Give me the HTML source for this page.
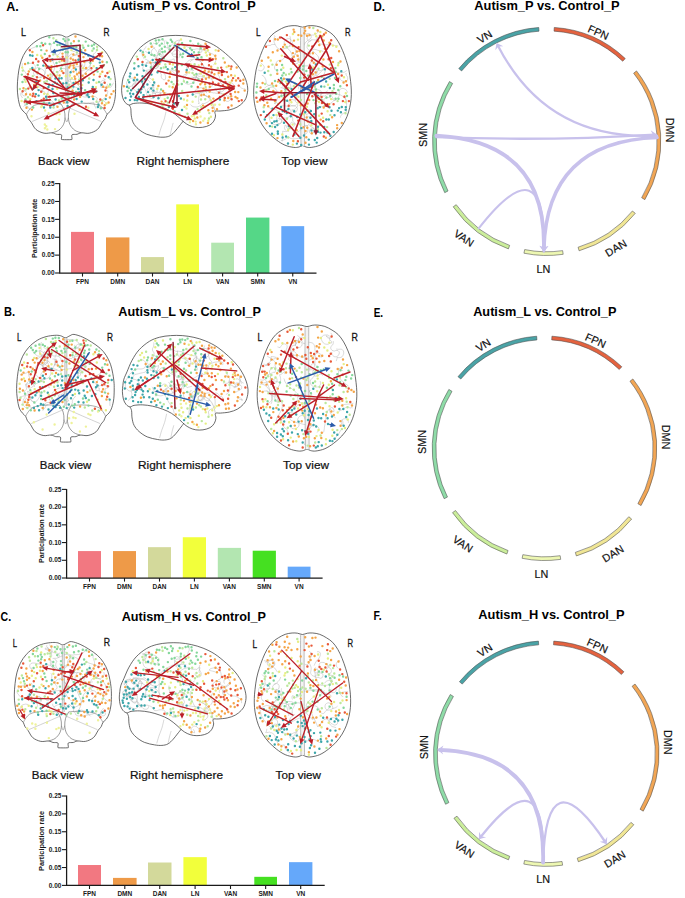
<!DOCTYPE html>
<html><head><meta charset="utf-8"><style>
html,body{margin:0;padding:0;background:#fff;}
svg{display:block;font-family:"Liberation Sans", sans-serif;}
</style></head><body>
<svg width="685" height="898" viewBox="0 0 685 898">
<rect width="685" height="898" fill="#fff"/>
<text x="6.30" y="10.80" font-size="13.5" font-weight="bold" text-anchor="start" textLength="12.50" lengthAdjust="spacingAndGlyphs" fill="#000" >A.</text>
<text x="4.10" y="316.40" font-size="13.5" font-weight="bold" text-anchor="start" textLength="11.10" lengthAdjust="spacingAndGlyphs" fill="#000" >B.</text>
<text x="0.60" y="621.30" font-size="13.5" font-weight="bold" text-anchor="start" textLength="10.50" lengthAdjust="spacingAndGlyphs" fill="#000" >C.</text>
<text x="373.50" y="10.70" font-size="13.5" font-weight="bold" text-anchor="start" textLength="11.50" lengthAdjust="spacingAndGlyphs" fill="#000" >D.</text>
<text x="373.70" y="316.60" font-size="13.5" font-weight="bold" text-anchor="start" textLength="9.40" lengthAdjust="spacingAndGlyphs" fill="#000" >E.</text>
<text x="373.50" y="619.60" font-size="13.5" font-weight="bold" text-anchor="start" textLength="8.10" lengthAdjust="spacingAndGlyphs" fill="#000" >F.</text>
<text x="111.50" y="9.90" font-size="12.7" font-weight="bold" text-anchor="start" textLength="144.20" lengthAdjust="spacingAndGlyphs" fill="#000" >Autism_P vs. Control_P</text>
<text x="118.30" y="315.80" font-size="12.7" font-weight="bold" text-anchor="start" textLength="142.70" lengthAdjust="spacingAndGlyphs" fill="#000" >Autism_L vs. Control_P</text>
<text x="121.70" y="621.10" font-size="12.7" font-weight="bold" text-anchor="start" textLength="144.30" lengthAdjust="spacingAndGlyphs" fill="#000" >Autism_H vs. Control_P</text>
<text x="474.30" y="9.90" font-size="12.7" font-weight="bold" text-anchor="start" textLength="145.40" lengthAdjust="spacingAndGlyphs" fill="#000" >Autism_P vs. Control_P</text>
<text x="473.20" y="316.20" font-size="12.7" font-weight="bold" text-anchor="start" textLength="143.20" lengthAdjust="spacingAndGlyphs" fill="#000" >Autism_L vs. Control_P</text>
<text x="478.30" y="619.30" font-size="12.7" font-weight="bold" text-anchor="start" textLength="146.20" lengthAdjust="spacingAndGlyphs" fill="#000" >Autism_H vs. Control_P</text>
<rect x="71.00" y="231.88" width="23.00" height="41.12" fill="#F27881"/>
<rect x="106.00" y="237.42" width="23.40" height="35.58" fill="#EE9A48"/>
<rect x="141.00" y="257.09" width="23.00" height="15.91" fill="#D3D99B"/>
<rect x="176.20" y="204.34" width="22.80" height="68.66" fill="#F2FF3B"/>
<rect x="211.20" y="242.68" width="22.80" height="30.32" fill="#B3E6B1"/>
<rect x="246.00" y="217.57" width="23.40" height="55.43" fill="#55D787"/>
<rect x="281.30" y="226.15" width="22.90" height="46.85" fill="#65A8FA"/>
<path d="M59.70 183.10 V273.60 M59.10 273.00 H316.50" stroke="#1a1a1a" stroke-width="1.25" fill="none"/>
<path d="M55.10 273.00 H59.7" stroke="#1a1a1a" stroke-width="1.1"/>
<text x="54.50" y="275.20" font-size="6.5" font-weight="bold" text-anchor="end" fill="#1a1a1a" >0.00</text>
<path d="M55.10 255.12 H59.7" stroke="#1a1a1a" stroke-width="1.1"/>
<text x="54.50" y="257.32" font-size="6.5" font-weight="bold" text-anchor="end" fill="#1a1a1a" >0.05</text>
<path d="M55.10 237.24 H59.7" stroke="#1a1a1a" stroke-width="1.1"/>
<text x="54.50" y="239.44" font-size="6.5" font-weight="bold" text-anchor="end" fill="#1a1a1a" >0.10</text>
<path d="M55.10 219.36 H59.7" stroke="#1a1a1a" stroke-width="1.1"/>
<text x="54.50" y="221.56" font-size="6.5" font-weight="bold" text-anchor="end" fill="#1a1a1a" >0.15</text>
<path d="M55.10 201.48 H59.7" stroke="#1a1a1a" stroke-width="1.1"/>
<text x="54.50" y="203.68" font-size="6.5" font-weight="bold" text-anchor="end" fill="#1a1a1a" >0.20</text>
<path d="M55.10 183.60 H59.7" stroke="#1a1a1a" stroke-width="1.1"/>
<text x="54.50" y="185.80" font-size="6.5" font-weight="bold" text-anchor="end" fill="#1a1a1a" >0.25</text>
<path d="M82.50 273.0 V276.60" stroke="#1a1a1a" stroke-width="1.1"/>
<text x="82.50" y="283.70" font-size="6.5" font-weight="bold" text-anchor="middle" fill="#1a1a1a" >FPN</text>
<path d="M117.70 273.0 V276.60" stroke="#1a1a1a" stroke-width="1.1"/>
<text x="117.70" y="283.70" font-size="6.5" font-weight="bold" text-anchor="middle" fill="#1a1a1a" >DMN</text>
<path d="M152.50 273.0 V276.60" stroke="#1a1a1a" stroke-width="1.1"/>
<text x="152.50" y="283.70" font-size="6.5" font-weight="bold" text-anchor="middle" fill="#1a1a1a" >DAN</text>
<path d="M187.60 273.0 V276.60" stroke="#1a1a1a" stroke-width="1.1"/>
<text x="187.60" y="283.70" font-size="6.5" font-weight="bold" text-anchor="middle" fill="#1a1a1a" >LN</text>
<path d="M222.60 273.0 V276.60" stroke="#1a1a1a" stroke-width="1.1"/>
<text x="222.60" y="283.70" font-size="6.5" font-weight="bold" text-anchor="middle" fill="#1a1a1a" >VAN</text>
<path d="M257.70 273.0 V276.60" stroke="#1a1a1a" stroke-width="1.1"/>
<text x="257.70" y="283.70" font-size="6.5" font-weight="bold" text-anchor="middle" fill="#1a1a1a" >SMN</text>
<path d="M292.75 273.0 V276.60" stroke="#1a1a1a" stroke-width="1.1"/>
<text x="292.75" y="283.70" font-size="6.5" font-weight="bold" text-anchor="middle" fill="#1a1a1a" >VN</text>
<text x="36.80" y="228.30" font-size="7.2" font-weight="bold" text-anchor="middle" textLength="59.40" lengthAdjust="spacingAndGlyphs" transform="rotate(-90.00 36.80 228.30)" fill="#1a1a1a" >Participation rate</text>
<rect x="78.00" y="551.07" width="23.00" height="26.93" fill="#F27881"/>
<rect x="113.00" y="551.07" width="23.00" height="26.93" fill="#EE9A48"/>
<rect x="148.00" y="547.17" width="23.00" height="30.83" fill="#D3D99B"/>
<rect x="182.80" y="537.24" width="23.20" height="40.76" fill="#F2FF3B"/>
<rect x="217.80" y="547.88" width="23.20" height="30.12" fill="#B3E6B1"/>
<rect x="252.70" y="550.71" width="23.20" height="27.29" fill="#45E021"/>
<rect x="287.70" y="566.66" width="22.80" height="11.34" fill="#65A8FA"/>
<path d="M66.60 488.90 V578.60 M66.00 578.00 H322.60" stroke="#1a1a1a" stroke-width="1.25" fill="none"/>
<path d="M62.00 578.00 H66.6" stroke="#1a1a1a" stroke-width="1.1"/>
<text x="61.40" y="580.20" font-size="6.5" font-weight="bold" text-anchor="end" fill="#1a1a1a" >0.00</text>
<path d="M62.00 560.28 H66.6" stroke="#1a1a1a" stroke-width="1.1"/>
<text x="61.40" y="562.48" font-size="6.5" font-weight="bold" text-anchor="end" fill="#1a1a1a" >0.05</text>
<path d="M62.00 542.56 H66.6" stroke="#1a1a1a" stroke-width="1.1"/>
<text x="61.40" y="544.76" font-size="6.5" font-weight="bold" text-anchor="end" fill="#1a1a1a" >0.10</text>
<path d="M62.00 524.84 H66.6" stroke="#1a1a1a" stroke-width="1.1"/>
<text x="61.40" y="527.04" font-size="6.5" font-weight="bold" text-anchor="end" fill="#1a1a1a" >0.15</text>
<path d="M62.00 507.12 H66.6" stroke="#1a1a1a" stroke-width="1.1"/>
<text x="61.40" y="509.32" font-size="6.5" font-weight="bold" text-anchor="end" fill="#1a1a1a" >0.20</text>
<path d="M62.00 489.40 H66.6" stroke="#1a1a1a" stroke-width="1.1"/>
<text x="61.40" y="491.60" font-size="6.5" font-weight="bold" text-anchor="end" fill="#1a1a1a" >0.25</text>
<path d="M89.50 578.0 V581.60" stroke="#1a1a1a" stroke-width="1.1"/>
<text x="89.50" y="588.70" font-size="6.5" font-weight="bold" text-anchor="middle" fill="#1a1a1a" >FPN</text>
<path d="M124.50 578.0 V581.60" stroke="#1a1a1a" stroke-width="1.1"/>
<text x="124.50" y="588.70" font-size="6.5" font-weight="bold" text-anchor="middle" fill="#1a1a1a" >DMN</text>
<path d="M159.50 578.0 V581.60" stroke="#1a1a1a" stroke-width="1.1"/>
<text x="159.50" y="588.70" font-size="6.5" font-weight="bold" text-anchor="middle" fill="#1a1a1a" >DAN</text>
<path d="M194.40 578.0 V581.60" stroke="#1a1a1a" stroke-width="1.1"/>
<text x="194.40" y="588.70" font-size="6.5" font-weight="bold" text-anchor="middle" fill="#1a1a1a" >LN</text>
<path d="M229.40 578.0 V581.60" stroke="#1a1a1a" stroke-width="1.1"/>
<text x="229.40" y="588.70" font-size="6.5" font-weight="bold" text-anchor="middle" fill="#1a1a1a" >VAN</text>
<path d="M264.30 578.0 V581.60" stroke="#1a1a1a" stroke-width="1.1"/>
<text x="264.30" y="588.70" font-size="6.5" font-weight="bold" text-anchor="middle" fill="#1a1a1a" >SMN</text>
<path d="M299.10 578.0 V581.60" stroke="#1a1a1a" stroke-width="1.1"/>
<text x="299.10" y="588.70" font-size="6.5" font-weight="bold" text-anchor="middle" fill="#1a1a1a" >VN</text>
<text x="44.20" y="533.50" font-size="7.2" font-weight="bold" text-anchor="middle" textLength="59.00" lengthAdjust="spacingAndGlyphs" transform="rotate(-90.00 44.20 533.50)" fill="#1a1a1a" >Participation rate</text>
<rect x="78.00" y="865.02" width="23.00" height="20.38" fill="#F27881"/>
<rect x="113.00" y="877.89" width="23.60" height="7.51" fill="#EE9A48"/>
<rect x="148.00" y="862.51" width="23.50" height="22.89" fill="#D3D99B"/>
<rect x="183.40" y="857.15" width="23.40" height="28.25" fill="#F2FF3B"/>
<rect x="254.30" y="876.82" width="22.70" height="8.58" fill="#45E021"/>
<rect x="289.00" y="862.16" width="23.40" height="23.24" fill="#65A8FA"/>
<path d="M66.60 795.50 V886.00 M66.00 885.40 H324.70" stroke="#1a1a1a" stroke-width="1.25" fill="none"/>
<path d="M62.00 885.40 H66.6" stroke="#1a1a1a" stroke-width="1.1"/>
<text x="61.40" y="887.60" font-size="6.5" font-weight="bold" text-anchor="end" fill="#1a1a1a" >0.00</text>
<path d="M62.00 867.52 H66.6" stroke="#1a1a1a" stroke-width="1.1"/>
<text x="61.40" y="869.72" font-size="6.5" font-weight="bold" text-anchor="end" fill="#1a1a1a" >0.05</text>
<path d="M62.00 849.64 H66.6" stroke="#1a1a1a" stroke-width="1.1"/>
<text x="61.40" y="851.84" font-size="6.5" font-weight="bold" text-anchor="end" fill="#1a1a1a" >0.10</text>
<path d="M62.00 831.76 H66.6" stroke="#1a1a1a" stroke-width="1.1"/>
<text x="61.40" y="833.96" font-size="6.5" font-weight="bold" text-anchor="end" fill="#1a1a1a" >0.15</text>
<path d="M62.00 813.88 H66.6" stroke="#1a1a1a" stroke-width="1.1"/>
<text x="61.40" y="816.08" font-size="6.5" font-weight="bold" text-anchor="end" fill="#1a1a1a" >0.20</text>
<path d="M62.00 796.00 H66.6" stroke="#1a1a1a" stroke-width="1.1"/>
<text x="61.40" y="798.20" font-size="6.5" font-weight="bold" text-anchor="end" fill="#1a1a1a" >0.25</text>
<path d="M89.50 885.4 V889.00" stroke="#1a1a1a" stroke-width="1.1"/>
<text x="89.50" y="896.10" font-size="6.5" font-weight="bold" text-anchor="middle" fill="#1a1a1a" >FPN</text>
<path d="M124.80 885.4 V889.00" stroke="#1a1a1a" stroke-width="1.1"/>
<text x="124.80" y="896.10" font-size="6.5" font-weight="bold" text-anchor="middle" fill="#1a1a1a" >DMN</text>
<path d="M159.75 885.4 V889.00" stroke="#1a1a1a" stroke-width="1.1"/>
<text x="159.75" y="896.10" font-size="6.5" font-weight="bold" text-anchor="middle" fill="#1a1a1a" >DAN</text>
<path d="M195.10 885.4 V889.00" stroke="#1a1a1a" stroke-width="1.1"/>
<text x="195.10" y="896.10" font-size="6.5" font-weight="bold" text-anchor="middle" fill="#1a1a1a" >LN</text>
<path d="M230.50 885.4 V889.00" stroke="#1a1a1a" stroke-width="1.1"/>
<text x="230.50" y="896.10" font-size="6.5" font-weight="bold" text-anchor="middle" fill="#1a1a1a" >VAN</text>
<path d="M265.65 885.4 V889.00" stroke="#1a1a1a" stroke-width="1.1"/>
<text x="265.65" y="896.10" font-size="6.5" font-weight="bold" text-anchor="middle" fill="#1a1a1a" >SMN</text>
<path d="M300.70 885.4 V889.00" stroke="#1a1a1a" stroke-width="1.1"/>
<text x="300.70" y="896.10" font-size="6.5" font-weight="bold" text-anchor="middle" fill="#1a1a1a" >VN</text>
<text x="43.60" y="841.00" font-size="7.2" font-weight="bold" text-anchor="middle" textLength="60.00" lengthAdjust="spacingAndGlyphs" transform="rotate(-90.00 43.60 841.00)" fill="#1a1a1a" >Participation rate</text>
<path d="M625.28 58.55 A114.15 114.15 0 0 0 554.27 27.45 L554.02 31.14 A110.45 110.45 0 0 1 622.73 61.23 Z" fill="#E4623F" stroke="#4a4a4a" stroke-width="0.55"/>
<path d="M538.74 27.48 A114.15 114.15 0 0 0 458.75 68.59 L461.60 70.95 A110.45 110.45 0 0 1 539.00 31.17 Z" fill="#4AA3A6" stroke="#4a4a4a" stroke-width="0.55"/>
<path d="M449.48 81.54 A114.15 114.15 0 0 0 444.72 192.64 L448.03 190.98 A110.45 110.45 0 0 1 452.63 83.48 Z" fill="#8FDCA8" stroke="#4a4a4a" stroke-width="0.55"/>
<path d="M453.19 206.82 A114.15 114.15 0 0 0 508.41 248.89 L509.65 245.40 A110.45 110.45 0 0 1 456.22 204.70 Z" fill="#CBEE9B" stroke="#4a4a4a" stroke-width="0.55"/>
<path d="M523.94 253.21 A114.15 114.15 0 0 0 563.18 254.30 L562.64 250.64 A110.45 110.45 0 0 1 524.68 249.58 Z" fill="#EDF7B2" stroke="#4a4a4a" stroke-width="0.55"/>
<path d="M579.12 250.80 A114.15 114.15 0 0 0 635.29 213.34 L632.41 211.01 A110.45 110.45 0 0 1 578.07 247.25 Z" fill="#F0E695" stroke="#4a4a4a" stroke-width="0.55"/>
<path d="M644.85 199.63 A114.15 114.15 0 0 0 636.53 70.92 L633.62 73.20 A110.45 110.45 0 0 1 641.67 197.74 Z" fill="#F2A655" stroke="#4a4a4a" stroke-width="0.55"/>
<text x="484.70" y="40.70" font-size="10.8" font-weight="normal" text-anchor="middle" transform="rotate(-32.00 484.70 36.90)" fill="#111" stroke="#111" stroke-width="0.18">VN</text>
<text x="598.40" y="36.20" font-size="10.8" font-weight="normal" text-anchor="middle" transform="rotate(24.00 598.40 32.40)" fill="#111" stroke="#111" stroke-width="0.18">FPN</text>
<text x="669.50" y="133.80" font-size="10.8" font-weight="normal" text-anchor="middle" transform="rotate(90.00 669.50 130.00)" fill="#111" stroke="#111" stroke-width="0.18">DMN</text>
<text x="615.90" y="251.80" font-size="10.8" font-weight="normal" text-anchor="middle" transform="rotate(-31.00 615.90 248.00)" fill="#111" stroke="#111" stroke-width="0.18">DAN</text>
<text x="543.50" y="272.50" font-size="10.8" font-weight="normal" text-anchor="middle" fill="#111" stroke="#111" stroke-width="0.18">LN</text>
<text x="464.00" y="242.00" font-size="10.8" font-weight="normal" text-anchor="middle" transform="rotate(33.00 464.00 238.20)" fill="#111" stroke="#111" stroke-width="0.18">VAN</text>
<text x="422.90" y="138.80" font-size="10.8" font-weight="normal" text-anchor="middle" transform="rotate(-90.00 422.90 135.00)" fill="#111" stroke="#111" stroke-width="0.18">SMN</text>
<path d="M436.33 137.11 Q546.70 141.35 654.44 134.57" fill="none" stroke="#C8C1EC" stroke-width="2.3" stroke-linecap="round"/>
<path d="M656.93 134.41 L651.23 139.28 L652.94 134.67 L650.66 130.30 Z" fill="#C8C1EC"/>
<path d="M657.00 135.57 Q546.70 141.35 497.69 45.17" fill="none" stroke="#C8C1EC" stroke-width="2.3" stroke-linecap="round"/>
<path d="M496.56 42.94 L503.29 46.24 L498.37 46.50 L495.27 50.33 Z" fill="#C8C1EC"/>
<path d="M436.40 135.57 Q546.70 141.35 543.87 249.26" fill="none" stroke="#C8C1EC" stroke-width="3.8" stroke-linecap="round"/>
<path d="M543.81 251.76 L539.47 245.65 L543.91 247.76 L548.46 245.88 Z" fill="#C8C1EC"/>
<path d="M657.08 137.50 Q546.70 141.35 543.87 249.26" fill="none" stroke="#C8C1EC" stroke-width="3.5" stroke-linecap="round"/>
<path d="M543.81 251.76 L539.47 245.65 L543.91 247.76 L548.46 245.88 Z" fill="#C8C1EC"/>
<path d="M478.70 228.39 Q546.70 141.35 543.81 251.76" fill="none" stroke="#C8C1EC" stroke-width="2.1" stroke-linecap="round"/>
<path d="M621.80 366.79 A112.30 112.30 0 0 0 551.94 336.20 L551.70 339.89 A108.60 108.60 0 0 1 619.26 369.47 Z" fill="#E4623F" stroke="#4a4a4a" stroke-width="0.55"/>
<path d="M536.67 336.22 A112.30 112.30 0 0 0 457.97 376.67 L460.82 379.03 A108.60 108.60 0 0 1 536.92 339.91 Z" fill="#4AA3A6" stroke="#4a4a4a" stroke-width="0.55"/>
<path d="M448.85 389.41 A112.30 112.30 0 0 0 444.17 498.71 L447.48 497.05 A108.60 108.60 0 0 1 452.00 391.35 Z" fill="#8FDCA8" stroke="#4a4a4a" stroke-width="0.55"/>
<path d="M452.51 512.66 A112.30 112.30 0 0 0 506.83 554.04 L508.07 550.56 A108.60 108.60 0 0 1 455.54 510.54 Z" fill="#CBEE9B" stroke="#4a4a4a" stroke-width="0.55"/>
<path d="M522.11 558.30 A112.30 112.30 0 0 0 560.71 559.37 L560.18 555.71 A108.60 108.60 0 0 1 522.85 554.67 Z" fill="#EDF7B2" stroke="#4a4a4a" stroke-width="0.55"/>
<path d="M576.39 555.93 A112.30 112.30 0 0 0 631.65 519.07 L628.78 516.74 A108.60 108.60 0 0 1 575.34 552.38 Z" fill="#F0E695" stroke="#4a4a4a" stroke-width="0.55"/>
<path d="M641.06 505.58 A112.30 112.30 0 0 0 632.87 378.96 L629.96 381.24 A108.60 108.60 0 0 1 637.88 503.69 Z" fill="#F2A655" stroke="#4a4a4a" stroke-width="0.55"/>
<text x="483.24" y="348.85" font-size="10.8" font-weight="normal" text-anchor="middle" transform="rotate(-32.00 483.24 345.05)" fill="#111" stroke="#111" stroke-width="0.18">VN</text>
<text x="595.58" y="344.41" font-size="10.8" font-weight="normal" text-anchor="middle" transform="rotate(24.00 595.58 340.61)" fill="#111" stroke="#111" stroke-width="0.18">FPN</text>
<text x="665.83" y="440.84" font-size="10.8" font-weight="normal" text-anchor="middle" transform="rotate(90.00 665.83 437.04)" fill="#111" stroke="#111" stroke-width="0.18">DMN</text>
<text x="612.87" y="557.42" font-size="10.8" font-weight="normal" text-anchor="middle" transform="rotate(-31.00 612.87 553.62)" fill="#111" stroke="#111" stroke-width="0.18">DAN</text>
<text x="541.34" y="577.87" font-size="10.8" font-weight="normal" text-anchor="middle" fill="#111" stroke="#111" stroke-width="0.18">LN</text>
<text x="462.79" y="547.74" font-size="10.8" font-weight="normal" text-anchor="middle" transform="rotate(33.00 462.79 543.94)" fill="#111" stroke="#111" stroke-width="0.18">VAN</text>
<text x="422.19" y="445.78" font-size="10.8" font-weight="normal" text-anchor="middle" transform="rotate(-90.00 422.19 441.98)" fill="#111" stroke="#111" stroke-width="0.18">SMN</text>
<path d="M623.91 671.81 A112.75 112.75 0 0 0 553.77 641.10 L553.53 644.79 A109.05 109.05 0 0 1 621.37 674.50 Z" fill="#E4623F" stroke="#4a4a4a" stroke-width="0.55"/>
<path d="M538.43 641.12 A112.75 112.75 0 0 0 459.42 681.73 L462.28 684.09 A109.05 109.05 0 0 1 538.69 644.82 Z" fill="#4AA3A6" stroke="#4a4a4a" stroke-width="0.55"/>
<path d="M450.27 694.52 A112.75 112.75 0 0 0 445.57 804.26 L448.88 802.60 A109.05 109.05 0 0 1 453.42 696.46 Z" fill="#8FDCA8" stroke="#4a4a4a" stroke-width="0.55"/>
<path d="M453.94 818.27 A112.75 112.75 0 0 0 508.48 859.82 L509.72 856.33 A109.05 109.05 0 0 1 456.97 816.15 Z" fill="#CBEE9B" stroke="#4a4a4a" stroke-width="0.55"/>
<path d="M523.82 864.09 A112.75 112.75 0 0 0 562.58 865.17 L562.04 861.51 A109.05 109.05 0 0 1 524.56 860.46 Z" fill="#EDF7B2" stroke="#4a4a4a" stroke-width="0.55"/>
<path d="M578.32 861.71 A112.75 112.75 0 0 0 633.80 824.71 L630.93 822.38 A109.05 109.05 0 0 1 577.27 858.16 Z" fill="#F0E695" stroke="#4a4a4a" stroke-width="0.55"/>
<path d="M643.25 811.16 A112.75 112.75 0 0 0 635.03 684.03 L632.12 686.31 A109.05 109.05 0 0 1 640.07 809.27 Z" fill="#F2A655" stroke="#4a4a4a" stroke-width="0.55"/>
<text x="484.92" y="653.99" font-size="10.8" font-weight="normal" text-anchor="middle" transform="rotate(-32.00 484.92 650.19)" fill="#111" stroke="#111" stroke-width="0.18">VN</text>
<text x="597.48" y="649.54" font-size="10.8" font-weight="normal" text-anchor="middle" transform="rotate(24.00 597.48 645.74)" fill="#111" stroke="#111" stroke-width="0.18">FPN</text>
<text x="667.87" y="746.16" font-size="10.8" font-weight="normal" text-anchor="middle" transform="rotate(90.00 667.87 742.36)" fill="#111" stroke="#111" stroke-width="0.18">DMN</text>
<text x="614.81" y="862.98" font-size="10.8" font-weight="normal" text-anchor="middle" transform="rotate(-31.00 614.81 859.18)" fill="#111" stroke="#111" stroke-width="0.18">DAN</text>
<text x="543.13" y="883.48" font-size="10.8" font-weight="normal" text-anchor="middle" fill="#111" stroke="#111" stroke-width="0.18">LN</text>
<text x="464.43" y="853.28" font-size="10.8" font-weight="normal" text-anchor="middle" transform="rotate(33.00 464.43 849.48)" fill="#111" stroke="#111" stroke-width="0.18">VAN</text>
<text x="423.74" y="751.11" font-size="10.8" font-weight="normal" text-anchor="middle" transform="rotate(-90.00 423.74 747.31)" fill="#111" stroke="#111" stroke-width="0.18">SMN</text>
<path d="M543.06 862.60 Q546.30 753.60 439.81 749.88" fill="none" stroke="#C8C1EC" stroke-width="3.8" stroke-linecap="round"/>
<path d="M437.32 749.79 L443.47 745.51 L441.31 749.93 L443.16 754.50 Z" fill="#C8C1EC"/>
<path d="M543.06 862.60 Q546.30 753.60 480.41 837.33" fill="none" stroke="#C8C1EC" stroke-width="2.3" stroke-linecap="round"/>
<path d="M478.86 839.30 L479.04 831.80 L481.34 836.15 L486.11 837.37 Z" fill="#C8C1EC"/>
<path d="M543.06 862.60 Q546.30 753.60 605.42 842.24" fill="none" stroke="#C8C1EC" stroke-width="2.3" stroke-linecap="round"/>
<path d="M606.81 844.32 L599.73 841.83 L604.59 841.00 L607.22 836.84 Z" fill="#C8C1EC"/>
<path d="M47.9 78.6 L48.7 77.6 L49.8 76.9 L50.9 76.3 L52.2 76.0 L53.4 75.5 L54.7 75.2 L56.0 75.2 L57.1 75.8 L57.5 74.5 L57.9 73.3 L58.4 72.1 L59.1 71.0 L59.9 70.0 L60.8 69.1 L62.0 68.5 L63.3 68.4 L64.6 68.5 L65.7 69.1 L66.5 70.1 L67.1 71.3" fill="none" stroke="#b4b4b4" stroke-width="0.5" stroke-linejoin="round"/>
<path d="M92.9 56.3 L93.3 55.0 L93.5 53.8 L94.7 53.3 L95.6 52.3 L96.4 51.3 L97.2 50.2 L97.4 49.0 L97.2 47.7 L97.0 46.4" fill="none" stroke="#b4b4b4" stroke-width="0.5" stroke-linejoin="round"/>
<path d="M82.7 82.1 L81.8 81.2 L80.9 80.2 L80.1 79.2 L79.3 78.1 L78.7 77.0 L78.2 75.8 L77.7 74.6 L77.2 73.4 L76.6 72.3 L76.0 71.1 L75.7 69.9 L75.7 68.6 L75.3 67.3 L74.8 66.1 L74.5 64.9 L74.1 63.6 L73.8 62.4 L73.4 61.1 L73.0 59.9 L72.8 58.6" fill="none" stroke="#b4b4b4" stroke-width="0.5" stroke-linejoin="round"/>
<path d="M79.3 72.2 L79.3 70.9 L79.4 69.6 L79.8 68.4 L80.2 67.2 L80.3 65.9 L80.4 64.6 L80.3 63.3 L80.1 62.0 L79.7 60.8 L79.4 59.5 L78.9 58.3 L78.6 57.0 L78.2 55.8 L77.5 54.7 L76.2 55.0 L74.9 55.2 L73.7 54.9 L72.5 54.4 L71.3 53.8 L70.5 54.9 L69.5 55.7 L68.5 56.5 L67.4 57.2 L66.1 57.3" fill="none" stroke="#b4b4b4" stroke-width="0.5" stroke-linejoin="round"/>
<path d="M103.3 78.2 L104.4 78.9 L105.3 79.9 L104.0 80.3 L102.7 80.3 L101.6 80.9 L100.8 82.0 L100.5 83.2 L100.7 84.5 L101.2 85.7 L102.0 86.7 L103.2 87.4 L104.4 87.6 L105.7 87.3 L106.6 86.3 L107.3 85.2 L107.5 83.9" fill="none" stroke="#b4b4b4" stroke-width="0.5" stroke-linejoin="round"/>
<path d="M43.5 63.8 L44.0 62.6 L44.7 61.5 L45.6 60.6 L46.4 59.6 L47.4 58.8 L48.5 58.0 L49.4 57.1 L50.4 57.9 L51.3 58.8 L52.3 59.7 L52.9 60.9 L53.2 62.1 L53.8 63.3 L54.4 64.5 L54.7 65.7 L54.8 67.0 L54.6 68.3 L54.2 69.5 L53.8 70.8 L53.3 72.0 L53.0 73.2 L52.6 74.5 L52.2 75.7 L52.0 77.0 L51.5 78.2 L51.3 79.5 L50.0 79.2 L48.7 79.1 L47.4 79.3 L46.3 79.9 L45.4 80.8 L44.6 81.9 L44.0 83.0 L43.8 84.3" fill="none" stroke="#b4b4b4" stroke-width="0.5" stroke-linejoin="round"/>
<path d="M30.2 109.6 L29.2 108.8 L28.4 107.7 L28.0 106.5 L26.7 106.5 L25.5 105.8 L24.8 104.8 L24.4 103.5 L24.4 102.2 L24.6 100.9 L25.0 99.7 L25.8 98.7 L26.4 99.9 L26.7 101.1 L26.5 102.4 L26.2 103.7 L25.4 104.7 L24.5 105.7 L23.5 106.5" fill="none" stroke="#b4b4b4" stroke-width="0.5" stroke-linejoin="round"/>
<path d="M52.6 43.1 L51.7 44.0 L51.1 45.2 L50.8 46.5 L50.5 47.7 L50.5 49.0 L50.9 50.3 L51.6 51.4 L52.5 52.2 L53.6 52.9 L54.8 53.6 L55.8 54.4 L56.8 55.2 L57.8 56.0 L58.9 56.7 L59.9 57.6 L61.0 58.2 L62.3 58.5 L63.5 58.3 L64.7 57.7 L65.6 56.7 L66.2 55.6" fill="none" stroke="#b4b4b4" stroke-width="0.5" stroke-linejoin="round"/>
<path d="M94.8 71.9 L93.5 71.7 L92.2 71.3 L91.1 70.7 L89.9 70.1 L88.7 69.7 L87.4 69.7 L86.1 69.6 L85.0 68.9 L84.0 68.1 L83.3 67.0 L82.9 65.8 L82.4 64.6 L81.3 65.3 L80.4 66.2 L79.7 67.3 L79.6 68.6 L80.0 69.8 L81.0 70.7 L82.2 70.9 L83.4 70.3 L84.6 69.9 L85.9 69.4 L86.9 68.6 L87.9 67.9 L88.8 66.9 L89.6 65.8 L90.4 64.8 L90.8 63.6" fill="none" stroke="#b4b4b4" stroke-width="0.5" stroke-linejoin="round"/>
<path d="M30.3 85.0 L29.4 85.9 L28.6 86.9 L27.7 87.8 L26.8 88.8 L25.8 89.7 L24.8 90.4 L23.7 91.2 L22.8 92.1 L22.0 93.2 L22.2 94.5 L23.0 95.5 L24.2 95.9 L25.5 95.7 L26.4 94.7 L26.8 93.4 L26.4 92.2 L25.5 91.2 L24.3 90.7 L23.1 91.0 L21.9 91.7 L21.1 92.7 L20.7 93.9 L20.8 95.2 L21.3 96.4 L22.4 97.1 L21.8 98.2" fill="none" stroke="#b4b4b4" stroke-width="0.5" stroke-linejoin="round"/>
<path d="M96.1 101.8 L96.6 100.6 L97.0 99.4 L97.4 98.1 L96.3 97.4 L95.3 96.7 L94.0 96.4 L92.7 96.2 L91.4 96.4 L90.2 96.7 L88.9 96.7 L87.6 96.9 L86.3 96.9 L85.0 97.1 L83.7 96.9 L82.7 96.1 L81.4 95.8 L80.1 95.5 L78.9 95.2 L77.6 95.0" fill="none" stroke="#b4b4b4" stroke-width="0.5" stroke-linejoin="round"/>
<path d="M83.5 103.1 L84.8 103.3 L86.1 103.5 L87.4 103.2 L88.6 102.9 L89.9 103.0 L91.2 102.7 L92.5 102.4 L93.8 102.4 L93.9 103.7 L94.4 104.9 L94.9 106.1 L95.5 107.3 L95.8 108.5" fill="none" stroke="#b4b4b4" stroke-width="0.5" stroke-linejoin="round"/>
<path d="M63.3 100.2 L63.1 98.9 L63.3 97.6 L63.3 96.3 L63.4 95.0 L63.8 93.8 L64.3 92.6 L65.2 91.7 L66.4 91.2 L67.7 90.9 L68.8 90.2 L69.5 89.1 L69.7 87.8 L69.2 86.6 L68.4 85.6 L67.6 84.6 L66.5 83.9 L65.3 83.4 L64.0 83.5 L62.8 84.1 L61.9 85.0" fill="none" stroke="#b4b4b4" stroke-width="0.5" stroke-linejoin="round"/>
<path d="M26.9 64.0 L28.2 63.8 L29.4 63.5 L30.7 63.3 L32.0 63.4 L33.3 63.7 L34.2 64.6 L35.0 65.6 L35.4 66.8 L35.3 68.1 L35.1 69.4 L35.2 70.7 L35.5 72.0 L36.1 73.2 L36.9 74.2 L37.8 75.1 L38.0 73.9 L38.2 72.6 L38.2 71.3 L38.4 70.0" fill="none" stroke="#b4b4b4" stroke-width="0.5" stroke-linejoin="round"/>
<path d="M40.2 76.5 L40.4 77.8 L41.5 77.2 L42.7 76.7 L43.8 76.0 L44.5 74.9 L44.7 73.6 L44.6 72.3 L44.2 71.1 L43.5 70.0 L42.4 69.4 L41.2 68.8 L40.0 68.2 L38.8 67.7 L37.5 67.6 L36.4 68.2 L35.4 69.0 L34.5 69.9 L34.0 71.1 L33.7 72.4 L33.6 73.7 L34.2 74.9 L35.0 75.9 L35.9 76.8 L37.2 77.3 L38.4 77.4 L39.7 77.3 L41.0 77.1 L42.2 76.6 L43.2 75.7 L44.2 74.9 L45.0 73.9 L45.5 72.7 L45.7 71.4 L45.6 70.1 L45.2 68.9 L44.8 67.7" fill="none" stroke="#b4b4b4" stroke-width="0.5" stroke-linejoin="round"/>
<path d="M82.3 77.0 L82.9 75.9 L83.6 74.8 L84.3 73.7 L85.1 72.7 L86.1 71.9 L87.1 71.0 L88.1 70.2 L89.1 69.4 L89.7 68.3 L90.0 67.0 L90.3 65.7 L90.2 64.4 L89.7 63.2 L89.0 62.1 L87.8 61.6 L86.6 61.8 L85.4 62.5 L84.8 63.6 L84.8 64.9 L84.5 66.2 L83.9 67.3" fill="none" stroke="#b4b4b4" stroke-width="0.5" stroke-linejoin="round"/>
<path d="M80.6 93.5 L80.2 92.3 L79.2 91.3 L80.0 90.3 L80.1 89.0 L80.0 87.7 L79.4 86.5 L78.6 85.6 L78.1 84.4 L78.3 83.1 L79.0 82.0 L80.0 81.1 L80.5 82.3 L80.6 83.6 L79.7 84.6 L78.4 85.0 L77.2 84.6 L76.4 83.6 L76.3 82.3 L75.9 81.0 L75.0 80.1 L73.8 79.6 L72.5 79.4 L71.2 79.4 L69.9 79.5 L68.8 80.1 L67.8 81.0 L69.1 81.3 L70.4 81.2" fill="none" stroke="#b4b4b4" stroke-width="0.5" stroke-linejoin="round"/>
<path d="M105.1 81.0 L104.0 81.8 L103.0 82.5 L102.2 83.6 L101.3 84.5 L101.0 85.8 L100.7 87.1 L102.0 87.5 L103.3 87.5 L104.6 87.4 L105.8 87.2 L107.1 87.0 L108.4 87.0 L109.7 87.1 L111.0 87.2 L111.6 86.1 L112.3 85.0 L113.0 83.9 L113.5 82.7" fill="none" stroke="#b4b4b4" stroke-width="0.5" stroke-linejoin="round"/>
<path d="M81.3 93.4 L81.4 92.1 L80.8 90.9 L80.1 89.8 L79.2 88.9 L78.1 88.1 L76.9 87.6 L75.7 87.2 L74.4 87.2 L73.4 88.0 L72.5 89.0 L72.0 90.2 L71.6 91.4 L71.6 92.7 L71.6 94.0 L71.7 95.3 L71.7 96.6 L71.7 97.9 L71.6 99.2 L70.8 100.2 L70.0 101.2 L69.2 102.3 L68.2 103.1 L67.2 103.9 L66.2 103.2 L65.0 102.5 L64.0 101.8 L62.7 101.4 L61.4 101.6 L60.5 102.4 L60.1 103.7 L60.6 104.9" fill="none" stroke="#b4b4b4" stroke-width="0.5" stroke-linejoin="round"/>
<path d="M42.4 92.2 L42.6 90.9 L42.3 89.6 L41.4 88.7 L40.5 87.8 L39.5 86.9 L38.5 86.1 L37.2 85.8 L36.0 85.7 L34.7 86.0 L35.4 87.1 L36.4 87.9 L37.4 88.8 L38.5 89.6 L39.6 90.1 L40.9 90.4 L42.2 90.7 L43.4 91.1 L44.3 92.0 L45.3 92.9 L46.2 93.9 L46.9 94.9 L47.7 96.0 L48.5 97.0 L49.3 98.0 L50.1 99.0 L50.8 100.1 L51.7 101.0 L52.8 101.8 L53.7 102.7 L54.7 103.6 L55.6 104.5 L56.3 105.6 L57.1 106.7" fill="none" stroke="#b4b4b4" stroke-width="0.5" stroke-linejoin="round"/>
<path d="M98.2 105.9 L97.9 104.6 L97.9 103.3 L97.7 102.1 L99.0 101.8 L100.1 101.1 L101.3 100.6 L102.3 99.8 L103.3 99.0 L104.4 98.2 L105.3 97.3 L106.2 96.4 L106.8 95.2 L107.2 94.0 L107.6 92.7 L107.8 91.5 L107.4 90.2" fill="none" stroke="#b4b4b4" stroke-width="0.5" stroke-linejoin="round"/>
<path d="M104.1 107.9 L102.8 107.7 L101.5 107.4 L100.3 107.1 L99.1 106.5 L98.3 105.4 L98.2 104.1 L98.5 102.9 L99.3 101.8 L100.2 100.9 L101.3 100.3 L102.6 100.3 L103.8 100.7 L104.8 101.6 L105.6 102.6 L106.1 103.8" fill="none" stroke="#b4b4b4" stroke-width="0.5" stroke-linejoin="round"/>
<path d="M79.2 47.9 L78.3 48.7 L77.0 48.9 L75.7 48.5 L74.8 49.4 L73.5 49.5 L72.3 49.0 L71.1 48.5 L70.1 47.7 L71.2 46.9 L72.3 46.4 L73.6 46.2 L74.9 46.6 L75.7 47.6 L76.2 48.8 L76.0 50.1 L75.2 51.1 L74.0 51.6 L72.7 51.4 L71.9 50.4 L71.4 49.2 L71.7 47.9 L72.4 46.8 L73.5 46.2 L74.8 45.9 L76.1 46.0" fill="none" stroke="#b4b4b4" stroke-width="0.5" stroke-linejoin="round"/>
<path d="M36.2 79.0 L36.9 80.1 L37.5 81.2 L38.3 82.2 L37.0 82.4 L35.7 82.3 L34.5 81.9 L33.3 81.4 L32.2 80.6 L31.2 79.8 L30.3 78.8 L29.6 77.8 L28.9 76.7 L28.0 75.7 L27.1 74.8 L26.3 73.8 L25.6 72.7 L24.8 71.6 L24.1 70.6 L23.3 69.6 L22.7 68.4 L22.4 67.1 L22.2 65.8 L22.4 64.5 L22.3 63.2" fill="none" stroke="#b4b4b4" stroke-width="0.5" stroke-linejoin="round"/>
<path d="M79.0 66.7 L77.7 66.5 L76.4 66.8 L75.2 67.2 L74.0 67.7 L73.0 68.5 L72.1 69.5 L71.2 70.4 L70.6 71.6 L70.0 72.7 L69.8 74.0 L69.6 75.3 L69.5 76.6 L69.8 77.9 L70.1 79.1 L70.4 80.4 L70.8 81.6 L71.3 82.8 L71.9 84.0 L71.9 85.3 L71.5 86.5 L70.7 87.6 L69.5 88.1 L68.2 88.3 L66.9 88.4 L66.5 89.6 L66.5 90.9" fill="none" stroke="#b4b4b4" stroke-width="0.5" stroke-linejoin="round"/>
<path d="M38.3 44.8 L37.4 45.9 L36.4 46.6 L35.1 47.0 L33.9 47.5 L32.7 47.9 L31.5 48.5 L30.3 49.0" fill="none" stroke="#b4b4b4" stroke-width="0.5" stroke-linejoin="round"/>
<path d="M84.8 90.6 L84.0 91.6 L83.7 92.9 L84.0 94.2 L84.9 95.1 L85.9 95.9 L87.2 96.3 L88.5 96.4 L88.3 95.1 L87.8 93.9 L86.8 93.0 L85.6 92.6 L84.3 92.8 L84.9 93.9 L85.9 94.7 L87.2 95.0 L88.4 94.7 L89.6 94.1 L90.7 93.5 L91.4 92.4 L91.7 91.1" fill="none" stroke="#b4b4b4" stroke-width="0.5" stroke-linejoin="round"/>
<path d="M48.3 89.6 L48.4 90.9 L48.1 92.1 L47.5 93.3 L46.8 94.4 L46.4 95.6 L45.8 96.8 L45.2 98.0 L44.4 99.0 L43.4 99.8 L42.2 100.4 L41.0 100.8 L39.8 101.3 L38.6 101.8 L39.2 102.9 L40.4 102.6 L41.7 102.4 L43.0 102.4 L44.3 102.4 L45.6 102.5 L46.9 102.6 L48.2 102.9 L49.4 103.4 L50.3 104.3 L51.1 105.3 L51.6 106.5 L52.5 107.4" fill="none" stroke="#b4b4b4" stroke-width="0.5" stroke-linejoin="round"/>
<path d="M52.9 53.0 L53.9 53.9 L55.0 54.5 L56.2 55.0 L57.5 55.1 L58.7 54.5 L59.6 53.6 L60.2 52.5 L60.3 51.2 L60.5 49.9 L61.0 48.7 L60.6 47.4 L60.7 46.1 L61.3 44.9 L62.1 44.0 L63.4 43.9 L64.6 44.5" fill="none" stroke="#b4b4b4" stroke-width="0.5" stroke-linejoin="round"/>
<path d="M81.1 61.9 L80.3 60.9 L79.4 59.9 L78.5 59.0 L79.3 58.0 L80.0 56.9 L80.2 55.6 L80.1 54.3 L79.5 53.1 L78.3 53.5 L77.1 54.1 L76.0 54.7 L74.8 55.3 L73.6 55.7 L72.4 56.3 L71.4 57.0 L70.1 57.1" fill="none" stroke="#b4b4b4" stroke-width="0.5" stroke-linejoin="round"/>
<path d="M66.40 37.20 C64.82 37.20 63.27 35.60 61.50 35.20 C59.73 34.80 58.22 34.65 55.80 34.80 C53.38 34.95 49.92 35.30 47.00 36.10 C44.08 36.90 41.22 37.85 38.30 39.60 C35.38 41.35 31.98 43.97 29.50 46.60 C27.02 49.23 25.00 52.33 23.40 55.40 C21.80 58.47 20.78 61.65 19.90 65.00 C19.02 68.35 18.53 71.83 18.10 75.50 C17.67 79.17 17.32 83.42 17.30 87.00 C17.28 90.58 17.55 93.80 18.00 97.00 C18.45 100.20 19.17 103.87 20.00 106.20 C20.83 108.53 21.93 109.65 23.00 111.00 C24.07 112.35 25.57 113.08 26.40 114.30 C27.23 115.52 27.20 116.97 28.00 118.30 C28.80 119.63 29.87 120.43 31.20 122.30 C32.53 124.17 33.85 127.68 36.00 129.50 C38.15 131.32 41.42 132.65 44.10 133.20 C46.78 133.75 50.03 132.62 52.10 132.80 C54.17 132.98 54.95 133.97 56.50 134.30 C58.05 134.63 60.58 134.05 61.40 134.80 C62.22 135.55 61.20 138.00 61.40 138.80 C61.60 139.60 61.00 139.47 62.60 139.60 C64.20 139.73 69.43 139.73 71.00 139.60 C72.57 139.47 71.83 139.60 72.00 138.80 C72.17 138.00 71.17 135.55 72.00 134.80 C72.83 134.05 75.45 134.63 77.00 134.30 C78.55 133.97 79.25 132.98 81.30 132.80 C83.35 132.62 86.62 133.75 89.30 133.20 C91.98 132.65 95.25 131.32 97.40 129.50 C99.55 127.68 100.87 124.17 102.20 122.30 C103.53 120.43 104.60 119.63 105.40 118.30 C106.20 116.97 106.15 115.52 107.00 114.30 C107.85 113.08 109.45 112.47 110.50 111.00 C111.55 109.53 112.52 107.83 113.30 105.50 C114.08 103.17 114.82 100.25 115.20 97.00 C115.58 93.75 115.60 89.00 115.60 86.00 C115.60 83.00 115.45 81.33 115.20 79.00 C114.95 76.67 114.65 74.62 114.10 72.00 C113.55 69.38 113.00 66.22 111.90 63.30 C110.80 60.38 109.25 57.13 107.50 54.50 C105.75 51.87 103.87 49.68 101.40 47.50 C98.93 45.32 95.62 43.22 92.70 41.40 C89.78 39.58 86.83 37.85 83.90 36.60 C80.97 35.35 77.25 34.13 75.10 33.90 C72.95 33.67 72.45 34.65 71.00 35.20 C69.55 35.75 67.98 37.20 66.40 37.20 Z" fill="none" stroke="#3a3a3a" stroke-width="0.75"/>
<path d="M65.9 37.5 L65.9 60.0 L65.9 85.0 L66.0 104.0 L67.8 104.0 L67.9 85.0 L67.9 60.0 L67.9 37.5 Z" fill="#efefef" stroke="none"/>
<path d="M65.90 37.50 C65.90 41.25 65.90 52.08 65.90 60.00 C65.90 67.92 65.88 77.67 65.90 85.00 C65.92 92.33 65.98 100.83 66.00 104.00" fill="none" stroke="#8f8f8f" stroke-width="0.55"/>
<path d="M67.90 37.50 C67.90 41.25 67.90 52.08 67.90 60.00 C67.90 67.92 67.92 77.67 67.90 85.00 C67.88 92.33 67.82 100.83 67.80 104.00" fill="none" stroke="#8f8f8f" stroke-width="0.55"/>
<path d="M52.10 132.80 C53.18 132.38 56.72 131.65 58.60 130.30 C60.48 128.95 62.33 126.83 63.40 124.70 C64.47 122.57 64.87 119.90 65.00 117.50 C65.13 115.10 64.87 112.58 64.20 110.30 C63.53 108.02 61.53 104.88 61.00 103.80" fill="none" stroke="#4a4a4a" stroke-width="0.55"/>
<path d="M81.30 132.80 C80.22 132.38 76.68 131.65 74.80 130.30 C72.92 128.95 71.07 126.83 70.00 124.70 C68.93 122.57 68.53 119.90 68.40 117.50 C68.27 115.10 68.53 112.58 69.20 110.30 C69.87 108.02 71.87 104.88 72.40 103.80" fill="none" stroke="#4a4a4a" stroke-width="0.55"/>
<path d="M26.40 114.30 C26.83 113.58 27.90 111.38 29.00 110.00 C30.10 108.62 31.17 107.00 33.00 106.00 C34.83 105.00 37.17 104.47 40.00 104.00 C42.83 103.53 46.50 103.23 50.00 103.20 C53.50 103.17 59.17 103.70 61.00 103.80" fill="none" stroke="#5a5a5a" stroke-width="0.5"/>
<path d="M107.00 114.30 C106.57 113.58 105.50 111.38 104.40 110.00 C103.30 108.62 102.23 107.00 100.40 106.00 C98.57 105.00 96.23 104.47 93.40 104.00 C90.57 103.53 86.90 103.23 83.40 103.20 C79.90 103.17 74.23 103.70 72.40 103.80" fill="none" stroke="#5a5a5a" stroke-width="0.5"/>
<path d="M32.00 121.50 C34.00 120.67 40.17 118.12 44.00 116.50 C47.83 114.88 51.50 113.30 55.00 111.80 C58.50 110.30 63.33 108.22 65.00 107.50" fill="none" stroke="#9a9a9a" stroke-width="0.45"/>
<path d="M68.40 107.50 C70.07 108.22 74.90 110.30 78.40 111.80 C81.90 113.30 85.57 114.88 89.40 116.50 C93.23 118.12 99.40 120.67 101.40 121.50" fill="none" stroke="#9a9a9a" stroke-width="0.45"/>
<path d="M65.00 117.50 C65.28 118.25 66.13 122.00 66.70 122.00 C67.27 122.00 68.12 118.25 68.40 117.50" fill="none" stroke="#6a6a6a" stroke-width="0.45"/>
<path d="M108.6 86.5h0M96.5 82.8h0M83.1 68.3h0M93.7 66.2h0M44.2 93.8h0M71.4 50.1h0M25.6 81.7h0M37.2 54.9h0M57.6 56.6h0M93.8 91.9h0M21.6 101.0h0M66.7 57.5h0M41.9 106.0h0M65.8 76.2h0M71.8 78.2h0M109.5 71.4h0M82.2 53.2h0M70.9 87.6h0M37.5 87.0h0M106.5 103.5h0M68.6 100.1h0M100.0 67.6h0M56.4 75.7h0M69.9 75.5h0M41.1 55.7h0M100.4 74.0h0M95.9 87.1h0M22.2 67.6h0M57.2 88.7h0M30.3 99.1h0M102.2 52.3h0M97.4 56.6h0M82.2 85.1h0M47.6 94.2h0" stroke="#E6EE84" stroke-width="2.45" stroke-linecap="round" fill="none"/>
<path d="M92.8 60.8h0M74.1 99.5h0M61.8 71.1h0M26.5 107.8h0M37.4 72.4h0M82.5 75.8h0M40.1 80.5h0M30.5 87.3h0M93.9 74.6h0M102.3 71.7h0M74.6 76.5h0M51.1 69.0h0M73.5 71.6h0M32.4 52.0h0M73.1 59.7h0M28.9 101.9h0M56.9 66.2h0M61.9 60.6h0M102.4 61.7h0M75.8 82.3h0M75.2 78.7h0M42.3 57.8h0M34.4 84.7h0M80.7 66.1h0M103.2 86.8h0M25.1 64.0h0M69.2 67.5h0M83.5 57.1h0M106.1 95.4h0M104.7 105.3h0M26.8 77.1h0M80.1 96.8h0M30.2 94.5h0M50.4 61.1h0M26.0 94.3h0M113.6 91.2h0M76.8 63.9h0M28.8 71.5h0M51.5 66.2h0M50.0 78.1h0M23.5 88.3h0M109.9 97.5h0M57.5 106.7h0M85.2 50.3h0M79.0 72.8h0M84.2 61.8h0M49.2 100.1h0M70.4 65.4h0M49.6 96.5h0M62.5 53.6h0M102.1 56.2h0M86.1 68.0h0M78.3 83.6h0M111.4 94.1h0M77.0 74.3h0M46.6 50.6h0M72.6 90.7h0M73.4 65.4h0M33.9 69.8h0M70.7 58.5h0M75.5 36.5h0M31.9 109.6h0M84.6 77.6h0M63.8 102.5h0M108.6 102.5h0M73.4 54.4h0M59.6 75.4h0M106.3 87.8h0M45.7 66.0h0M73.9 41.3h0M73.8 68.0h0M92.6 96.4h0M102.0 103.3h0M85.8 73.7h0M48.0 75.6h0M85.4 54.1h0" stroke="#F5A548" stroke-width="2.45" stroke-linecap="round" fill="none"/>
<path d="M19.9 89.0h0M96.6 101.7h0M56.2 50.6h0M69.3 84.8h0M47.0 81.2h0M50.5 74.4h0M30.3 69.3h0M22.8 70.6h0M53.3 54.4h0M97.1 46.8h0M53.4 38.2h0M59.5 61.8h0M97.0 49.9h0M76.8 52.5h0M60.1 82.3h0M25.9 89.3h0M82.6 45.5h0M32.8 76.1h0M64.5 63.6h0M28.0 97.3h0M89.2 78.5h0M56.3 40.3h0M92.3 50.7h0M44.3 82.0h0M59.0 100.5h0M54.0 74.0h0M70.5 62.5h0M78.8 105.7h0M53.6 107.5h0M56.9 72.0h0M79.1 79.8h0M102.3 100.7h0M64.6 48.3h0M67.8 45.6h0M110.5 78.9h0M24.6 79.4h0" stroke="#BCE89B" stroke-width="2.45" stroke-linecap="round" fill="none"/>
<path d="M30.1 55.2h0M96.7 68.1h0M44.0 107.4h0M54.9 82.4h0M66.4 82.9h0M76.6 98.9h0M50.3 107.4h0M67.6 105.9h0M43.3 65.6h0M78.4 59.7h0M81.7 101.6h0M46.1 59.7h0M101.6 84.7h0M73.3 86.6h0M53.7 104.9h0M46.6 99.4h0M35.9 94.1h0M75.9 69.4h0M63.1 83.5h0M55.4 78.5h0M59.1 78.5h0M87.9 92.4h0M59.3 102.9h0M82.9 80.2h0M92.8 86.9h0M99.8 62.6h0M97.9 107.0h0M93.5 80.0h0M36.5 101.1h0M32.3 67.9h0M67.2 102.3h0M52.4 59.5h0M33.1 88.8h0M60.9 95.9h0M79.4 92.3h0M57.1 83.6h0M53.4 92.9h0M88.4 55.4h0M48.6 66.7h0M88.9 96.9h0M55.6 99.5h0M48.5 86.9h0M81.4 88.2h0M49.3 103.2h0M70.6 72.2h0M36.3 81.5h0M105.7 99.1h0M46.1 96.7h0M38.6 90.1h0M52.6 84.9h0M74.3 94.9h0M93.2 99.0h0M98.5 104.6h0M52.5 89.0h0M49.1 84.5h0M87.4 95.0h0M78.3 89.0h0M38.6 95.6h0M32.5 55.8h0M108.7 77.3h0M73.5 83.0h0M65.5 88.9h0M88.7 82.5h0M96.2 91.6h0M67.7 87.4h0M61.6 78.3h0" stroke="#3DA6AA" stroke-width="2.45" stroke-linecap="round" fill="none"/>
<path d="M64.2 60.7h0M33.0 62.8h0M38.4 61.5h0M104.7 82.7h0M91.4 68.3h0M41.5 100.2h0M28.0 74.2h0M99.7 76.6h0M93.4 56.9h0M29.8 50.3h0M28.3 88.6h0M32.7 95.9h0M62.7 56.7h0M107.4 72.9h0M37.0 77.2h0M63.4 73.0h0M35.1 96.5h0M33.3 93.7h0M41.2 91.8h0M43.7 88.1h0M100.3 99.4h0M75.5 60.4h0M105.4 75.9h0M43.1 45.3h0M86.0 106.7h0M43.8 98.7h0M105.5 90.5h0M22.6 91.3h0M104.6 107.9h0M44.2 78.0h0M24.7 101.7h0M49.6 55.9h0M78.9 56.0h0M36.1 58.9h0" stroke="#E8593A" stroke-width="2.45" stroke-linecap="round" fill="none"/>
<path d="M71.1 43.4h0M41.2 50.1h0M63.5 39.0h0M65.6 52.3h0M76.3 47.0h0M85.7 41.6h0M22.5 82.0h0M100.8 108.3h0M45.2 43.7h0M83.5 47.8h0M41.7 43.0h0M71.6 94.0h0M67.9 52.3h0M37.7 65.1h0M54.1 42.7h0M68.7 39.8h0M68.7 97.5h0M61.0 68.4h0M93.7 48.5h0M40.3 46.2h0M44.8 54.0h0M88.3 45.7h0M36.9 46.3h0M97.6 71.6h0M49.7 43.9h0M103.7 65.5h0M61.8 98.5h0M59.8 44.7h0M81.2 50.1h0M33.2 107.5h0M76.0 92.0h0M91.9 45.7h0M78.8 41.0h0M28.1 62.9h0M106.9 62.3h0M62.7 49.7h0M65.2 41.0h0M36.9 83.8h0M73.6 47.1h0M68.2 91.5h0M110.1 84.5h0M26.8 103.9h0M43.9 102.7h0M99.0 81.9h0M39.2 69.0h0M25.4 99.4h0M94.1 44.4h0M49.3 37.2h0M57.3 45.0h0M62.0 65.2h0M56.5 62.9h0M85.1 90.1h0M90.4 62.9h0M21.8 74.6h0" stroke="#86D79C" stroke-width="2.45" stroke-linecap="round" fill="none"/>
<path d="M47.3 129.5h0M59.6 114.1h0M45.1 110.4h0M48.6 113.2h0M44.8 124.5h0M58.9 119.7h0M88.3 107.8h0M31.5 116.3h0M46.3 126.3h0M55.0 129.1h0M44.9 128.3h0M56.3 114.2h0M41.2 107.0h0M74.5 113.7h0" stroke="#EEF29A" stroke-width="2.45" stroke-linecap="round" fill="none"/>
<path d="M55.60 41.30 L100.00 59.80" stroke="#2A5BAA" stroke-width="1.55" fill="none" stroke-linecap="round"/>
<path d="M70.60 47.80 L53.99 51.48" stroke="#2A5BAA" stroke-width="1.55" fill="none" stroke-linecap="round"/><path d="M50.30 52.30 L55.03 48.69 L56.11 53.57 Z" fill="#2A5BAA"/>
<path d="M61.60 46.70 L80.00 45.20" stroke="#8E1B30" stroke-width="1.55" fill="none" stroke-linecap="round"/>
<path d="M80.00 45.20 L81.20 95.30" stroke="#8E1B30" stroke-width="1.55" fill="none" stroke-linecap="round"/>
<path d="M94.00 58.50 L99.89 54.44" stroke="#BC1F29" stroke-width="1.55" fill="none" stroke-linecap="round"/><path d="M103.00 52.30 L99.97 57.42 L97.13 53.30 Z" fill="#BC1F29"/>
<path d="M64.60 59.10 L46.58 59.68" stroke="#BC1F29" stroke-width="1.55" fill="none" stroke-linecap="round"/><path d="M42.80 59.80 L48.12 57.13 L48.28 62.13 Z" fill="#BC1F29"/>
<path d="M46.60 68.10 L90.98 59.80" stroke="#BC1F29" stroke-width="1.55" fill="none" stroke-linecap="round"/><path d="M94.70 59.10 L89.85 62.55 L88.93 57.64 Z" fill="#BC1F29"/>
<path d="M42.80 60.60 L66.10 89.90" stroke="#BC1F29" stroke-width="1.55" fill="none" stroke-linecap="round"/>
<path d="M32.30 69.60 L66.10 89.10" stroke="#BC1F29" stroke-width="1.55" fill="none" stroke-linecap="round"/>
<path d="M66.90 89.10 L102.03 66.35" stroke="#BC1F29" stroke-width="1.55" fill="none" stroke-linecap="round"/><path d="M105.20 64.30 L102.03 69.33 L99.31 65.14 Z" fill="#BC1F29"/>
<path d="M25.50 76.50 L39.10 81.00" stroke="#BC1F29" stroke-width="1.55" fill="none" stroke-linecap="round"/>
<path d="M25.50 76.50 L32.30 90.00" stroke="#BC1F29" stroke-width="1.55" fill="none" stroke-linecap="round"/>
<path d="M39.10 81.00 L34.58 86.98" stroke="#BC1F29" stroke-width="1.55" fill="none" stroke-linecap="round"/><path d="M32.30 90.00 L33.56 84.18 L37.55 87.20 Z" fill="#BC1F29"/>
<path d="M24.00 76.50 L95.86 114.63" stroke="#BC1F29" stroke-width="1.55" fill="none" stroke-linecap="round"/><path d="M99.20 116.40 L93.26 116.08 L95.60 111.66 Z" fill="#BC1F29"/>
<path d="M45.00 83.30 L78.40 94.13" stroke="#BC1F29" stroke-width="1.55" fill="none" stroke-linecap="round"/><path d="M82.00 95.30 L76.09 96.01 L77.63 91.26 Z" fill="#BC1F29"/>
<path d="M50.30 99.80 L29.25 102.35" stroke="#BC1F29" stroke-width="1.55" fill="none" stroke-linecap="round"/><path d="M25.50 102.80 L30.56 99.67 L31.16 104.63 Z" fill="#BC1F29"/>
<path d="M49.60 105.80 L93.45 89.80" stroke="#BC1F29" stroke-width="1.55" fill="none" stroke-linecap="round"/><path d="M97.00 88.50 L92.78 92.70 L91.07 88.00 Z" fill="#BC1F29"/>
<path d="M75.20 104.30 L47.01 117.77" stroke="#BC1F29" stroke-width="1.55" fill="none" stroke-linecap="round"/><path d="M43.60 119.40 L47.39 114.82 L49.55 119.33 Z" fill="#BC1F29"/>
<path d="M25.00 101.00 L48.00 105.00" stroke="#BC1F29" stroke-width="1.55" fill="none" stroke-linecap="round"/>
<path d="M48.00 97.00 L94.25 91.45" stroke="#BC1F29" stroke-width="1.55" fill="none" stroke-linecap="round"/><path d="M98.00 91.00 L92.94 94.13 L92.34 89.16 Z" fill="#BC1F29"/>
<path d="M60.00 93.00 L82.00 94.00" stroke="#BC1F29" stroke-width="1.55" fill="none" stroke-linecap="round"/>
<path d="M154.6 65.9 L155.3 64.8 L156.2 63.9 L157.0 62.9 L158.0 62.0 L158.9 61.1 L159.8 60.2 L160.9 59.5 L161.9 58.6 L162.7 57.6 L163.2 56.4 L163.1 55.1 L163.0 53.8 L162.4 52.6 L161.7 51.5 L160.5 51.1 L159.2 51.3 L158.1 51.9 L157.3 53.0 L157.4 54.3 L157.3 55.6 L156.9 56.8 L156.1 57.8 L155.2 58.8 L154.1 59.3 L152.9 60.0" fill="none" stroke="#b4b4b4" stroke-width="0.5" stroke-linejoin="round"/>
<path d="M148.0 92.8 L147.7 91.5 L147.3 90.3 L147.6 89.1 L148.5 88.1 L149.8 87.8 L151.0 88.0 L151.9 89.0 L152.1 90.3 L151.8 91.6 L152.4 92.7 L153.5 93.4 L154.8 93.7 L156.0 93.2 L156.9 92.3 L157.2 91.0 L157.1 89.7 L156.1 88.8" fill="none" stroke="#b4b4b4" stroke-width="0.5" stroke-linejoin="round"/>
<path d="M155.4 62.0 L154.1 62.4 L152.9 62.7 L151.6 63.1 L150.4 63.6 L150.9 64.8 L151.2 66.1 L151.2 67.4 L150.6 68.5 L149.5 69.3 L148.4 70.0 L147.1 70.2 L145.9 70.5 L144.6 70.6 L143.4 70.0 L142.7 69.0 L142.9 67.7 L143.2 66.4 L143.9 65.3 L144.9 64.5 L146.1 63.9 L147.1 63.2 L148.1 62.3 L149.2 61.6 L150.3 60.9 L151.4 60.2" fill="none" stroke="#b4b4b4" stroke-width="0.5" stroke-linejoin="round"/>
<path d="M174.4 62.8 L174.5 61.5 L174.3 60.2 L174.1 58.9 L172.8 59.2 L171.7 59.9 L170.4 60.2 L169.2 60.3 L167.9 60.4 L166.6 60.2 L165.3 60.1 L164.0 60.2 L162.8 59.7 L161.6 59.2 L160.3 59.0 L159.1 58.5 L157.8 58.1 L156.6 57.8 L155.4 57.2 L154.3 56.5 L153.1 56.0 L152.0 55.3 L150.9 54.7 L149.8 54.0 L148.7 53.3 L147.5 52.7 L146.5 52.0 L145.3 51.4" fill="none" stroke="#b4b4b4" stroke-width="0.5" stroke-linejoin="round"/>
<path d="M190.2 104.4 L191.1 105.3 L192.1 106.1 L193.2 106.7 L194.5 106.9 L195.8 107.0 L197.1 107.0 L198.4 106.6 L199.5 106.0 L200.7 105.4 L201.7 104.6 L202.3 103.5 L203.6 103.6 L204.9 103.4 L206.1 102.8 L207.3 102.3 L208.3 101.6 L209.2 100.6 L210.0 99.6 L210.6 98.4 L211.0 97.2 L209.7 96.9 L208.4 96.6 L207.2 96.2 L206.0 95.7 L204.8 95.2 L203.6 94.6 L202.4 94.1 L201.4 93.3 L200.4 92.4 L199.3 93.0 L198.1 93.6 L196.8 93.5 L195.5 93.7 L194.4 94.3 L193.1 94.7 L192.0 95.3" fill="none" stroke="#b4b4b4" stroke-width="0.5" stroke-linejoin="round"/>
<path d="M194.1 70.6 L192.8 70.4 L191.6 70.0 L190.3 69.8 L189.3 68.9 L188.3 68.0 L187.4 67.2 L186.7 66.1 L186.3 64.9 L186.3 63.6 L186.9 62.4 L187.8 61.4 L188.8 60.6 L189.9 60.0 L191.2 59.6 L192.5 59.6" fill="none" stroke="#b4b4b4" stroke-width="0.5" stroke-linejoin="round"/>
<path d="M174.3 50.3 L175.2 49.3 L175.9 48.2 L176.5 47.1 L177.3 46.1 L177.9 44.9 L178.2 43.7 L178.7 42.5 L179.2 41.2 L179.6 40.0 L178.3 40.3 L177.1 40.7 L175.9 41.2 L174.9 42.0 L173.8 42.7 L172.9 43.6 L172.0 44.6 L171.3 45.7 L170.5 46.7 L169.4 47.4 L168.2 47.8 L166.9 47.8 L165.7 47.3" fill="none" stroke="#b4b4b4" stroke-width="0.5" stroke-linejoin="round"/>
<path d="M206.0 70.8 L204.7 71.1 L203.5 71.5 L202.4 72.1 L201.3 72.8 L200.3 73.6 L199.3 74.5 L198.2 75.2 L197.1 75.9 L196.0 76.5 L194.8 77.0 L193.5 77.4 L192.3 77.8 L191.0 78.1 L189.7 78.1 L188.4 78.3 L187.1 78.3 L185.9 78.2 L184.6 77.8 L183.4 77.3 L182.2 76.8 L181.2 76.0 L180.1 75.2 L179.2 74.3 L178.2 73.5 L177.2 72.7 L176.3 71.8 L175.3 70.9 L174.2 70.4 L172.9 70.0 L171.6 69.8" fill="none" stroke="#b4b4b4" stroke-width="0.5" stroke-linejoin="round"/>
<path d="M148.1 61.6 L147.0 62.2 L145.9 62.9 L147.1 63.2 L148.4 63.2 L149.7 63.3 L151.0 63.1 L152.2 62.7 L153.5 62.4 L154.8 62.2 L156.0 61.7 L157.2 61.2 L158.4 60.8 L159.6 60.3 L160.6 59.5 L161.5 58.5 L161.9 57.2 L162.0 56.0 L161.5 54.8 L161.0 53.6 L160.0 52.7" fill="none" stroke="#b4b4b4" stroke-width="0.5" stroke-linejoin="round"/>
<path d="M143.2 88.1 L142.5 89.2 L141.8 90.3 L140.7 90.9 L139.4 91.4 L138.2 91.6 L136.9 91.4 L135.7 90.9 L134.6 90.1 L133.8 89.1 L133.1 88.0 L132.8 86.7 L132.8 85.4 L133.0 84.2 L133.6 83.0 L134.6 82.1 L135.7 81.5 L136.8 80.8 L138.1 80.9 L139.2 81.7 L140.1 82.6" fill="none" stroke="#b4b4b4" stroke-width="0.5" stroke-linejoin="round"/>
<path d="M207.8 72.2 L207.6 73.4 L207.1 74.6 L206.6 75.9 L207.9 75.7 L209.2 76.0 L210.3 76.7 L211.1 77.7 L211.7 78.9 L212.2 80.1 L212.5 81.3 L212.8 82.6 L212.6 83.9 L212.3 85.1 L211.9 86.4 L210.9 87.2 L209.8 87.9 L208.5 88.0" fill="none" stroke="#b4b4b4" stroke-width="0.5" stroke-linejoin="round"/>
<path d="M145.1 59.1 L146.3 59.5 L147.4 60.2 L148.5 60.9 L149.5 61.8 L150.4 62.7 L151.0 63.8 L151.5 65.1 L152.0 66.3 L152.9 67.2 L153.9 68.0 L155.1 68.4 L156.4 68.4 L157.5 67.8 L158.4 66.8 L158.7 65.5 L158.6 64.2 L157.9 63.1 L156.7 62.6 L155.4 62.7 L154.4 63.6 L153.6 64.5 L153.3 65.8 L153.5 67.1 L154.4 68.0 L155.7 68.3 L156.9 67.9 L157.8 66.9 L158.3 65.7 L158.0 64.5 L157.2 63.5 L155.9 63.0 L154.6 63.0 L153.3 63.0" fill="none" stroke="#b4b4b4" stroke-width="0.5" stroke-linejoin="round"/>
<path d="M192.0 76.4 L192.9 77.3 L194.1 77.8 L195.4 77.9 L196.7 77.6 L196.4 76.3 L196.7 75.1 L197.6 74.1 L198.7 73.5 L200.0 73.5 L201.2 74.0 L202.2 74.9 L202.7 76.1 L202.4 77.4 L201.7 78.4 L200.4 78.9 L199.1 78.9 L197.9 78.6 L196.9 77.7 L196.4 76.5 L195.9 75.3" fill="none" stroke="#b4b4b4" stroke-width="0.5" stroke-linejoin="round"/>
<path d="M215.1 88.2 L215.6 89.5 L216.2 90.6 L217.3 91.4 L218.5 91.8 L219.8 92.0 L221.1 91.9 L222.3 91.5 L223.4 90.7 L224.2 89.8 L224.7 88.6 L224.8 87.3 L224.4 86.0 L223.4 85.1 L222.3 84.5 L221.2 83.8 L220.7 82.6 L220.1 81.4 L220.0 80.2 L219.8 78.9 L219.5 77.6 L219.2 76.3 L218.5 75.3 L217.7 74.2" fill="none" stroke="#b4b4b4" stroke-width="0.5" stroke-linejoin="round"/>
<path d="M190.3 61.8 L191.1 60.7 L192.2 60.0 L193.3 59.4 L194.6 59.1 L195.9 59.0 L197.1 59.4 L198.3 60.0 L199.3 60.8 L200.4 61.6 L201.4 62.4 L202.1 63.5 L203.0 64.4 L203.6 65.6 L203.6 66.9 L202.9 68.0 L201.9 68.8 L200.6 68.9" fill="none" stroke="#b4b4b4" stroke-width="0.5" stroke-linejoin="round"/>
<path d="M210.8 79.3 L210.0 78.3 L208.8 77.8 L207.5 77.6 L206.2 77.8 L204.9 77.8 L203.7 77.5 L202.6 76.7 L201.4 76.3 L200.1 76.1 L198.9 76.6 L197.9 77.4 L196.7 78.0 L195.8 77.0 L195.5 78.3 L195.0 79.5 L194.3 80.6 L194.0 81.9 L193.7 83.1 L192.4 83.1 L191.1 83.5 L189.9 83.9 L188.6 84.3 L187.4 84.2 L186.2 83.7 L185.1 83.0 L184.2 82.0 L183.6 80.8 L183.4 79.6 L183.7 78.3 L184.5 77.3 L185.5 76.4 L186.3 75.4 L187.0 74.3 L187.2 73.0 L187.3 71.7 L187.3 70.4 L187.3 69.1 L186.9 67.9 L186.3 66.8" fill="none" stroke="#b4b4b4" stroke-width="0.5" stroke-linejoin="round"/>
<path d="M165.3 79.3 L165.6 78.0 L165.6 76.7 L165.3 75.5 L164.8 74.3 L164.0 73.2 L163.0 72.5 L161.7 72.3 L160.4 72.5 L160.7 73.7 L161.5 74.8 L161.1 76.0 L161.3 77.3 L161.9 78.4 L162.8 79.3 L164.0 79.9 L165.3 79.5" fill="none" stroke="#b4b4b4" stroke-width="0.5" stroke-linejoin="round"/>
<path d="M238.7 85.2 L239.5 86.2 L240.3 87.1 L241.3 88.0 L242.5 88.5 L243.7 89.0 L245.0 88.8 L245.4 90.1" fill="none" stroke="#b4b4b4" stroke-width="0.5" stroke-linejoin="round"/>
<path d="M151.7 86.0 L152.7 86.8 L154.0 87.2 L153.8 88.5 L153.9 89.8 L154.2 91.1 L155.3 91.8 L156.5 92.3 L157.7 92.6 L159.0 92.5 L160.1 91.7 L160.5 93.0 L160.7 94.3 L160.6 95.6 L160.2 96.8 L159.7 98.0 L158.9 99.0 L158.5 97.8 L158.5 96.5 L158.6 95.2 L159.2 94.0 L160.2 93.3 L161.4 92.8 L162.7 92.5 L164.0 92.4 L165.3 92.5 L166.5 93.0 L167.7 93.6 L168.9 93.9 L170.1 94.4 L171.4 94.8" fill="none" stroke="#b4b4b4" stroke-width="0.5" stroke-linejoin="round"/>
<path d="M192.5 43.5 L193.3 44.6 L194.4 45.3 L195.6 45.5 L196.8 46.1 L198.1 46.5 L199.3 46.9 L200.4 47.5 L201.4 48.4 L201.9 49.6 L202.0 50.9 L201.6 52.1 L200.6 52.9 L199.9 51.8 L199.7 50.5 L199.9 49.3 L200.5 48.1 L201.3 47.0 L202.1 46.1 L203.2 45.3" fill="none" stroke="#b4b4b4" stroke-width="0.5" stroke-linejoin="round"/>
<path d="M144.1 58.9 L143.6 57.7 L142.8 56.6 L142.3 55.4 L142.1 54.2 L141.8 52.9 L142.4 51.7 L142.9 50.5 L143.8 49.6 L144.8 48.7 L145.6 47.7 L146.0 46.4" fill="none" stroke="#b4b4b4" stroke-width="0.5" stroke-linejoin="round"/>
<path d="M206.8 93.2 L206.2 92.1 L205.4 91.0 L204.5 90.1 L203.7 89.1 L202.8 88.2 L201.5 87.8 L200.2 87.8 L199.0 88.1 L197.8 88.7 L196.6 89.1 L195.6 89.9 L195.1 91.1 L196.3 91.7 L197.4 92.2 L198.7 92.5 L200.0 92.3 L201.3 92.0 L202.5 91.7 L203.7 91.1 L204.6 90.2" fill="none" stroke="#b4b4b4" stroke-width="0.5" stroke-linejoin="round"/>
<path d="M168.9 69.6 L170.1 70.0 L171.3 70.6 L172.4 71.3 L173.4 72.1 L174.4 72.9 L175.2 73.9 L176.0 75.0 L176.8 76.0 L177.7 76.9 L178.9 76.5 L180.2 76.3 L181.5 76.1 L182.8 75.9 L183.8 75.1 L185.0 74.5 L186.2 74.3" fill="none" stroke="#b4b4b4" stroke-width="0.5" stroke-linejoin="round"/>
<path d="M156.7 51.7 L156.1 50.5 L155.3 49.5 L154.4 48.6 L153.8 47.4 L153.0 46.3 L152.4 45.2 L151.7 44.1 L150.9 43.1" fill="none" stroke="#b4b4b4" stroke-width="0.5" stroke-linejoin="round"/>
<path d="M136.0 82.6 L134.8 83.1 L133.8 83.9 L133.0 84.9 L132.0 85.8 L130.9 86.4 L129.6 86.4 L128.4 86.0 L127.4 85.1 L126.7 84.0 L126.6 82.7 L127.1 81.4 L127.9 80.4 L128.8 79.5 L129.9 78.8 L131.0 78.2 L132.3 78.1 L133.6 78.5 L134.7 79.1 L135.5 80.1 L135.9 81.4 L135.9 82.7 L135.2 83.8 L134.2 84.6" fill="none" stroke="#b4b4b4" stroke-width="0.5" stroke-linejoin="round"/>
<path d="M197.7 57.0 L198.1 58.2 L198.8 59.3 L199.6 60.3 L200.6 61.1 L201.3 62.2 L202.0 63.3 L202.7 64.4 L203.4 65.5 L204.2 66.6 L205.1 67.5 L206.0 68.4 L207.2 69.0 L208.4 69.4 L209.4 70.3 L210.1 71.3 L210.7 72.5 L210.8 73.8 L210.9 75.1" fill="none" stroke="#b4b4b4" stroke-width="0.5" stroke-linejoin="round"/>
<path d="M166.1 56.1 L165.0 56.9 L163.7 57.2 L162.4 57.2 L161.2 56.8 L160.1 56.1 L159.2 55.1 L158.7 54.0 L158.5 52.7 L158.5 51.4 L158.8 50.1 L159.5 49.1 L160.1 50.2 L160.1 51.5 L159.9 52.8 L159.4 54.0 L158.5 54.9 L157.3 55.5 L156.1 56.0 L154.8 56.0 L153.6 55.5 L152.6 54.8 L151.9 53.6 L151.4 52.4 L151.4 51.1 L152.0 50.0 L152.8 49.0 L153.9 48.3 L155.2 47.8" fill="none" stroke="#b4b4b4" stroke-width="0.5" stroke-linejoin="round"/>
<path d="M165.8 40.5 L166.4 41.7 L166.9 42.9 L167.3 44.1 L167.7 45.4 L168.0 46.6 L168.0 47.9 L168.4 49.2 L169.1 50.3 L169.8 51.3 L170.6 52.4 L171.5 53.4 L172.5 54.1 L173.8 54.2 L175.1 54.2 L176.4 53.9 L177.7 54.2 L177.2 55.4 L176.2 56.3 L175.0 56.8 L173.8 56.5 L172.7 55.8 L172.2 54.5 L172.3 53.3 L173.0 52.1 L173.9 51.2 L175.0 50.5 L176.2 50.1 L177.5 50.0 L178.7 50.6 L179.5 51.6 L180.1 52.8 L180.3 54.0 L180.0 55.3 L179.6 56.5 L179.0 57.7" fill="none" stroke="#b4b4b4" stroke-width="0.5" stroke-linejoin="round"/>
<path d="M163.8 44.9 L164.4 43.7 L164.6 42.4 L164.2 41.2 L163.6 40.0 L162.4 39.6 L161.1 39.7 L160.0 40.4 L159.1 41.3 L158.6 42.5 L157.6 43.4 L156.3 43.8 L155.0 43.7 L153.8 43.4 L152.9 42.5" fill="none" stroke="#b4b4b4" stroke-width="0.5" stroke-linejoin="round"/>
<path d="M198.0 103.6 L199.3 103.3 L198.8 102.1 L198.5 100.8 L198.7 99.5 L198.7 98.2 L198.9 96.9 L199.3 95.7 L199.3 94.4 L199.5 93.1 L200.8 92.9 L202.0 92.5 L203.3 92.2 L204.5 91.8 L205.8 91.5 L207.1 91.5 L208.4 91.4 L209.7 91.6 L210.9 92.0 L212.1 92.5 L213.4 92.9 L214.7 92.9 L215.9 93.2 L217.2 93.4 L218.5 93.5 L219.8 93.6 L221.1 93.7 L222.4 93.8 L223.7 94.1 L224.9 94.4 L226.1 95.0 L227.2 95.7 L228.0 96.7 L228.7 97.8" fill="none" stroke="#b4b4b4" stroke-width="0.5" stroke-linejoin="round"/>
<path d="M147.0 91.2 L148.3 91.7 L148.9 90.5 L149.7 89.5 L150.5 88.5 L151.6 87.8 L152.8 87.2 L153.9 86.5 L154.5 85.4 L154.8 84.1 L154.5 82.8 L153.8 81.8 L153.0 80.7 L152.1 79.8 L151.1 78.9 L150.0 78.3 L149.0 77.4 L147.9 76.8 L146.9 75.9 L146.2 74.8 L145.9 73.6 L146.0 72.3 L146.3 71.0 L147.4 71.5 L148.1 72.7" fill="none" stroke="#b4b4b4" stroke-width="0.5" stroke-linejoin="round"/>
<path d="M150.1 82.8 L149.6 81.6 L148.7 80.7 L147.6 79.9 L146.4 79.7 L145.1 79.6 L143.9 80.2 L142.6 80.3 L141.3 80.5 L140.2 81.1 L140.8 82.2 L141.8 83.1 L142.8 83.9 L143.6 84.9 L144.3 86.0 L144.4 87.3 L144.7 88.6 L145.4 89.7 L145.8 90.9 L146.3 92.2 L146.4 93.4 L146.9 94.6 L147.6 95.7 L148.6 96.6 L149.6 97.4 L150.7 98.1 L151.9 98.5 L153.2 98.3 L154.4 97.6 L155.1 96.6 L155.6 95.4 L155.5 94.1 L155.0 92.9 L154.3 91.8 L153.2 92.4 L152.4 93.4 L152.2 94.7 L152.5 96.0" fill="none" stroke="#b4b4b4" stroke-width="0.5" stroke-linejoin="round"/>
<path d="M213.3 65.2 L214.1 64.2 L214.8 63.1 L215.3 61.9 L215.8 60.7 L215.7 59.4 L215.5 58.1 L215.1 56.9 L214.4 55.8 L213.7 54.7 L212.6 54.0 L211.4 53.5 L210.2 53.0 L209.0 52.3 L207.9 51.8 L206.8 51.1 L205.7 50.4 L204.5 50.0 L203.2 49.7 L201.9 49.7 L200.6 49.4 L199.3 49.3 L198.1 48.9 L196.8 48.8 L195.5 49.1 L194.3 49.4 L193.0 49.4 L191.7 49.2 L190.4 49.0 L189.3 48.3 L188.4 47.3 L187.3 46.8 L186.1 46.2 L184.8 46.1 L183.5 45.9 L182.3 45.3" fill="none" stroke="#b4b4b4" stroke-width="0.5" stroke-linejoin="round"/>
<path d="M234.1 89.1 L234.4 87.8 L234.4 86.5 L233.9 85.3 L233.2 84.2 L232.4 83.2 L231.2 82.7 L230.0 82.2 L228.7 82.2 L227.4 82.2 L226.1 82.4 L224.9 82.8 L223.7 83.3 L222.6 84.1 L221.7 85.0 L221.0 86.1 L220.5 87.3 L220.3 88.6 L220.0 89.9 L220.1 91.2 L220.5 92.4 L221.2 93.5 L222.1 94.5 L223.0 95.4 L224.1 96.1 L224.1 97.4 L224.3 98.7 L225.0 99.8 L225.8 100.8 L226.9 101.4 L228.2 101.4 L229.3 100.7 L230.2 99.8 L230.5 98.5 L230.2 97.2 L229.5 96.2 L228.3 95.6" fill="none" stroke="#b4b4b4" stroke-width="0.5" stroke-linejoin="round"/>
<path d="M125.20 102.50 C124.10 101.23 123.20 99.45 122.60 97.40 C122.00 95.35 121.68 92.43 121.60 90.20 C121.52 87.97 121.85 86.03 122.10 84.00 C122.35 81.97 122.42 80.18 123.10 78.00 C123.78 75.82 124.83 73.97 126.20 70.90 C127.57 67.83 129.27 63.18 131.30 59.60 C133.33 56.02 135.50 52.47 138.40 49.40 C141.30 46.33 145.28 43.23 148.70 41.20 C152.12 39.17 155.35 38.13 158.90 37.20 C162.45 36.27 166.20 35.87 170.00 35.60 C173.80 35.33 177.80 35.32 181.70 35.60 C185.60 35.88 189.52 36.43 193.40 37.30 C197.28 38.17 201.12 39.23 205.00 40.80 C208.88 42.37 212.80 44.17 216.70 46.70 C220.60 49.23 224.90 52.88 228.40 56.00 C231.90 59.12 234.98 61.90 237.70 65.40 C240.42 68.90 243.03 73.23 244.70 77.00 C246.37 80.77 247.42 84.67 247.70 88.00 C247.98 91.33 247.18 94.58 246.40 97.00 C245.62 99.42 244.57 100.80 243.00 102.50 C241.43 104.20 239.33 105.95 237.00 107.20 C234.67 108.45 231.83 109.37 229.00 110.00 C226.17 110.63 222.33 110.78 220.00 111.00 C217.67 111.22 215.75 110.47 215.00 111.30 C214.25 112.13 215.70 114.37 215.50 116.00 C215.30 117.63 214.78 119.57 213.80 121.10 C212.82 122.63 211.48 124.17 209.60 125.20 C207.72 126.23 204.88 126.95 202.50 127.30 C200.12 127.65 197.52 127.62 195.30 127.30 C193.08 126.98 191.07 126.25 189.20 125.40 C187.33 124.55 185.80 123.52 184.10 122.20 C182.40 120.88 181.18 119.32 179.00 117.50 C176.82 115.68 173.83 113.02 171.00 111.30 C168.17 109.58 165.17 108.37 162.00 107.20 C158.83 106.03 155.33 105.00 152.00 104.30 C148.67 103.60 145.12 103.13 142.00 103.00 C138.88 102.87 135.43 103.17 133.30 103.50 C131.17 103.83 130.55 105.17 129.20 105.00 C127.85 104.83 126.30 103.77 125.20 102.50 Z" fill="none" stroke="#3a3a3a" stroke-width="0.75"/>
<path d="M129.20 105.00 C129.47 105.60 130.45 106.80 130.80 108.60 C131.15 110.40 130.88 113.42 131.30 115.80 C131.72 118.18 132.12 120.70 133.30 122.90 C134.48 125.10 136.18 127.12 138.40 129.00 C140.62 130.88 143.53 132.92 146.60 134.20 C149.67 135.48 153.90 136.20 156.80 136.70 C159.70 137.20 161.78 137.37 164.00 137.20 C166.22 137.03 168.23 136.72 170.10 135.70 C171.97 134.68 173.67 132.72 175.20 131.10 C176.73 129.48 177.93 127.70 179.30 126.00 C180.67 124.30 182.72 121.75 183.40 120.90" fill="none" stroke="#3a3a3a" stroke-width="0.75"/>
<path d="M166.00 111.70 C165.67 113.08 164.83 117.28 164.00 120.00 C163.17 122.72 161.85 125.47 161.00 128.00 C160.15 130.53 159.25 134.00 158.90 135.20" fill="none" stroke="#a8a8a8" stroke-width="0.45"/>
<path d="M173.20 122.90 C172.92 123.92 172.02 126.87 171.50 129.00 C170.98 131.13 170.33 134.58 170.10 135.70" fill="none" stroke="#a8a8a8" stroke-width="0.45"/>
<path d="M215.00 111.30 C214.67 110.08 214.00 106.22 213.00 104.00 C212.00 101.78 210.67 99.58 209.00 98.00 C207.33 96.42 204.00 95.08 203.00 94.50" fill="none" stroke="#a0a0a0" stroke-width="0.5"/>
<path d="M200.3 84.2h0M221.9 72.6h0M206.0 89.7h0M243.3 83.4h0M212.8 111.0h0M187.6 95.8h0M186.4 72.3h0M164.4 93.3h0M151.6 46.8h0M209.6 91.4h0M169.7 77.0h0M206.0 78.7h0M237.4 98.3h0M211.2 66.8h0M243.4 79.8h0M236.0 80.5h0M150.4 62.6h0M236.7 67.5h0M231.6 105.5h0M173.7 92.9h0M204.9 70.4h0M215.3 55.7h0M123.9 86.2h0M209.0 77.2h0M203.3 72.2h0M170.1 94.6h0M228.2 97.9h0M215.7 58.8h0M213.4 77.8h0M203.5 88.6h0M218.7 73.0h0M218.5 50.8h0M170.2 72.5h0M201.3 95.3h0M201.9 82.3h0M168.6 80.6h0M224.4 100.2h0M209.8 86.8h0M197.3 117.5h0M220.7 80.3h0M163.1 90.9h0M209.0 96.4h0M204.3 49.2h0M134.8 77.6h0M230.9 69.0h0M187.0 105.0h0M205.5 43.7h0M238.3 92.1h0M215.5 84.7h0M203.1 105.6h0M208.4 110.2h0M224.8 62.4h0M235.5 96.9h0M211.8 69.6h0M143.3 54.7h0M213.4 98.6h0M214.4 74.3h0M203.9 94.6h0M172.7 87.3h0M231.2 96.3h0M202.6 59.9h0M231.4 88.3h0M193.1 120.9h0M208.7 71.7h0M159.4 63.7h0M228.2 76.7h0M232.0 80.5h0M212.6 107.8h0M228.7 66.0h0M228.0 85.9h0M205.1 84.3h0M207.9 123.0h0M158.4 85.9h0M210.0 54.5h0M210.3 58.1h0M231.2 75.3h0M235.1 92.0h0M161.6 101.6h0M169.8 63.8h0M244.7 90.6h0M217.0 109.2h0M200.4 122.4h0" stroke="#F5A548" stroke-width="2.45" stroke-linecap="round" fill="none"/>
<path d="M159.5 54.2h0M143.0 52.2h0M134.4 63.2h0M151.5 54.7h0M181.8 84.0h0M164.9 51.4h0M149.8 95.5h0M193.3 82.8h0M178.9 45.2h0M190.4 40.9h0M161.0 68.2h0M198.4 79.4h0M183.1 53.7h0M177.5 104.4h0M200.6 45.6h0M180.5 54.6h0M174.5 45.8h0M181.9 64.9h0M164.8 46.7h0M162.5 39.2h0M162.5 52.0h0M163.9 58.3h0M174.6 111.5h0M161.1 89.4h0M176.9 57.1h0M161.8 48.7h0M191.5 86.5h0M171.6 81.9h0M191.9 68.6h0M170.8 39.7h0M188.6 55.4h0M186.3 50.4h0M176.5 88.2h0M165.9 66.9h0M190.2 48.3h0M172.1 41.7h0M172.4 68.6h0M156.5 43.4h0M159.7 45.5h0M176.8 47.1h0M161.8 43.6h0M200.6 48.3h0M155.8 40.4h0M150.8 43.5h0M167.5 43.0h0M182.4 57.0h0M167.7 97.8h0M201.5 57.2h0M194.0 52.3h0M127.6 90.9h0M128.8 88.1h0M198.2 43.8h0M187.2 82.3h0M182.1 43.3h0M128.1 80.0h0M154.4 55.3h0M198.7 52.5h0M150.9 67.2h0M196.4 73.9h0M191.9 50.1h0M169.8 49.5h0M169.9 45.9h0M158.8 39.9h0" stroke="#86D79C" stroke-width="2.45" stroke-linecap="round" fill="none"/>
<path d="M164.7 99.1h0M206.8 55.5h0M172.9 64.5h0M205.8 52.4h0M199.6 111.8h0M208.3 120.7h0M210.9 100.5h0M215.7 50.2h0M194.8 118.4h0M157.3 88.7h0M230.2 82.7h0M187.2 100.5h0M188.5 78.4h0M163.8 103.5h0M181.0 39.4h0M194.1 115.4h0M198.7 65.5h0M183.9 99.5h0M148.6 49.0h0M169.4 86.5h0M223.8 94.5h0M215.4 63.6h0M177.5 80.8h0M226.6 67.0h0M189.2 72.4h0M191.0 64.6h0M198.8 92.0h0M184.5 47.7h0M234.9 75.7h0M205.1 106.7h0M210.9 116.7h0M153.0 79.5h0M219.5 104.6h0M208.0 50.2h0M200.6 73.5h0M211.6 104.8h0M204.0 76.0h0M184.6 106.7h0M151.5 102.2h0" stroke="#E6EE84" stroke-width="2.45" stroke-linecap="round" fill="none"/>
<path d="M172.9 101.2h0M137.8 59.3h0M172.9 108.7h0M229.1 89.0h0M234.1 86.5h0M238.7 85.6h0M209.6 83.7h0M211.8 72.5h0M238.2 78.3h0M220.0 97.0h0M209.0 65.3h0M231.4 66.5h0M238.8 101.1h0M212.9 82.5h0M240.3 80.8h0M218.9 92.6h0M221.9 75.0h0M212.8 59.1h0M230.6 94.0h0M223.0 85.5h0M197.8 87.0h0M226.9 72.1h0M202.1 79.5h0M142.5 62.0h0M201.9 64.2h0M225.4 82.0h0M156.6 59.8h0M231.6 99.2h0M241.7 100.2h0M224.8 97.9h0M233.1 78.1h0M178.7 71.5h0M165.6 101.3h0M228.3 107.5h0M206.9 47.9h0M166.3 83.4h0M218.5 83.7h0M221.2 67.6h0" stroke="#E8593A" stroke-width="2.45" stroke-linecap="round" fill="none"/>
<path d="M178.8 96.0h0M182.0 109.9h0M152.7 60.0h0M151.2 88.4h0M130.0 100.1h0M137.3 92.3h0M142.4 64.8h0M186.7 69.9h0M134.3 68.5h0M151.9 69.5h0M125.5 97.9h0M137.1 74.7h0M168.9 107.0h0M141.3 89.1h0M146.1 65.8h0M158.4 98.2h0M143.2 97.8h0M157.5 72.3h0M152.9 85.1h0M137.2 79.7h0M149.0 52.7h0M151.5 74.6h0M133.8 80.2h0M138.5 66.2h0M160.8 59.2h0M142.1 81.5h0M147.4 84.4h0M137.2 100.2h0M140.6 99.1h0M131.0 96.5h0M129.2 82.3h0M131.1 90.2h0M142.5 76.3h0M197.5 58.1h0M143.6 95.1h0M153.5 96.9h0M175.2 67.1h0M129.8 76.4h0M180.9 98.4h0M138.9 97.0h0M219.9 99.5h0M127.0 86.7h0M143.8 70.6h0M145.0 79.2h0M192.7 94.4h0M153.4 90.6h0M160.4 61.5h0M140.8 92.5h0M154.2 82.4h0M174.0 103.4h0M148.1 92.1h0M143.5 86.8h0M138.8 89.7h0M167.7 69.3h0M130.4 73.5h0M143.2 84.2h0M134.8 100.1h0M140.5 50.6h0M133.2 94.0h0M130.1 93.4h0M156.0 62.6h0" stroke="#3DA6AA" stroke-width="2.45" stroke-linecap="round" fill="none"/>
<path d="M205.2 99.2h0M145.0 56.7h0M174.9 43.2h0M136.8 56.6h0M173.5 84.3h0M175.9 91.6h0M187.5 113.8h0M205.7 87.1h0M196.6 55.6h0M194.6 64.3h0M182.2 90.9h0M201.0 99.5h0M195.7 96.6h0M209.3 113.1h0M217.8 67.9h0M201.4 107.2h0M178.3 84.6h0M183.9 81.3h0M176.2 69.9h0M197.6 109.1h0M223.3 58.2h0M167.8 102.4h0M177.0 77.1h0M180.8 48.9h0M165.3 64.5h0M177.9 64.5h0M184.5 45.1h0M209.0 118.4h0M225.0 79.1h0M162.5 105.7h0M194.3 74.9h0M163.7 67.5h0M192.5 72.9h0M185.0 116.8h0M156.7 65.6h0" stroke="#BCE89B" stroke-width="2.45" stroke-linecap="round" fill="none"/>
<path d="M203.2 120.7h0M186.5 108.4h0M215.0 104.8h0M189.9 122.3h0M190.6 119.8h0M200.6 116.4h0M204.7 118.5h0M195.9 124.3h0M191.8 116.3h0M195.7 121.6h0M179.3 113.4h0M192.6 101.8h0" stroke="#EEF29A" stroke-width="2.45" stroke-linecap="round" fill="none"/>
<path d="M177.00 44.30 L207.33 46.88" stroke="#BC1F29" stroke-width="1.55" fill="none" stroke-linecap="round"/><path d="M211.10 47.20 L205.51 49.23 L205.93 44.25 Z" fill="#BC1F29"/>
<path d="M175.00 45.30 L191.78 55.62" stroke="#2A5BAA" stroke-width="1.55" fill="none" stroke-linecap="round"/><path d="M195.00 57.60 L189.09 56.90 L191.71 52.64 Z" fill="#2A5BAA"/>
<path d="M187.40 56.30 L199.70 54.80" stroke="#BC1F29" stroke-width="1.55" fill="none" stroke-linecap="round"/>
<path d="M195.90 59.50 L210.22 59.97" stroke="#BC1F29" stroke-width="1.55" fill="none" stroke-linecap="round"/><path d="M214.00 60.10 L208.52 62.42 L208.69 57.42 Z" fill="#BC1F29"/>
<path d="M177.00 46.20 L177.00 103.72" stroke="#8E1B30" stroke-width="1.55" fill="none" stroke-linecap="round"/><path d="M177.00 107.50 L174.50 102.10 L179.50 102.10 Z" fill="#8E1B30"/>
<path d="M173.90 47.30 L132.50 88.80" stroke="#8E1B30" stroke-width="1.55" fill="none" stroke-linecap="round"/>
<path d="M159.40 58.90 L135.30 97.50" stroke="#8E1B30" stroke-width="1.55" fill="none" stroke-linecap="round"/>
<path d="M156.00 59.50 L222.58 71.24" stroke="#BC1F29" stroke-width="1.55" fill="none" stroke-linecap="round"/><path d="M226.30 71.90 L220.55 73.42 L221.42 68.50 Z" fill="#BC1F29"/>
<path d="M233.90 87.00 L187.91 64.94" stroke="#BC1F29" stroke-width="1.55" fill="none" stroke-linecap="round"/><path d="M184.50 63.30 L190.45 63.38 L188.29 67.89 Z" fill="#BC1F29"/>
<path d="M158.00 70.90 L233.90 88.90" stroke="#BC1F29" stroke-width="1.55" fill="none" stroke-linecap="round"/>
<path d="M136.10 98.00 L173.22 106.64" stroke="#BC1F29" stroke-width="1.55" fill="none" stroke-linecap="round"/><path d="M176.90 107.50 L171.07 108.71 L172.21 103.84 Z" fill="#BC1F29"/>
<path d="M136.10 98.00 L188.58 118.52" stroke="#BC1F29" stroke-width="1.55" fill="none" stroke-linecap="round"/><path d="M192.10 119.90 L186.16 120.26 L187.98 115.60 Z" fill="#BC1F29"/>
<path d="M142.80 97.10 L230.14 87.99" stroke="#BC1F29" stroke-width="1.55" fill="none" stroke-linecap="round"/><path d="M233.90 87.60 L228.79 90.65 L228.27 85.67 Z" fill="#BC1F29"/>
<path d="M169.30 102.80 L177.00 83.80" stroke="#BC1F29" stroke-width="1.55" fill="none" stroke-linecap="round"/>
<path d="M177.00 83.80 L173.00 102.80" stroke="#BC1F29" stroke-width="1.55" fill="none" stroke-linecap="round"/>
<path d="M233.90 88.50 L195.29 113.07" stroke="#BC1F29" stroke-width="1.55" fill="none" stroke-linecap="round"/><path d="M192.10 115.10 L195.31 110.09 L198.00 114.31 Z" fill="#BC1F29"/>
<path d="M332.0 96.5 L332.6 97.7 L333.3 98.8 L334.1 99.8 L334.7 101.0 L335.5 100.0 L336.5 99.2 L337.4 98.2 L338.2 97.2 L339.0 96.2 L339.4 94.9 L339.4 93.6 L339.3 92.3 L339.2 91.0 L339.7 89.8 L340.7 89.0 L341.8 88.4 L343.1 88.4 L344.4 88.8 L345.6 89.3 L346.4 90.3 L347.1 91.4 L347.6 92.6" fill="none" stroke="#b4b4b4" stroke-width="0.5" stroke-linejoin="round"/>
<path d="M289.7 35.9 L290.2 37.1 L290.4 38.4 L290.5 39.7 L290.6 41.0 L290.5 42.3 L290.4 43.6 L290.0 44.8 L289.3 45.9 L288.6 47.0 L287.6 47.8 L286.3 48.2 L285.0 48.4 L283.8 48.8 L282.6 49.2 L281.3 49.4 L280.0 49.4 L278.8 48.9 L277.6 48.3 L276.8 47.3 L276.1 46.2 L275.4 45.1 L274.9 43.9 L274.3 42.8 L274.0 41.5 L274.0 40.2 L274.0 38.9 L274.3 37.6 L274.9 36.5 L274.2 35.3" fill="none" stroke="#b4b4b4" stroke-width="0.5" stroke-linejoin="round"/>
<path d="M293.2 57.9 L292.7 56.7 L292.0 55.6 L291.7 54.3 L291.3 53.1 L290.7 52.0 L290.0 50.8 L289.1 49.9 L288.2 48.9 L287.4 47.9 L286.4 47.1 L285.5 46.2 L284.6 45.2 L284.2 44.0 L284.2 42.7 L284.3 41.4 L285.0 40.3 L286.0 39.5 L287.1 38.9 L288.4 38.7 L289.7 38.8 L290.8 39.5 L291.7 40.4 L292.2 41.6 L292.3 42.9 L292.0 44.2 L291.3 45.3 L290.2 46.0 L289.0 46.5" fill="none" stroke="#b4b4b4" stroke-width="0.5" stroke-linejoin="round"/>
<path d="M301.0 125.5 L301.0 126.8 L300.8 128.1 L300.4 129.4 L299.8 130.5 L298.9 131.5 L297.7 131.9 L296.4 132.2 L295.1 132.1 L294.0 131.6 L293.0 130.8 L292.4 129.6 L292.1 128.3 L291.6 127.1 L290.7 126.1 L289.6 125.5 L290.3 124.4 L290.9 123.2 L291.5 122.1 L292.5 122.9 L293.6 123.6 L294.8 124.0 L296.1 124.0" fill="none" stroke="#b4b4b4" stroke-width="0.5" stroke-linejoin="round"/>
<path d="M322.2 61.5 L321.9 62.7 L322.0 64.0 L322.3 65.3 L323.1 66.3 L323.3 67.6 L323.1 68.8 L322.2 69.8 L321.1 70.5 L319.8 70.7 L318.5 70.5 L317.5 71.3 L316.4 71.9 L315.1 72.2 L313.8 71.9 L312.8 71.2 L311.9 70.2 L311.6 69.0 L311.5 67.7 L311.7 66.4 L312.1 65.1" fill="none" stroke="#b4b4b4" stroke-width="0.5" stroke-linejoin="round"/>
<path d="M275.0 44.5 L273.7 44.5 L272.4 44.4 L271.1 44.8 L270.1 45.7 L268.9 45.3 L267.6 45.5 L266.5 46.2" fill="none" stroke="#b4b4b4" stroke-width="0.5" stroke-linejoin="round"/>
<path d="M311.7 95.9 L312.8 96.6 L314.1 96.7 L315.3 96.3 L315.6 97.6 L316.0 98.8 L317.3 98.5 L318.4 98.0 L319.4 97.2 L320.1 96.0 L320.8 94.9 L321.2 93.7 L321.4 92.4 L320.9 91.2 L320.0 90.2 L318.8 89.8 L317.6 89.3 L316.5 88.6 L315.7 87.6 L315.4 86.3 L315.0 85.1 L314.5 83.9 L314.2 82.6 L313.9 81.4 L313.4 80.2 L312.7 79.0 L312.0 77.9 L311.3 76.9 L310.0 77.3 L308.9 77.9 L307.8 78.6 L306.7 79.4 L305.6 80.0 L304.5 80.7 L303.3 81.2 L302.2 81.9 L301.0 82.5" fill="none" stroke="#b4b4b4" stroke-width="0.5" stroke-linejoin="round"/>
<path d="M296.5 104.4 L295.6 105.3 L294.5 106.0 L293.2 106.1 L291.9 105.8 L290.8 105.2 L289.8 104.4 L289.1 103.2 L288.9 101.9 L289.6 100.8 L290.5 99.9 L291.8 99.5 L293.1 99.7 L294.2 100.3 L295.2 99.5 L294.9 98.2 L294.8 96.9 L295.0 95.6 L295.7 94.5 L296.5 95.5 L296.7 96.8 L296.1 97.9 L295.1 98.8 L295.5 100.1 L295.4 101.4 L296.4 102.2 L297.2 103.3 L297.6 104.5 L297.7 105.8 L297.1 106.9 L296.3 108.0 L295.3 108.8 L294.2 109.5 L293.0 109.9 L291.7 109.6" fill="none" stroke="#b4b4b4" stroke-width="0.5" stroke-linejoin="round"/>
<path d="M302.7 126.8 L303.7 125.9 L304.9 125.4 L306.2 125.4 L307.4 125.6 L307.3 126.9 L307.4 128.2 L307.8 129.4 L307.9 130.7 L307.5 132.0 L306.7 133.0 L305.9 134.0 L304.8 134.8 L303.6 135.3 L302.5 136.0 L301.3 136.6 L300.4 137.4 L299.3 138.1 L298.0 138.4 L296.7 138.5 L295.4 138.7 L294.1 138.8 L292.8 138.8 L291.5 138.6 L290.3 138.2 L289.2 137.4 L288.5 136.4 L287.7 137.3 L286.7 138.3 L285.7 139.0 L284.5 139.6 L283.3 140.1 L282.1 140.4 L280.8 140.7" fill="none" stroke="#b4b4b4" stroke-width="0.5" stroke-linejoin="round"/>
<path d="M324.6 103.3 L325.8 103.8 L327.1 103.8 L328.4 103.8 L329.7 103.6 L330.9 103.2 L332.0 102.5 L332.8 101.5 L333.7 100.5 L332.7 99.6 L331.7 98.8 L330.7 98.0 L329.5 97.6 L328.2 97.4 L326.9 97.6 L325.7 98.0 L324.5 98.6 L323.8 99.7 L323.8 101.0 L324.6 102.0 L324.9 103.3 L324.8 104.6 L324.0 105.6 L322.9 106.3 L321.7 106.8 L320.4 106.8 L319.1 106.8 L318.0 106.2 L316.8 105.7 L316.1 104.6" fill="none" stroke="#b4b4b4" stroke-width="0.5" stroke-linejoin="round"/>
<path d="M283.0 81.6 L282.6 82.8 L282.5 84.1 L282.6 85.4 L283.1 86.6 L284.0 87.6 L285.0 88.4 L286.0 89.3 L287.0 90.0 L288.3 89.9 L289.4 89.2 L290.3 88.2 L290.8 87.0 L290.8 85.7 L290.3 84.5 L289.4 83.6 L290.5 82.8 L291.7 82.5 L293.0 82.2 L294.3 82.2 L295.5 82.7 L296.5 83.5 L297.4 84.5 L298.0 85.6 L298.3 86.9 L298.6 88.2 L298.8 89.4" fill="none" stroke="#b4b4b4" stroke-width="0.5" stroke-linejoin="round"/>
<path d="M305.5 133.3 L304.4 132.7 L303.6 131.7 L303.3 130.4 L303.3 129.1 L303.8 127.9 L304.7 127.0 L305.7 126.2 L306.9 125.7 L308.2 125.3 L308.9 124.2 L309.4 123.0 L309.4 121.7 L309.1 120.4 L308.0 119.7 L306.7 119.5 L305.5 120.0 L304.5 120.8" fill="none" stroke="#b4b4b4" stroke-width="0.5" stroke-linejoin="round"/>
<path d="M284.2 117.9 L285.5 118.1 L286.7 117.7 L288.0 117.4 L289.1 116.7 L290.0 115.8 L290.6 114.6 L291.0 113.4 L291.1 112.1 L290.9 110.8 L290.2 109.7 L289.4 108.7 L288.5 107.7 L287.6 106.8 L286.5 106.1 L285.2 105.9 L283.9 105.8 L282.6 105.8 L281.3 105.9 L280.1 106.4" fill="none" stroke="#b4b4b4" stroke-width="0.5" stroke-linejoin="round"/>
<path d="M278.1 71.2 L276.8 70.9 L275.7 70.2 L274.9 69.2 L274.5 68.0 L274.6 66.7 L275.1 65.5 L275.7 64.3 L276.1 63.1 L276.7 61.9 L277.5 60.9 L278.8 60.5 L280.1 60.6 L281.3 60.2 L282.5 59.7 L283.5 58.8 L284.3 57.9 L284.8 56.7 L284.8 55.4 L284.5 54.1 L284.0 52.9" fill="none" stroke="#b4b4b4" stroke-width="0.5" stroke-linejoin="round"/>
<path d="M289.1 131.5 L287.8 131.3 L286.5 131.4 L285.2 131.6 L283.9 131.4 L282.6 131.2 L282.7 132.4 L282.7 133.7 L282.7 135.0 L282.7 136.3 L282.5 137.6 L282.4 138.9 L282.3 140.2 L282.2 141.5" fill="none" stroke="#b4b4b4" stroke-width="0.5" stroke-linejoin="round"/>
<path d="M261.8 75.3 L263.0 75.7 L264.0 76.5 L264.8 77.6 L265.3 78.8 L265.9 79.9 L266.1 81.2 L266.2 82.5 L266.6 83.7 L267.5 84.7 L268.7 85.3 L269.9 85.6 L271.2 85.8 L272.5 86.1 L272.6 84.8 L272.3 83.5 L271.3 84.3 L270.2 84.9 L269.0 85.4 L267.7 85.9 L266.6 86.5 L265.6 87.3 L264.5 88.0" fill="none" stroke="#b4b4b4" stroke-width="0.5" stroke-linejoin="round"/>
<path d="M319.0 43.7 L320.3 43.8 L321.6 44.2 L322.8 44.7 L324.1 44.8 L325.4 44.9 L326.7 44.8 L328.0 44.7 L329.3 44.6 L330.6 44.7 L331.9 44.9 L333.1 45.1 L334.4 45.4 L335.6 45.7 L336.9 45.9 L338.2 45.9" fill="none" stroke="#b4b4b4" stroke-width="0.5" stroke-linejoin="round"/>
<path d="M306.7 114.3 L308.0 113.9 L309.0 113.1 L309.7 112.0 L310.2 110.8 L310.4 109.5 L309.1 109.5 L307.8 109.8 L306.7 110.6 L305.9 111.6 L305.7 112.9 L305.9 114.1 L306.6 115.3 L307.5 116.2 L308.6 116.8 L309.9 117.1 L311.2 117.1 L312.4 116.7 L313.7 116.3 L314.9 115.8 L315.9 115.0" fill="none" stroke="#b4b4b4" stroke-width="0.5" stroke-linejoin="round"/>
<path d="M310.4 81.1 L311.7 81.3 L312.9 81.8 L313.9 82.7 L314.6 83.7 L315.1 85.0 L315.2 86.3 L315.2 87.6 L314.7 88.8 L313.9 89.8 L312.8 90.5 L311.7 91.2 L310.5 91.6 L309.2 91.8 L308.0 91.3 L307.2 90.3 L306.4 89.3 L305.5 88.4 L306.5 87.6 L307.4 86.6 L308.1 85.5 L308.7 84.4 L308.8 83.1 L309.1 81.8 L309.6 80.6 L310.1 79.4" fill="none" stroke="#b4b4b4" stroke-width="0.5" stroke-linejoin="round"/>
<path d="M293.2 45.7 L293.9 46.8 L294.5 48.0 L295.1 49.1 L295.6 50.3 L295.8 51.6 L295.8 52.9 L295.3 54.1 L294.7 55.3 L293.8 56.2 L292.7 56.8 L291.5 57.4 L290.9 58.5 L290.6 59.8 L290.8 61.1 L291.3 62.3 L292.2 63.3 L293.4 63.7 L294.6 64.0 L295.9 63.9 L297.1 63.5 L298.2 62.7 L298.8 61.5 L299.1 60.3 L299.0 59.0 L299.0 57.7 L298.5 56.5 L297.5 55.6 L296.5 54.8 L295.4 54.1 L294.1 53.9" fill="none" stroke="#b4b4b4" stroke-width="0.5" stroke-linejoin="round"/>
<path d="M323.8 52.4 L322.9 51.4 L321.8 50.8 L320.5 50.7 L319.2 50.6 L317.9 50.3 L316.7 49.8 L315.5 49.5 L314.2 49.2 L312.9 49.3 L311.7 49.9 L310.8 50.8 L310.2 51.9 L310.1 53.2 L310.3 54.5 L309.0 54.6 L307.7 55.0 L306.5 55.1 L305.2 54.8 L304.0 54.3 L302.9 53.6 L302.2 52.5 L301.7 51.3 L301.8 50.0 L302.1 48.8 L302.6 47.6" fill="none" stroke="#b4b4b4" stroke-width="0.5" stroke-linejoin="round"/>
<path d="M276.4 118.8 L276.7 117.6 L277.2 116.4 L277.8 115.2 L278.5 114.1 L278.5 112.8 L278.1 111.6 L277.3 110.5 L276.2 109.8 L275.0 109.3 L273.7 109.2 L272.4 109.3 L271.1 109.1 L270.0 108.4 L269.3 107.3" fill="none" stroke="#b4b4b4" stroke-width="0.5" stroke-linejoin="round"/>
<path d="M346.0 73.0 L346.0 74.3 L346.5 75.5 L347.3 76.5 L347.7 77.8 L347.7 79.1 L347.4 80.4 L346.3 81.1 L345.1 81.4 L343.8 81.3 L342.5 81.0 L341.3 80.5 L340.4 79.5 L339.9 78.3 L339.6 77.1 L339.7 75.8" fill="none" stroke="#b4b4b4" stroke-width="0.5" stroke-linejoin="round"/>
<path d="M287.3 110.1 L288.1 111.1 L289.0 112.1 L289.9 113.1 L290.7 114.1 L291.7 114.9 L292.2 116.1 L292.5 117.4 L292.7 118.6 L292.8 119.9 L292.7 121.2 L293.8 122.0 L294.5 123.0 L294.8 124.3 L294.3 125.5 L293.6 126.6 L292.8 127.6 L291.7 128.3 L290.5 128.8 L289.2 128.8 L287.9 128.8 L286.9 127.9 L286.4 126.7 L286.2 125.4 L284.9 125.3 L284.7 126.6 L284.5 127.9 L284.8 129.1 L285.5 130.2 L286.5 131.0" fill="none" stroke="#b4b4b4" stroke-width="0.5" stroke-linejoin="round"/>
<path d="M312.5 131.1 L313.6 131.8 L314.8 132.4 L315.3 131.2 L315.3 129.9 L314.6 128.8 L313.5 128.1 L312.2 128.1 L311.0 128.7 L310.0 129.5 L309.5 130.7 L309.4 132.0 L310.1 133.2 L311.2 133.9 L312.5 133.8 L313.4 133.0 L314.0 131.8 L314.2 130.5 L314.0 129.2 L313.4 128.0 L312.4 127.3 L311.1 126.9 L310.1 126.2 L309.7 124.9" fill="none" stroke="#b4b4b4" stroke-width="0.5" stroke-linejoin="round"/>
<path d="M321.1 78.0 L322.0 77.1 L322.7 76.0 L323.5 75.0 L324.3 73.9 L324.7 72.7 L325.1 71.5 L325.5 70.2 L325.7 69.0 L324.5 69.4 L323.3 69.9 L322.2 70.6 L321.3 71.5 L320.5 72.5 L319.5 73.3 L318.5 74.2 L317.6 75.1 L316.8 76.1 L315.9 75.1 L314.9 74.3 L313.8 73.6 L312.6 73.0 L311.4 72.8 L310.1 72.7 L310.5 71.5 L311.3 70.4 L312.3 69.7 L313.4 69.0 L314.7 68.8 L316.0 69.1 L316.8 70.1 L317.2 71.3 L317.3 72.6 L316.8 73.8 L315.9 74.8 L315.0 75.7 L314.0 76.5 L312.8 77.0" fill="none" stroke="#b4b4b4" stroke-width="0.5" stroke-linejoin="round"/>
<path d="M278.5 120.5 L279.5 119.7 L280.7 119.2 L281.9 118.8 L281.9 120.1 L281.9 121.4 L281.3 122.6 L280.4 123.5 L279.1 123.9 L277.9 123.4 L277.1 122.4 L276.9 121.1 L276.9 119.8 L277.7 118.8 L278.9 118.4 L280.2 118.5 L281.2 119.4 L281.7 120.6 L281.6 121.9 L280.9 122.9 L279.8 123.8 L278.6 124.1 L277.3 124.4 L276.1 124.7 L274.8 124.7 L273.5 124.3 L272.4 123.7 L271.3 123.0 L270.5 122.0 L270.0 120.8 L269.6 119.5 L269.3 118.3 L269.2 117.0 L269.3 115.7 L269.3 114.4 L269.3 113.1" fill="none" stroke="#b4b4b4" stroke-width="0.5" stroke-linejoin="round"/>
<path d="M266.5 91.3 L267.0 90.1 L267.8 89.1 L268.7 88.1 L269.9 87.6 L271.1 87.2 L272.4 87.2 L273.6 87.7 L274.8 88.3 L275.8 89.2 L276.5 90.2 L277.1 91.4 L277.6 92.6 L277.9 93.8 L278.0 95.1 L277.9 96.4 L277.5 97.7 L277.2 99.0 L276.8 100.2 L276.5 101.5 L276.4 102.8 L275.1 102.7 L274.0 103.4 L275.3 103.9 L275.6 102.7 L275.7 101.4 L275.8 100.1 L275.4 98.9" fill="none" stroke="#b4b4b4" stroke-width="0.5" stroke-linejoin="round"/>
<path d="M280.6 90.9 L280.9 92.2 L280.8 93.5 L281.4 94.7 L282.5 95.3 L283.8 95.3 L284.9 94.6 L285.6 93.5 L285.9 92.3 L285.7 91.0 L285.0 89.9 L284.2 88.9 L283.1 88.2 L281.9 87.7 L280.6 87.7" fill="none" stroke="#b4b4b4" stroke-width="0.5" stroke-linejoin="round"/>
<path d="M292.0 110.1 L292.6 111.2 L293.7 112.0 L294.9 112.4 L296.1 111.9 L296.8 110.8 L297.3 109.6 L297.3 108.3 L296.6 107.2 L295.7 106.3 L294.6 105.7 L293.3 105.4 L292.1 105.8 L290.8 106.0 L289.7 106.7 L288.7 107.5 L288.0 108.6 L287.3 109.7 L286.5 110.7" fill="none" stroke="#b4b4b4" stroke-width="0.5" stroke-linejoin="round"/>
<path d="M327.8 90.8 L326.7 91.4 L325.6 92.2 L324.4 92.5 L323.2 93.1 L322.0 93.6 L321.0 94.4 L320.0 95.3 L319.5 96.5 L320.8 96.3 L322.1 96.1 L323.4 96.0 L324.7 96.1 L325.9 95.5 L326.8 94.6 L328.0 94.1 L329.3 94.0 L330.5 94.4 L331.7 95.0 L332.7 94.2 L333.9 93.7 L335.2 93.8 L336.5 94.1 L337.7 94.3 L339.0 94.6 L340.3 94.9 L341.4 95.5 L342.6 96.1 L343.5 97.0 L344.6 97.8 L345.4 98.8 L346.0 99.9 L346.3 101.2 L346.1 102.5 L346.1 103.8" fill="none" stroke="#b4b4b4" stroke-width="0.5" stroke-linejoin="round"/>
<path d="M340.6 117.7 L340.6 116.4 L341.2 115.3 L342.0 114.2 L343.1 113.5 L344.2 112.9 L345.3 112.3 L346.5 111.7 L346.5 110.4 L346.4 109.1 L346.4 107.8 L346.6 106.5 L346.5 105.2 L346.7 103.9 L346.6 102.6 L346.6 101.3 L346.1 100.1 L345.5 98.9 L345.1 97.7 L344.8 96.4 L344.4 95.2" fill="none" stroke="#b4b4b4" stroke-width="0.5" stroke-linejoin="round"/>
<path d="M260.6 62.7 L261.6 63.6 L262.5 64.5 L263.5 65.4 L264.1 66.5 L264.2 67.8 L263.7 69.0 L262.8 70.0 L261.8 70.7 L260.5 70.9 L259.2 70.5 L258.1 69.9" fill="none" stroke="#b4b4b4" stroke-width="0.5" stroke-linejoin="round"/>
<path d="M318.8 31.0 L318.1 32.1 L317.3 33.1 L316.2 33.9 L315.1 34.5 L313.9 35.0 L312.6 35.0 L311.3 35.2 L310.0 35.4 L308.8 36.0 L307.8 36.8 L307.2 37.9 L307.2 39.2 L307.6 40.5 L308.7 41.1 L310.0 41.2 L311.1 40.4 L311.8 39.4" fill="none" stroke="#b4b4b4" stroke-width="0.5" stroke-linejoin="round"/>
<path d="M301.6 28.8 L302.1 30.0 L302.6 31.2 L303.0 32.4 L303.1 33.7 L304.4 34.0 L305.6 34.2 L306.9 33.9 L308.1 33.5 L309.4 33.6 L310.5 34.3 L311.0 35.5 L311.2 36.8 L311.1 38.1 L310.1 38.9 L309.0 39.6 L307.9 40.3 L307.0 41.2 L305.9 42.0 L305.1 42.9 L304.5 44.1 L303.9 45.3 L303.2 46.4 L302.8 47.6 L302.4 48.9 L302.6 50.1 L302.8 51.4 L303.6 52.5 L304.5 53.4 L305.7 53.9 L306.9 53.4 L307.9 52.5 L308.1 51.3" fill="none" stroke="#b4b4b4" stroke-width="0.5" stroke-linejoin="round"/>
<path d="M333.7 70.2 L334.8 69.5 L335.7 68.5 L334.4 68.2 L333.2 68.6 L332.5 69.8 L332.5 71.1 L333.1 72.2 L334.3 72.7 L335.6 72.6 L336.9 72.6 L338.2 72.7 L339.5 72.8 L340.8 72.7 L342.1 72.7 L343.4 72.4 L344.6 72.0 L345.7 71.3 L346.8 70.5" fill="none" stroke="#b4b4b4" stroke-width="0.5" stroke-linejoin="round"/>
<path d="M317.9 36.6 L317.2 37.8 L316.7 38.9 L316.5 40.2 L315.2 40.0 L313.9 39.9 L312.6 39.8 L311.4 40.2 L310.3 40.9 L309.2 41.5 L308.2 42.4 L307.5 43.5 L307.4 44.8 L307.2 46.1 L307.0 47.4 L307.5 48.6 L308.3 49.6 L309.5 50.2 L310.8 50.3 L311.9 50.8 L313.1 51.4 L314.2 52.2 L315.1 53.1 L316.0 54.0 L316.9 55.0 L317.8 55.9 L318.5 57.0 L318.7 58.3 L318.3 59.5 L317.5 60.5 L316.2 60.7 L314.9 60.3 L314.2 59.2 L313.8 58.0 L313.7 56.7" fill="none" stroke="#b4b4b4" stroke-width="0.5" stroke-linejoin="round"/>
<path d="M321.2 64.0 L320.2 63.2 L319.1 62.5 L317.9 62.1 L316.6 61.9 L315.3 61.9 L314.2 62.6 L313.4 61.6 L312.2 61.2 L311.0 61.9 L310.4 63.1 L309.7 64.1 L308.8 65.1 L307.7 65.8 L306.4 65.9 L305.1 65.9 L303.9 65.4 L302.7 65.0 L301.6 64.3 L300.6 63.5 L299.8 62.4 L298.9 61.5 L297.6 61.1 L296.4 60.8 L295.1 60.4" fill="none" stroke="#b4b4b4" stroke-width="0.5" stroke-linejoin="round"/>
<path d="M302.50 27.20 C300.83 27.20 299.25 26.15 297.50 25.90 C295.75 25.65 294.08 25.52 292.00 25.70 C289.92 25.88 287.33 26.20 285.00 27.00 C282.67 27.80 280.18 29.18 278.00 30.50 C275.82 31.82 273.80 33.00 271.90 34.90 C270.00 36.80 268.20 39.27 266.60 41.90 C265.00 44.53 263.60 47.63 262.30 50.70 C261.00 53.77 259.83 57.10 258.80 60.30 C257.77 63.50 256.83 66.40 256.10 69.90 C255.37 73.40 254.80 77.95 254.40 81.30 C254.00 84.65 253.78 87.08 253.70 90.00 C253.62 92.92 253.63 95.88 253.90 98.80 C254.17 101.72 254.63 104.58 255.30 107.50 C255.97 110.42 256.73 113.38 257.90 116.30 C259.07 119.22 260.55 122.23 262.30 125.00 C264.05 127.77 266.07 130.42 268.40 132.90 C270.73 135.38 273.53 137.85 276.30 139.90 C279.07 141.95 282.08 143.95 285.00 145.20 C287.92 146.45 291.47 147.10 293.80 147.40 C296.13 147.70 297.55 147.30 299.00 147.00 C300.45 146.70 301.33 145.60 302.50 145.60 C303.67 145.60 304.55 146.70 306.00 147.00 C307.45 147.30 308.87 147.70 311.20 147.40 C313.53 147.10 317.08 146.45 320.00 145.20 C322.92 143.95 325.93 141.95 328.70 139.90 C331.47 137.85 334.27 135.38 336.60 132.90 C338.93 130.42 340.95 127.77 342.70 125.00 C344.45 122.23 345.93 119.22 347.10 116.30 C348.27 113.38 349.03 110.42 349.70 107.50 C350.37 104.58 350.83 101.72 351.10 98.80 C351.37 95.88 351.38 92.92 351.30 90.00 C351.22 87.08 351.00 84.65 350.60 81.30 C350.20 77.95 349.63 73.40 348.90 69.90 C348.17 66.40 347.23 63.50 346.20 60.30 C345.17 57.10 344.00 53.77 342.70 50.70 C341.40 47.63 340.00 44.53 338.40 41.90 C336.80 39.27 335.00 36.80 333.10 34.90 C331.20 33.00 329.18 31.82 327.00 30.50 C324.82 29.18 322.33 27.80 320.00 27.00 C317.67 26.20 315.08 25.88 313.00 25.70 C310.92 25.52 309.25 25.65 307.50 25.90 C305.75 26.15 304.17 27.20 302.50 27.20 Z" fill="none" stroke="#3a3a3a" stroke-width="0.75"/>
<path d="M300.6 27.8 L300.5 60.0 L300.6 110.0 L301.0 145.8 L304.6 145.8 L304.4 110.0 L304.2 60.0 L304.2 27.8 Z" fill="#f3f3f3" stroke="none"/>
<path d="M300.60 27.80 C300.58 33.17 300.50 46.30 300.50 60.00 C300.50 73.70 300.52 95.70 300.60 110.00 C300.68 124.30 300.93 139.83 301.00 145.80" fill="none" stroke="#8a8a8a" stroke-width="0.55"/>
<path d="M304.20 27.80 C304.20 33.17 304.17 46.30 304.20 60.00 C304.23 73.70 304.33 95.70 304.40 110.00 C304.47 124.30 304.57 139.83 304.60 145.80" fill="none" stroke="#8a8a8a" stroke-width="0.55"/>
<path d="M338.1 73.9h0M301.3 35.8h0M293.6 29.6h0M277.9 39.4h0M320.3 124.8h0M307.6 103.4h0M262.6 83.0h0M305.2 30.7h0M306.7 117.4h0M260.5 87.5h0M322.3 36.2h0M279.2 97.0h0M312.8 74.2h0M268.3 57.4h0M313.8 62.8h0M283.1 47.0h0M277.5 138.1h0M290.2 99.9h0M272.8 52.2h0M305.5 130.9h0M287.2 83.6h0M337.2 128.2h0M266.6 123.2h0M293.3 141.0h0M308.9 87.8h0M311.8 133.2h0M323.7 107.4h0M303.5 127.2h0M283.9 78.8h0M325.8 32.7h0M273.3 90.9h0M325.8 137.8h0M343.6 82.4h0M277.3 73.8h0M309.2 99.9h0M277.5 50.4h0M307.9 121.6h0M341.8 122.9h0M312.9 53.3h0M283.7 98.1h0M317.7 30.5h0M318.6 98.8h0M329.1 104.3h0M274.9 101.1h0M296.7 130.3h0M318.2 41.2h0M309.5 27.5h0M320.7 119.6h0M278.0 81.6h0M320.0 35.6h0M306.3 137.2h0M318.2 80.0h0M304.3 33.3h0M316.3 100.9h0M346.0 81.2h0M329.5 42.8h0M276.7 64.7h0M339.1 51.3h0M322.7 66.3h0M296.9 51.4h0M281.4 91.1h0M272.1 83.4h0M264.4 105.2h0M276.2 85.7h0M268.6 66.8h0M268.2 106.2h0M305.5 142.8h0M323.4 59.5h0M332.1 117.2h0M307.3 127.7h0M267.3 102.7h0M294.0 40.6h0M292.9 53.1h0M298.4 35.1h0M293.8 56.8h0M298.3 59.4h0M284.8 44.6h0M309.2 53.3h0M294.3 31.9h0M299.4 51.1h0M337.1 125.1h0M323.7 40.4h0M261.8 60.7h0M304.7 27.8h0M275.2 39.3h0M257.4 101.7h0M280.1 61.0h0M271.1 98.8h0M297.6 55.7h0M293.2 63.4h0M340.5 61.4h0M307.0 35.7h0M333.0 62.0h0M319.3 45.0h0M292.9 46.0h0M315.7 72.5h0M300.8 105.2h0M309.4 35.1h0M324.9 48.8h0" stroke="#F5A548" stroke-width="2.45" stroke-linecap="round" fill="none"/>
<path d="M307.1 110.5h0M311.4 125.2h0M315.2 33.6h0M271.5 117.8h0M331.2 99.1h0M320.1 51.6h0M345.3 101.9h0M281.8 55.6h0M292.6 124.6h0M292.9 34.0h0M282.3 134.5h0M298.5 102.2h0M260.8 65.6h0M288.1 130.1h0M328.0 84.7h0M273.9 135.2h0M323.1 117.7h0M316.2 36.3h0M285.9 81.6h0M283.3 67.8h0M295.4 84.0h0M276.4 114.9h0M336.3 46.8h0M345.8 93.3h0M313.4 67.5h0M332.9 45.6h0M270.8 60.5h0M327.6 111.2h0M325.0 104.8h0M320.3 32.1h0M298.4 96.7h0M338.1 65.2h0M299.5 65.0h0M291.4 102.3h0M298.0 39.6h0M292.8 144.6h0M344.0 77.3h0M316.3 92.0h0M319.1 115.7h0M303.7 114.2h0M306.9 106.8h0M319.1 101.9h0" stroke="#E6EE84" stroke-width="2.45" stroke-linecap="round" fill="none"/>
<path d="M330.3 115.1h0M329.8 64.6h0M278.1 103.9h0M272.2 126.6h0M285.9 74.8h0M293.8 86.3h0M337.6 101.1h0M314.5 86.5h0M289.6 93.9h0M265.1 84.0h0M266.2 89.9h0M268.2 70.9h0M313.3 27.9h0M287.3 95.0h0M302.1 87.4h0M331.5 70.7h0M266.3 95.3h0M272.4 64.6h0M290.9 68.9h0M329.7 78.7h0M270.7 74.9h0M310.6 90.8h0M308.8 45.6h0M317.9 129.2h0M318.5 68.7h0M273.4 86.0h0M345.5 113.3h0M285.3 91.9h0M300.2 124.3h0M338.6 62.9h0M327.1 127.1h0M300.9 100.0h0M315.4 103.3h0M289.7 128.1h0M287.0 118.8h0M278.9 112.3h0M311.4 87.0h0M263.7 107.3h0M288.2 137.4h0M286.7 46.9h0M332.5 91.2h0M289.2 73.9h0M288.5 87.9h0" stroke="#BCE89B" stroke-width="2.45" stroke-linecap="round" fill="none"/>
<path d="M303.3 66.3h0M285.5 89.4h0M335.6 71.8h0M275.0 81.0h0M297.5 71.4h0M280.5 82.9h0M333.9 88.4h0M263.0 90.8h0M284.6 100.4h0M330.2 95.9h0M282.3 75.4h0M300.3 77.9h0M336.2 93.7h0M256.9 86.7h0M321.7 76.8h0M281.4 95.9h0M324.4 86.6h0M291.6 72.3h0M281.2 69.8h0M283.7 73.0h0M308.2 75.6h0M306.3 71.0h0M340.3 86.3h0M303.0 69.5h0M268.7 88.9h0M307.1 94.0h0M338.5 98.8h0M282.1 80.5h0M315.9 89.4h0M296.3 94.9h0M264.3 98.4h0M313.5 100.1h0M338.3 89.9h0M256.4 92.5h0M277.1 70.2h0M257.1 83.6h0M335.6 98.7h0M347.0 96.0h0M333.9 84.9h0M335.4 68.1h0M287.5 79.6h0M335.0 77.9h0M282.1 64.9h0M317.0 82.3h0M321.6 99.7h0M284.3 95.1h0M304.3 88.9h0M326.5 97.5h0" stroke="#86D79C" stroke-width="2.45" stroke-linecap="round" fill="none"/>
<path d="M301.2 144.9h0M301.4 128.1h0M314.2 114.1h0M308.8 139.6h0M300.3 137.8h0M330.4 135.7h0M328.8 119.5h0M282.8 110.9h0M263.8 111.8h0M324.8 69.2h0M272.0 123.1h0M315.6 130.5h0M299.4 67.9h0M329.9 87.9h0M316.7 142.6h0M337.8 110.6h0M286.8 113.0h0M277.8 131.5h0M276.6 120.9h0M333.7 132.0h0M321.2 86.4h0M345.7 109.7h0M264.7 72.7h0M318.0 126.8h0M288.4 109.1h0M272.0 133.7h0M275.1 126.9h0M315.9 64.5h0M314.8 139.9h0M317.7 95.6h0M264.8 119.5h0M318.0 131.7h0M269.9 126.1h0M327.5 132.6h0M324.3 132.3h0M339.1 108.1h0M267.2 115.1h0M294.4 134.6h0M300.3 114.4h0M274.3 121.4h0M326.1 81.5h0M329.5 107.2h0M290.8 116.3h0M341.8 107.0h0M294.2 111.3h0M272.5 108.8h0M305.2 112.2h0M320.5 132.6h0M296.9 143.6h0M334.5 115.2h0M297.2 116.9h0M291.6 89.0h0M341.3 71.3h0M309.0 144.6h0M304.0 135.4h0M312.3 69.6h0M286.1 136.5h0M277.4 125.1h0M284.0 122.7h0M340.9 112.2h0M317.7 108.3h0M311.5 130.4h0M310.4 117.7h0M281.0 106.9h0M345.8 107.1h0M273.5 115.1h0M331.5 110.8h0M326.3 119.4h0M287.2 100.8h0M288.8 125.9h0M319.9 107.1h0M280.8 115.1h0M277.9 133.8h0M310.9 110.9h0M282.6 137.5h0M281.1 78.3h0M311.3 121.0h0M317.2 137.9h0M288.0 143.4h0M324.2 127.0h0M285.9 110.9h0" stroke="#3DA6AA" stroke-width="2.45" stroke-linecap="round" fill="none"/>
<path d="M331.2 58.0h0M324.1 78.7h0M304.8 104.9h0M288.7 105.7h0M341.7 75.5h0M324.0 34.5h0M328.6 59.2h0M260.0 100.3h0M297.9 141.3h0M266.0 46.8h0M333.6 104.3h0M304.2 77.6h0M261.5 97.5h0M280.0 37.4h0M322.0 102.9h0M331.2 40.2h0M312.3 96.2h0M321.6 97.0h0M312.3 46.5h0M321.7 113.6h0M311.9 60.4h0M323.2 121.3h0M344.4 96.8h0M286.9 35.1h0M298.2 120.6h0M256.4 97.8h0M311.6 83.6h0M269.9 41.0h0M323.8 136.5h0M260.8 115.1h0M346.9 85.2h0M304.4 74.6h0M298.6 47.1h0M330.9 68.3h0M309.2 67.8h0M342.9 101.1h0M348.9 101.1h0" stroke="#E8593A" stroke-width="2.45" stroke-linecap="round" fill="none"/>
<path d="M281.40 37.30 L334.30 72.60" stroke="#BC1F29" stroke-width="1.55" fill="none" stroke-linecap="round"/>
<path d="M320.50 35.80 L337.53 79.78" stroke="#BC1F29" stroke-width="1.55" fill="none" stroke-linecap="round"/><path d="M338.90 83.30 L334.62 79.17 L339.28 77.36 Z" fill="#BC1F29"/>
<path d="M320.50 35.80 L285.30 87.90" stroke="#BC1F29" stroke-width="1.55" fill="none" stroke-linecap="round"/>
<path d="M330.50 43.50 L302.10 87.90" stroke="#BC1F29" stroke-width="1.55" fill="none" stroke-linecap="round"/>
<path d="M280.70 48.80 L308.20 80.20" stroke="#BC1F29" stroke-width="1.55" fill="none" stroke-linecap="round"/>
<path d="M284.50 56.50 L292.58 60.29" stroke="#BC1F29" stroke-width="1.55" fill="none" stroke-linecap="round"/><path d="M296.00 61.90 L290.05 61.87 L292.17 57.34 Z" fill="#BC1F29"/>
<path d="M311.30 87.90 L310.03 67.17" stroke="#BC1F29" stroke-width="1.55" fill="none" stroke-linecap="round"/><path d="M309.80 63.40 L312.63 68.64 L307.63 68.94 Z" fill="#BC1F29"/>
<path d="M316.00 93.00 L288.43 80.19" stroke="#2A5BAA" stroke-width="1.55" fill="none" stroke-linecap="round"/><path d="M285.00 78.60 L290.95 78.61 L288.84 83.14 Z" fill="#2A5BAA"/>
<path d="M291.00 97.00 L334.00 74.00" stroke="#2A5BAA" stroke-width="1.55" fill="none" stroke-linecap="round"/>
<path d="M278.40 79.50 L286.80 87.90" stroke="#BC1F29" stroke-width="1.55" fill="none" stroke-linecap="round"/>
<path d="M283.70 92.70 L335.80 92.70" stroke="#8E1B30" stroke-width="1.55" fill="none" stroke-linecap="round"/>
<path d="M284.50 92.70 L284.50 111.90" stroke="#8E1B30" stroke-width="1.55" fill="none" stroke-linecap="round"/>
<path d="M315.90 93.50 L315.90 131.82" stroke="#8E1B30" stroke-width="1.55" fill="none" stroke-linecap="round"/><path d="M315.90 135.60 L313.40 130.20 L318.40 130.20 Z" fill="#8E1B30"/>
<path d="M284.00 93.00 L262.77 91.30" stroke="#BC1F29" stroke-width="1.55" fill="none" stroke-linecap="round"/><path d="M259.00 91.00 L264.58 88.94 L264.18 93.92 Z" fill="#BC1F29"/>
<path d="M276.00 100.00 L262.77 99.22" stroke="#BC1F29" stroke-width="1.55" fill="none" stroke-linecap="round"/><path d="M259.00 99.00 L264.54 96.82 L264.24 101.81 Z" fill="#BC1F29"/>
<path d="M276.00 93.50 L263.05 98.21" stroke="#BC1F29" stroke-width="1.55" fill="none" stroke-linecap="round"/><path d="M259.50 99.50 L263.72 95.31 L265.43 100.00 Z" fill="#BC1F29"/>
<path d="M265.30 117.30 L300.60 82.00" stroke="#BC1F29" stroke-width="1.55" fill="none" stroke-linecap="round"/>
<path d="M280.70 82.00 L329.70 134.10" stroke="#BC1F29" stroke-width="1.55" fill="none" stroke-linecap="round"/>
<path d="M299.00 136.40 L280.09 114.75" stroke="#BC1F29" stroke-width="1.55" fill="none" stroke-linecap="round"/><path d="M277.60 111.90 L283.04 114.32 L279.27 117.61 Z" fill="#BC1F29"/>
<path d="M276.10 107.30 L315.90 124.90" stroke="#BC1F29" stroke-width="1.55" fill="none" stroke-linecap="round"/>
<path d="M292.90 136.40 L314.40 82.00" stroke="#BC1F29" stroke-width="1.55" fill="none" stroke-linecap="round"/>
<path d="M314.40 94.30 L326.89 105.57" stroke="#BC1F29" stroke-width="1.55" fill="none" stroke-linecap="round"/><path d="M329.70 108.10 L324.02 106.34 L327.36 102.63 Z" fill="#BC1F29"/>
<path d="M291.40 97.30 L314.40 82.00" stroke="#2A5BAA" stroke-width="1.55" fill="none" stroke-linecap="round"/>
<path d="M300.60 82.00 L334.30 72.60" stroke="#BC1F29" stroke-width="1.55" fill="none" stroke-linecap="round"/>
<path d="M73.4 363.2 L74.7 362.9 L76.0 363.0 L77.3 362.9 L78.6 363.0 L78.4 361.7 L78.3 360.4 L78.6 359.1 L78.9 357.9 L79.5 356.7 L79.9 355.5 L80.1 354.2 L80.2 352.9 L80.7 351.7 L81.0 350.4" fill="none" stroke="#b4b4b4" stroke-width="0.5" stroke-linejoin="round"/>
<path d="M49.3 402.6 L48.0 402.4 L46.7 402.6 L45.6 403.2 L44.7 404.1 L44.0 405.2 L43.6 406.4 L43.3 407.7 L43.3 409.0 L43.5 410.3" fill="none" stroke="#b4b4b4" stroke-width="0.5" stroke-linejoin="round"/>
<path d="M52.1 393.6 L52.7 392.5 L53.6 391.6 L54.6 390.7 L55.5 389.8 L56.7 389.3 L57.8 388.6 L59.0 388.1 L60.3 388.0 L61.6 388.1 L62.8 388.6 L63.8 389.5 L64.3 390.7 L64.4 392.0 L63.7 393.1 L62.7 393.9 L61.5 394.3 L62.0 395.4 L60.7 395.2 L59.5 394.7 L58.9 395.9 L58.2 397.0 L57.3 397.9 L56.5 398.9 L55.4 399.6 L54.2 400.2 L53.2 401.0 L51.9 401.3 L50.7 401.1 L49.7 400.2 L49.2 399.0" fill="none" stroke="#b4b4b4" stroke-width="0.5" stroke-linejoin="round"/>
<path d="M86.2 368.0 L85.0 367.5 L84.0 366.7 L83.4 365.6 L83.3 364.3 L82.9 363.0 L82.3 361.9 L81.4 360.9 L82.3 359.9 L81.1 359.2 L80.0 358.6 L78.7 358.3 L77.4 358.5 L76.3 359.1 L75.5 360.2 L75.0 361.4 L74.6 362.6 L74.4 363.9 L74.5 365.2 L75.0 366.4 L75.8 367.4 L76.4 368.5 L77.1 369.6 L77.5 370.9 L77.9 372.1 L78.5 373.3 L79.8 373.0 L81.0 372.4 L82.0 371.7 L82.9 370.8 L83.7 369.8 L84.4 368.6 L85.2 367.6 L86.4 367.0" fill="none" stroke="#b4b4b4" stroke-width="0.5" stroke-linejoin="round"/>
<path d="M32.6 381.4 L31.5 382.2 L30.4 382.9 L29.3 383.6 L28.1 383.9 L26.8 384.1 L25.5 384.2 L25.6 385.5 L26.1 386.7 L26.4 388.0 L26.8 389.2 L25.7 389.9 L24.8 390.8 L24.3 392.0 L24.3 393.3 L24.8 394.5 L25.3 395.7 L25.1 397.0 L24.5 398.1 L23.6 399.1 L23.3 400.4 L23.0 401.6 L23.0 402.9 L23.1 404.2 L23.5 405.4 L24.4 406.4 L25.3 407.3 L26.6 407.7 L27.9 407.5 L29.1 407.0 L30.1 406.3 L31.1 405.4" fill="none" stroke="#b4b4b4" stroke-width="0.5" stroke-linejoin="round"/>
<path d="M61.1 361.1 L61.1 359.8 L60.8 358.5 L60.1 357.4 L59.0 356.7 L57.8 356.3 L56.5 356.0 L55.2 355.9 L53.9 356.1 L52.7 355.6 L51.9 354.6 L51.7 353.3 L52.4 352.2 L53.7 351.9 L55.0 352.0 L55.9 352.9 L56.2 354.2 L55.9 355.5 L55.2 356.6 L55.0 357.8" fill="none" stroke="#b4b4b4" stroke-width="0.5" stroke-linejoin="round"/>
<path d="M64.1 339.6 L65.4 339.7 L66.7 339.6 L67.9 339.5 L69.2 339.6 L70.5 339.5 L71.8 339.5 L73.1 339.8 L74.4 340.1 L75.6 340.4 L76.7 341.1 L77.8 341.9 L78.6 342.9 L79.2 344.0 L79.3 345.3 L78.9 346.6 L78.1 347.6 L77.1 348.4 L75.8 348.7 L74.5 348.9 L73.2 348.6 L72.0 348.3 L70.8 347.8" fill="none" stroke="#b4b4b4" stroke-width="0.5" stroke-linejoin="round"/>
<path d="M78.7 351.2 L78.1 352.4 L77.3 353.4 L76.2 354.1 L75.3 355.0 L74.6 356.1 L74.4 357.4 L74.2 358.7 L74.3 360.0 L74.5 361.2 L75.0 362.5 L75.7 363.5 L76.5 364.5 L77.5 365.4 L78.7 366.0 L79.6 366.9 L80.2 368.0 L81.0 369.1 L81.3 370.4 L81.3 371.7 L81.0 372.9 L80.6 374.1 L80.1 375.4 L79.3 376.3 L78.2 375.6 L77.4 374.6 L76.8 373.4 L76.6 372.1 L77.0 370.9 L75.8 370.4 L76.2 369.2 L76.9 368.1 L78.1 367.5 L79.4 367.4 L80.7 367.6 L81.8 368.2 L82.9 368.8 L83.9 369.7 L84.8 370.7 L85.4 371.8" fill="none" stroke="#b4b4b4" stroke-width="0.5" stroke-linejoin="round"/>
<path d="M49.3 388.2 L48.8 386.9 L48.9 385.6 L49.5 384.5 L50.3 383.5 L51.4 382.8 L52.6 382.4 L53.9 382.0 L55.1 381.8 L56.4 381.9 L57.7 381.5 L58.8 380.8 L59.8 380.0 L60.5 378.9 L61.0 377.7 L61.4 376.5 L61.6 375.2 L61.5 373.9 L61.1 372.6 L60.5 371.5 L59.4 370.8 L58.2 370.4 L57.0 369.9 L55.9 369.3 L54.6 369.0 L53.4 368.6 L52.2 368.1 L50.9 367.9 L49.6 367.9 L48.3 368.3 L47.1 368.5 L45.8 368.8 L44.5 368.6 L43.6 367.7 L43.1 366.5 L43.2 365.2 L43.8 364.0 L44.7 363.1 L45.9 362.6 L47.1 363.0" fill="none" stroke="#b4b4b4" stroke-width="0.5" stroke-linejoin="round"/>
<path d="M50.1 362.6 L49.0 361.9 L47.9 361.1 L46.9 360.3 L46.0 359.4 L45.5 358.2 L45.0 357.0 L44.0 356.1 L42.8 355.7 L41.5 355.6 L40.3 356.1 L39.0 356.2 L37.7 356.0 L36.6 355.3 L35.5 354.6 L34.6 353.7 L33.8 352.7 L33.2 351.5" fill="none" stroke="#b4b4b4" stroke-width="0.5" stroke-linejoin="round"/>
<path d="M35.7 374.6 L36.7 375.4 L37.7 376.3 L38.3 377.5 L39.3 378.3 L40.5 378.8 L41.7 379.2 L43.0 379.4 L44.3 379.2 L45.6 379.0 L46.8 378.6 L48.0 378.1 L49.0 377.2 L49.8 376.2 L50.4 375.1 L50.9 373.9 L50.9 372.6 L50.9 371.3 L51.1 370.0 L51.1 368.7 L49.9 369.1 L48.7 369.5 L47.4 369.6 L46.1 369.5 L44.8 369.8 L43.8 370.5 L42.8 371.5 L42.1 372.5 L41.3 373.5 L40.8 374.7 L41.1 376.0 L41.4 377.3 L41.7 378.5 L42.1 379.8 L42.9 380.8 L44.0 381.5" fill="none" stroke="#b4b4b4" stroke-width="0.5" stroke-linejoin="round"/>
<path d="M74.2 345.1 L75.2 345.9 L76.1 346.8 L77.2 347.6 L78.4 348.1 L79.7 348.4 L80.9 348.2 L82.2 347.8 L83.2 347.0 L84.2 346.2 L83.6 345.0 L82.6 344.2 L81.4 343.8 L80.1 343.8 L78.8 344.0 L77.6 344.5 L76.5 345.1 L75.8 346.2 L75.4 347.5 L75.3 348.8 L75.2 350.1 L75.3 351.4 L75.8 352.6 L76.4 353.7 L77.2 354.8 L78.0 355.8 L79.0 356.6 L80.2 357.0 L81.5 357.3 L82.8 356.9 L83.7 356.1 L83.9 354.8 L83.7 353.5 L83.2 352.3 L82.6 351.2 L81.9 350.1 L80.8 349.3 L79.7 348.7 L78.5 348.2" fill="none" stroke="#b4b4b4" stroke-width="0.5" stroke-linejoin="round"/>
<path d="M35.5 403.1 L34.4 402.4 L33.3 401.7 L32.2 401.0 L31.2 400.1 L30.7 398.9 L30.5 397.6 L29.8 396.6 L28.8 395.7 L27.6 395.2 L26.3 395.1 L25.1 395.6 L23.9 395.9 L22.6 396.3 L21.4 396.6 L20.2 397.1" fill="none" stroke="#b4b4b4" stroke-width="0.5" stroke-linejoin="round"/>
<path d="M44.1 381.6 L42.8 381.5 L41.5 381.4 L40.3 381.9 L39.1 382.3 L37.9 382.9 L36.7 383.4 L35.6 384.1 L34.7 385.0 L33.7 385.8 L32.8 386.7 L31.6 387.4 L30.5 388.0 L29.2 388.1 L27.9 387.8 L27.1 386.8 L26.5 385.6 L26.5 384.3 L27.0 383.1 L27.7 382.0 L28.7 381.2 L30.0 381.1 L31.3 381.1" fill="none" stroke="#b4b4b4" stroke-width="0.5" stroke-linejoin="round"/>
<path d="M52.5 359.0 L53.8 359.0 L55.1 359.1 L55.5 360.4 L55.7 361.7 L55.7 363.0 L55.5 364.3 L55.1 365.5 L54.0 364.8 L55.1 364.1 L56.4 364.1 L57.7 364.0 L57.5 362.7 L57.2 361.5 L56.7 360.2 L56.2 359.0 L54.9 359.4 L54.9 360.7 L54.8 362.0 L54.7 363.3 L54.5 364.5 L54.1 365.8 L53.6 367.0 L52.8 368.0 L52.0 369.0 L50.8 368.5 L49.7 367.9 L48.6 367.2 L47.5 366.5 L46.4 365.7 L45.5 364.8 L44.8 363.7 L44.4 362.4 L44.3 361.1 L44.7 359.9" fill="none" stroke="#b4b4b4" stroke-width="0.5" stroke-linejoin="round"/>
<path d="M41.4 342.0 L41.1 343.3 L40.9 344.6 L40.9 345.9 L40.9 347.2 L41.1 348.4 L41.2 349.7 L40.5 350.9 L39.6 351.8 L40.4 352.8 L40.6 354.0 L41.2 355.2 L41.6 356.5 L42.4 357.5 L42.9 358.7 L44.1 358.2 L45.4 358.2 L46.7 358.4 L48.0 358.5 L48.7 357.5 L48.9 356.2 L48.3 355.0 L47.3 354.1 L46.2 353.5 L45.0 353.0 L43.8 352.6 L42.6 352.0 L41.4 351.4 L40.3 350.9 L39.0 350.5 L39.2 351.8 L39.7 353.0 L40.4 354.1 L41.5 354.9 L42.7 355.3" fill="none" stroke="#b4b4b4" stroke-width="0.5" stroke-linejoin="round"/>
<path d="M108.2 398.9 L109.4 398.4 L109.7 399.7 L109.9 401.0 L109.9 402.3 L109.9 403.6 L109.9 404.9 L110.2 406.1" fill="none" stroke="#b4b4b4" stroke-width="0.5" stroke-linejoin="round"/>
<path d="M101.6 385.4 L102.9 385.5 L104.2 385.6 L105.5 385.6 L106.8 385.8 L108.1 385.8 L109.4 385.9 L108.7 387.0 L107.7 387.8 L106.5 388.3 L105.2 388.5 L105.3 389.8 L104.9 391.1 L104.0 392.0 L102.8 392.5 L101.5 392.4 L100.3 392.0 L99.5 390.9 L99.2 389.6 L99.5 388.4 L98.3 387.9 L97.3 387.0 L96.8 385.8 L96.7 384.5 L97.0 383.2 L97.2 381.9 L97.6 380.7 L98.2 379.6 L98.8 378.4 L99.5 377.3 L99.9 376.1 L100.3 374.8 L100.5 373.5 L99.3 374.0 L98.2 374.7 L97.1 375.4 L95.9 375.9" fill="none" stroke="#b4b4b4" stroke-width="0.5" stroke-linejoin="round"/>
<path d="M43.9 354.9 L42.7 354.4 L43.1 355.6 L43.6 356.8 L44.5 357.8 L45.6 358.5 L44.8 359.6 L46.0 360.1 L46.7 361.2 L47.3 362.3 L48.0 363.5 L48.5 364.6 L48.7 365.9 L49.1 367.2 L49.4 368.4 L49.5 369.7 L50.8 369.9 L52.1 370.1 L53.4 370.2 L54.7 370.4 L56.0 370.3 L57.3 370.4" fill="none" stroke="#b4b4b4" stroke-width="0.5" stroke-linejoin="round"/>
<path d="M97.9 387.8 L97.1 386.7 L96.6 385.5 L96.6 384.2 L95.5 383.7 L94.5 382.9 L93.7 381.8 L93.3 380.6 L93.3 379.3 L93.7 378.1 L94.6 377.1 L95.8 376.7 L97.1 376.7 L98.3 377.1 L99.4 377.8 L100.3 378.8 L101.0 379.9 L101.7 380.9 L102.1 382.2 L102.0 383.5 L101.5 384.7 L100.5 385.5 L99.3 385.9 L98.0 385.8 L96.8 386.5 L96.0 387.4 L95.5 388.6 L95.8 389.9 L96.9 390.6 L98.2 390.6 L99.3 389.9" fill="none" stroke="#b4b4b4" stroke-width="0.5" stroke-linejoin="round"/>
<path d="M71.9 368.3 L70.7 368.6 L69.4 368.8 L68.1 369.0 L66.8 369.2 L65.5 369.1 L64.2 369.4 L63.0 369.5 L61.7 369.3 L60.4 368.9 L60.8 367.6 L61.4 366.5 L61.7 365.2 L62.1 363.9 L62.6 362.8 L63.5 361.8 L64.4 360.9 L65.4 360.0 L66.4 359.2 L67.6 358.7 L68.8 358.3 L70.1 358.4 L71.3 358.9 L72.0 357.8 L73.3 357.4 L74.5 357.1 L75.8 356.7 L77.0 356.3 L78.3 356.0 L79.5 355.7" fill="none" stroke="#b4b4b4" stroke-width="0.5" stroke-linejoin="round"/>
<path d="M42.7 369.3 L42.7 368.0 L42.8 366.7 L42.5 365.4 L42.0 364.2 L41.1 363.3 L40.1 362.5 L38.8 362.1 L37.5 362.2 L38.3 363.2 L39.5 363.8 L40.7 364.4 L41.8 365.0 L43.1 365.0 L44.4 364.8 L45.6 364.4 L46.5 363.5 L47.5 362.6 L47.7 361.3 L47.8 360.0 L47.5 358.8 L46.7 357.8 L45.6 357.0 L44.3 356.7 L43.0 356.7 L41.7 356.7 L40.5 357.0 L39.3 357.6 L38.2 358.3 L37.3 359.3 L36.6 360.3" fill="none" stroke="#b4b4b4" stroke-width="0.5" stroke-linejoin="round"/>
<path d="M86.6 366.0 L85.4 365.7 L84.1 365.7 L82.9 366.1 L81.8 366.8 L80.9 367.7 L80.0 368.7 L79.5 369.9 L79.0 371.1 L78.5 372.3 L78.5 373.6 L78.2 374.8 L77.7 376.0 L76.8 377.0 L75.9 377.9 L75.0 378.8 L74.0 379.6 L72.9 380.4" fill="none" stroke="#b4b4b4" stroke-width="0.5" stroke-linejoin="round"/>
<path d="M34.6 387.0 L34.1 385.8 L33.5 384.6 L32.9 383.5 L32.0 382.5 L31.2 381.5 L30.6 380.4 L30.0 379.2 L29.6 377.9 L29.2 376.7 L28.8 375.5 L28.7 374.2 L28.7 372.9 L28.5 371.6 L27.4 372.3 L26.3 373.0 L25.1 373.4 L23.8 373.7 L22.6 374.1 L21.3 374.3 L20.2 375.1" fill="none" stroke="#b4b4b4" stroke-width="0.5" stroke-linejoin="round"/>
<path d="M36.4 372.0 L35.6 371.0 L35.5 369.7 L35.5 368.4 L35.8 367.1 L36.4 366.0 L37.2 365.0 L38.3 364.3 L39.6 364.3 L40.9 364.6 L42.0 365.3 L42.9 366.1 L43.6 367.3 L44.0 368.5 L43.9 369.8 L43.5 371.0" fill="none" stroke="#b4b4b4" stroke-width="0.5" stroke-linejoin="round"/>
<path d="M43.5 347.4 L44.6 348.0 L45.7 348.8 L46.8 349.5 L47.6 350.5 L48.6 351.4 L49.1 352.6 L49.0 353.9 L48.4 355.0 L47.4 355.9 L46.1 356.1 L44.9 355.7 L44.0 354.8 L43.5 353.6 L43.8 352.3 L44.7 351.4 L45.6 352.3 L46.2 353.4" fill="none" stroke="#b4b4b4" stroke-width="0.5" stroke-linejoin="round"/>
<path d="M27.0 398.0 L25.9 398.6 L25.2 399.8 L25.1 401.0 L25.5 402.3 L26.6 403.1 L27.3 404.1 L28.0 405.2 L29.0 406.1 L30.1 406.8 L31.2 407.4 L32.4 407.8 L33.6 408.4 L34.7 409.1 L35.6 410.0" fill="none" stroke="#b4b4b4" stroke-width="0.5" stroke-linejoin="round"/>
<path d="M32.2 398.9 L31.3 398.0 L30.5 397.0 L29.6 396.1 L28.9 395.0 L28.2 393.9 L27.8 392.6 L27.5 391.4 L28.8 391.7 L29.9 392.3 L30.7 393.4 L30.0 394.5 L29.5 395.7 L29.6 397.0 L29.8 398.3 L30.4 399.4 L31.1 400.5 L32.1 401.3 L33.3 401.9 L34.6 402.0 L35.8 401.8 L36.8 400.9 L37.6 399.9 L38.3 398.8 L39.0 397.7 L39.6 396.5 L39.7 395.2 L40.1 394.0 L40.3 392.7 L39.1 392.1" fill="none" stroke="#b4b4b4" stroke-width="0.5" stroke-linejoin="round"/>
<path d="M75.5 396.0 L74.9 397.1 L74.1 398.1 L73.1 399.0 L72.5 400.2 L72.3 401.5 L72.4 402.8 L71.8 403.9 L71.2 405.1 L70.5 406.2 L69.6 407.1 L68.4 407.5 L67.1 407.3 L66.1 406.4 L65.3 405.4 L65.2 404.1 L65.5 402.8 L66.3 401.8 L67.5 401.3 L68.7 400.9 L68.0 399.8 L67.7 398.5 L67.5 397.2 L67.0 396.0 L66.4 394.9 L65.6 393.8 L64.5 393.2 L64.3 394.5 L63.6 395.6 L62.7 396.5 L61.6 397.2 L60.4 397.0 L59.2 396.5 L58.2 395.6 L57.7 394.4 L57.6 393.1 L58.0 391.9" fill="none" stroke="#b4b4b4" stroke-width="0.5" stroke-linejoin="round"/>
<path d="M48.1 404.5 L47.0 405.3 L45.7 405.4 L45.6 406.6 L45.0 407.8 L44.2 408.8 L43.2 409.7 L42.2 410.4" fill="none" stroke="#b4b4b4" stroke-width="0.5" stroke-linejoin="round"/>
<path d="M65.35 337.76 C63.78 337.76 62.24 336.13 60.49 335.72 C58.73 335.32 57.23 335.16 54.83 335.32 C52.43 335.47 48.98 335.83 46.09 336.64 C43.19 337.45 40.35 338.42 37.45 340.20 C34.55 341.98 31.18 344.65 28.71 347.33 C26.25 350.01 24.24 353.16 22.66 356.29 C21.07 359.41 20.06 362.65 19.18 366.06 C18.30 369.47 17.82 373.02 17.39 376.75 C16.96 380.48 16.62 384.81 16.60 388.45 C16.58 392.10 16.85 395.38 17.29 398.63 C17.74 401.89 18.45 405.62 19.28 408.00 C20.11 410.37 21.20 411.51 22.26 412.89 C23.32 414.26 24.81 415.01 25.63 416.25 C26.46 417.48 26.43 418.96 27.22 420.32 C28.02 421.67 29.08 422.49 30.40 424.39 C31.72 426.29 33.03 429.87 35.17 431.72 C37.30 433.57 40.54 434.93 43.21 435.48 C45.87 436.04 49.10 434.89 51.15 435.08 C53.20 435.26 53.98 436.27 55.52 436.60 C57.06 436.94 59.58 436.35 60.39 437.11 C61.20 437.88 60.19 440.37 60.39 441.19 C60.58 442.00 59.99 441.86 61.58 442.00 C63.17 442.14 68.36 442.14 69.92 442.00 C71.47 441.86 70.75 442.00 70.91 441.19 C71.08 440.37 70.08 437.88 70.91 437.11 C71.74 436.35 74.34 436.94 75.88 436.60 C77.41 436.27 78.11 435.26 80.14 435.08 C82.18 434.89 85.42 436.04 88.09 435.48 C90.75 434.93 94.00 433.57 96.13 431.72 C98.26 429.87 99.57 426.29 100.90 424.39 C102.22 422.49 103.28 421.67 104.07 420.32 C104.87 418.96 104.82 417.48 105.66 416.25 C106.51 415.01 108.09 414.38 109.14 412.89 C110.18 411.39 111.14 409.66 111.92 407.29 C112.69 404.91 113.42 401.94 113.80 398.63 C114.18 395.33 114.20 390.49 114.20 387.44 C114.20 384.38 114.05 382.69 113.80 380.31 C113.56 377.94 113.26 375.85 112.71 373.18 C112.17 370.52 111.62 367.30 110.53 364.33 C109.43 361.36 107.90 358.05 106.16 355.37 C104.42 352.69 102.55 350.47 100.10 348.24 C97.65 346.02 94.36 343.88 91.46 342.03 C88.57 340.19 85.64 338.42 82.73 337.15 C79.81 335.88 76.12 334.64 73.99 334.40 C71.85 334.16 71.36 335.16 69.92 335.72 C68.48 336.28 66.92 337.76 65.35 337.76 Z" fill="none" stroke="#3a3a3a" stroke-width="0.75"/>
<path d="M64.9 338.1 L64.9 361.0 L64.9 386.4 L65.0 405.8 L66.7 405.8 L66.8 386.4 L66.8 361.0 L66.8 338.1 Z" fill="#efefef" stroke="none"/>
<path d="M64.85 338.06 C64.85 341.88 64.85 352.91 64.85 360.97 C64.85 369.03 64.84 378.95 64.85 386.42 C64.87 393.88 64.94 402.54 64.95 405.76" fill="none" stroke="#8f8f8f" stroke-width="0.55"/>
<path d="M66.84 338.06 C66.84 341.88 66.84 352.91 66.84 360.97 C66.84 369.03 66.86 378.95 66.84 386.42 C66.82 393.88 66.76 402.54 66.74 405.76" fill="none" stroke="#8f8f8f" stroke-width="0.55"/>
<path d="M51.15 435.08 C52.23 434.65 55.74 433.91 57.61 432.53 C59.48 431.16 61.31 429.00 62.37 426.83 C63.43 424.66 63.83 421.95 63.96 419.50 C64.09 417.06 63.83 414.50 63.17 412.17 C62.50 409.85 60.52 406.66 59.99 405.56" fill="none" stroke="#4a4a4a" stroke-width="0.55"/>
<path d="M80.14 435.08 C79.07 434.65 75.56 433.91 73.69 432.53 C71.82 431.16 69.98 429.00 68.92 426.83 C67.87 424.66 67.47 421.95 67.34 419.50 C67.20 417.06 67.47 414.50 68.13 412.17 C68.79 409.85 70.78 406.66 71.31 405.56" fill="none" stroke="#4a4a4a" stroke-width="0.55"/>
<path d="M25.63 416.25 C26.06 415.52 27.12 413.28 28.22 411.87 C29.31 410.46 30.37 408.81 32.19 407.80 C34.01 406.78 36.32 406.24 39.14 405.76 C41.95 405.29 45.59 404.98 49.07 404.95 C52.54 404.91 58.17 405.45 59.99 405.56" fill="none" stroke="#5a5a5a" stroke-width="0.5"/>
<path d="M105.66 416.25 C105.23 415.52 104.17 413.28 103.08 411.87 C101.99 410.46 100.93 408.81 99.11 407.80 C97.29 406.78 94.97 406.24 92.16 405.76 C89.35 405.29 85.70 404.98 82.23 404.95 C78.75 404.91 73.13 405.45 71.31 405.56" fill="none" stroke="#5a5a5a" stroke-width="0.5"/>
<path d="M31.19 423.57 C33.18 422.73 39.30 420.13 43.11 418.48 C46.92 416.84 50.56 415.23 54.03 413.70 C57.51 412.17 62.31 410.05 63.96 409.32" fill="none" stroke="#9a9a9a" stroke-width="0.45"/>
<path d="M67.34 409.32 C68.99 410.05 73.79 412.17 77.27 413.70 C80.74 415.23 84.38 416.84 88.19 418.48 C91.99 420.13 98.12 422.73 100.10 423.57" fill="none" stroke="#9a9a9a" stroke-width="0.45"/>
<path d="M63.96 419.50 C64.24 420.27 65.09 424.08 65.65 424.08 C66.21 424.08 67.05 420.27 67.34 419.50" fill="none" stroke="#6a6a6a" stroke-width="0.45"/>
<path d="M36.6 392.6h0M55.6 406.9h0M71.7 385.1h0M40.9 403.9h0M77.1 372.6h0M91.9 395.9h0M84.1 356.4h0M58.3 374.6h0M41.1 395.7h0M68.8 404.4h0M35.4 395.3h0M38.6 381.5h0M57.8 385.8h0M43.3 404.7h0M78.3 390.4h0M42.7 387.2h0M56.8 404.8h0M67.1 394.5h0M83.5 402.5h0M53.4 406.1h0M64.4 396.6h0M58.5 402.5h0M30.7 382.0h0M93.1 382.0h0M62.2 376.5h0M77.9 377.4h0M96.0 387.2h0M70.0 391.7h0M61.3 385.3h0M48.5 409.5h0M87.0 386.4h0M75.7 380.2h0M62.2 380.4h0M37.7 406.1h0M72.7 395.1h0M74.2 407.6h0M97.6 385.4h0M60.1 407.7h0M84.7 395.7h0M71.0 398.2h0M42.9 375.7h0M75.2 389.6h0M39.1 410.3h0M91.5 378.5h0M65.8 376.0h0M95.3 394.2h0M111.7 380.0h0M70.6 376.6h0M79.2 393.2h0M78.5 401.9h0M51.6 369.0h0M62.6 388.1h0M66.7 408.1h0M70.6 381.7h0M100.6 376.4h0M71.5 389.7h0M33.9 407.9h0M85.8 398.0h0M44.4 378.3h0M53.4 402.9h0M32.4 397.5h0M83.7 390.5h0M47.8 392.7h0M109.7 399.6h0M83.3 380.7h0" stroke="#3DA6AA" stroke-width="2.45" stroke-linecap="round" fill="none"/>
<path d="M34.7 389.1h0M74.4 366.1h0M34.2 358.0h0M97.6 399.6h0M78.6 361.9h0M98.5 357.2h0M96.8 362.4h0M40.2 353.7h0M23.9 378.5h0M55.7 340.9h0M105.9 410.2h0M48.7 394.8h0M82.8 345.6h0M66.8 369.6h0M86.0 360.4h0M19.6 383.7h0M31.2 392.8h0M94.0 379.2h0M51.5 364.3h0M64.8 356.7h0M75.0 394.0h0M24.1 362.4h0M100.7 406.1h0M93.4 354.2h0M39.6 348.0h0M24.3 368.1h0M52.2 373.4h0M87.0 401.7h0" stroke="#E6EE84" stroke-width="2.45" stroke-linecap="round" fill="none"/>
<path d="M32.7 368.8h0M70.0 379.3h0M34.6 410.4h0M54.2 382.5h0M73.4 380.0h0M19.9 388.7h0M87.4 392.1h0M23.5 372.6h0M61.6 370.0h0M64.9 383.1h0M102.0 391.7h0M43.9 371.5h0M96.1 368.6h0M38.8 391.2h0M26.7 405.1h0M96.8 376.6h0M96.8 382.1h0M107.4 364.8h0M101.2 409.4h0M79.7 349.8h0M56.0 373.0h0M24.9 402.0h0M22.9 390.4h0M50.7 384.6h0M32.5 378.4h0M62.5 401.9h0M69.4 363.5h0M21.7 379.5h0M77.3 365.6h0M45.5 386.2h0M71.7 344.6h0M27.7 402.4h0M29.1 379.4h0M21.7 374.6h0M56.2 392.3h0M80.1 406.4h0M95.0 352.2h0M42.7 407.9h0M106.5 399.4h0M25.0 381.0h0M88.7 369.3h0M106.3 360.2h0M28.8 371.9h0M63.2 339.3h0M101.9 395.9h0M48.4 366.2h0M103.1 389.2h0M52.2 380.5h0M73.7 361.6h0M22.8 409.0h0M32.9 360.0h0M62.4 366.1h0M42.5 362.7h0M35.7 372.4h0M108.1 393.6h0M36.6 358.3h0M64.9 345.8h0M57.8 365.4h0M29.0 405.2h0M34.7 362.6h0M44.5 360.1h0" stroke="#F5A548" stroke-width="2.45" stroke-linecap="round" fill="none"/>
<path d="M44.9 346.1h0M88.1 354.1h0M81.2 359.8h0M85.3 345.8h0M59.7 366.8h0M87.6 345.1h0M83.0 398.5h0M64.3 348.6h0M106.3 373.6h0M88.8 400.0h0M89.2 349.5h0M84.2 352.9h0M67.8 347.7h0M39.3 344.4h0M50.0 378.4h0M20.7 370.5h0M56.8 351.2h0M105.1 392.6h0M47.9 354.2h0M88.5 405.6h0M81.1 379.5h0M34.6 352.6h0M105.0 364.2h0M49.4 397.0h0M81.1 354.8h0M54.9 376.3h0M59.6 354.7h0M25.1 393.8h0M68.5 344.8h0M64.7 399.9h0M65.2 351.8h0M41.5 392.4h0M54.8 395.2h0M89.7 363.7h0M30.8 410.3h0M31.7 371.5h0M63.8 406.7h0M34.3 402.5h0M72.4 405.6h0M98.7 410.7h0M52.8 338.6h0M32.8 350.0h0M30.3 390.1h0M31.1 347.7h0M85.8 362.8h0M35.6 345.8h0M41.1 399.0h0M75.2 347.5h0M72.5 355.2h0M72.4 340.8h0M109.5 375.7h0M66.3 361.9h0M68.4 375.2h0M55.4 337.7h0M96.4 349.4h0M84.8 350.6h0M53.4 342.7h0M102.2 367.6h0M61.4 350.9h0M56.2 348.2h0M74.8 404.3h0M34.6 382.7h0M36.2 350.9h0M58.8 337.9h0M98.9 354.2h0M80.8 344.4h0M42.8 344.8h0" stroke="#86D79C" stroke-width="2.45" stroke-linecap="round" fill="none"/>
<path d="M67.1 341.7h0M107.2 396.7h0M75.0 359.5h0M44.5 357.0h0M38.3 363.1h0M22.2 364.9h0M19.6 399.9h0M83.5 340.5h0M89.9 374.0h0M45.4 400.3h0M28.9 386.3h0M27.7 363.1h0M102.1 385.1h0M108.3 380.0h0M56.4 361.8h0M84.0 343.1h0M45.9 369.3h0M70.2 355.2h0M40.0 377.9h0M47.5 357.6h0M55.0 390.0h0M104.3 383.9h0M108.8 369.9h0M85.5 376.0h0M107.8 386.2h0M91.9 369.0h0M28.4 399.8h0M30.7 374.3h0M27.1 366.4h0M50.6 402.7h0M94.9 408.7h0M29.2 397.0h0M93.3 374.2h0M103.7 358.4h0M40.0 387.2h0M76.9 384.3h0M30.5 367.1h0M45.9 374.1h0M66.0 387.6h0M62.4 360.9h0M34.7 370.2h0" stroke="#E8593A" stroke-width="2.45" stroke-linecap="round" fill="none"/>
<path d="M62.4 353.0h0M44.3 391.2h0M51.7 350.7h0M40.9 380.9h0M52.0 398.3h0M72.8 352.6h0M45.9 338.9h0M20.5 397.7h0M27.3 408.0h0M54.1 386.7h0M35.7 379.2h0M19.6 391.9h0M26.8 354.5h0M58.7 400.1h0M90.7 345.4h0M22.5 404.6h0M76.7 339.9h0M52.8 347.1h0M61.0 374.1h0M79.6 370.6h0M82.8 383.1h0M82.3 372.3h0M86.0 340.7h0M69.9 340.9h0M92.3 410.4h0M51.0 341.9h0M51.9 353.2h0M43.9 381.9h0M59.7 346.5h0M85.4 366.6h0M99.1 351.1h0M84.8 407.4h0M57.5 382.2h0M90.1 390.5h0M41.3 359.9h0M107.9 382.7h0M47.7 347.8h0M76.2 354.1h0" stroke="#BCE89B" stroke-width="2.45" stroke-linecap="round" fill="none"/>
<path d="M90.5 415.0h0M33.9 422.2h0M54.6 424.4h0M46.7 414.4h0M73.8 411.9h0M71.6 423.0h0M75.6 418.1h0M85.9 426.6h0M69.1 418.3h0M73.3 417.4h0M79.9 431.5h0M88.4 414.0h0M42.6 429.4h0M98.0 411.6h0" stroke="#EEF29A" stroke-width="2.45" stroke-linecap="round" fill="none"/>
<path d="M59.10 340.50 L102.62 371.41" stroke="#BC1F29" stroke-width="1.45" fill="none" stroke-linecap="round"/><path d="M105.70 373.60 L99.85 372.51 L102.75 368.43 Z" fill="#BC1F29"/>
<path d="M48.60 348.80 L53.98 344.40" stroke="#BC1F29" stroke-width="1.45" fill="none" stroke-linecap="round"/><path d="M56.90 342.00 L54.31 347.36 L51.14 343.49 Z" fill="#BC1F29"/>
<path d="M48.60 348.80 L49.97 354.91" stroke="#BC1F29" stroke-width="1.45" fill="none" stroke-linecap="round"/><path d="M50.80 358.60 L47.18 353.88 L52.06 352.78 Z" fill="#BC1F29"/>
<path d="M51.60 349.50 L105.70 382.60" stroke="#BC1F29" stroke-width="1.45" fill="none" stroke-linecap="round"/>
<path d="M84.70 345.00 L65.10 388.00" stroke="#BC1F29" stroke-width="1.45" fill="none" stroke-linecap="round"/>
<path d="M72.60 370.60 L99.39 355.92" stroke="#BC1F29" stroke-width="1.45" fill="none" stroke-linecap="round"/><path d="M102.70 354.10 L99.17 358.89 L96.76 354.50 Z" fill="#BC1F29"/>
<path d="M89.20 352.60 L66.60 388.00" stroke="#2A5BAA" stroke-width="1.45" fill="none" stroke-linecap="round"/>
<path d="M48.60 348.80 L38.00 365.00" stroke="#BC1F29" stroke-width="1.45" fill="none" stroke-linecap="round"/>
<path d="M38.00 365.00 L32.47 382.01" stroke="#BC1F29" stroke-width="1.45" fill="none" stroke-linecap="round"/><path d="M31.30 385.60 L30.59 379.69 L35.35 381.24 Z" fill="#BC1F29"/>
<path d="M53.80 370.60 L44.82 368.97" stroke="#BC1F29" stroke-width="1.45" fill="none" stroke-linecap="round"/><path d="M41.10 368.30 L46.86 366.80 L45.97 371.72 Z" fill="#BC1F29"/>
<path d="M29.00 395.00 L57.60 380.00" stroke="#BC1F29" stroke-width="1.45" fill="none" stroke-linecap="round"/>
<path d="M42.60 399.50 L87.70 380.00" stroke="#BC1F29" stroke-width="1.45" fill="none" stroke-linecap="round"/>
<path d="M87.70 380.00 L101.20 408.60" stroke="#BC1F29" stroke-width="1.45" fill="none" stroke-linecap="round"/>
<path d="M69.60 380.00 L66.79 385.62" stroke="#BC1F29" stroke-width="1.45" fill="none" stroke-linecap="round"/><path d="M65.10 389.00 L65.28 383.05 L69.75 385.29 Z" fill="#BC1F29"/>
<path d="M71.10 390.50 L48.60 413.00" stroke="#2A5BAA" stroke-width="1.45" fill="none" stroke-linecap="round"/>
<path d="M63.60 395.00 L53.25 401.90" stroke="#2A5BAA" stroke-width="1.45" fill="none" stroke-linecap="round"/><path d="M50.10 404.00 L53.21 398.92 L55.98 403.08 Z" fill="#2A5BAA"/>
<path d="M65.00 385.00 L101.31 376.83" stroke="#BC1F29" stroke-width="1.45" fill="none" stroke-linecap="round"/><path d="M105.00 376.00 L100.28 379.62 L99.18 374.75 Z" fill="#BC1F29"/>
<path d="M187.1 365.4 L188.4 365.3 L189.7 365.0 L190.6 364.1 L191.0 362.9 L190.8 361.6 L190.5 360.3 L190.4 359.0 L189.1 359.0 L187.8 358.9 L186.5 358.9 L185.2 358.9 L183.9 358.8 L182.7 358.4 L181.4 358.1 L180.2 357.6 L179.2 356.8 L178.4 355.7 L177.9 354.6 L177.6 353.3 L177.5 352.0 L177.5 350.7" fill="none" stroke="#b4b4b4" stroke-width="0.5" stroke-linejoin="round"/>
<path d="M172.8 393.4 L172.5 392.1 L171.8 391.0 L171.0 390.0 L170.0 389.1 L168.9 388.3 L168.1 387.4 L167.4 386.3 L166.8 385.1 L165.7 384.4 L164.4 384.1 L163.2 384.4 L162.2 385.2 L161.4 386.2 L160.1 386.0 L159.9 387.3 L160.2 388.5 L160.8 389.7 L161.9 390.4 L163.2 390.6 L164.3 390.0 L165.5 389.3 L166.1 388.2 L167.4 388.2 L168.5 387.4 L169.4 386.5 L170.0 385.4 L170.0 384.1 L169.3 383.0 L168.5 382.0" fill="none" stroke="#b4b4b4" stroke-width="0.5" stroke-linejoin="round"/>
<path d="M153.7 342.4 L153.9 343.7 L153.8 345.0 L153.6 346.3 L153.1 347.5 L152.5 348.7 L152.4 350.0 L152.9 351.2 L153.7 352.2 L154.1 353.4 L154.1 354.7 L153.5 355.9 L153.0 357.1 L152.6 358.3 L152.0 359.5 L151.2 360.5 L150.8 359.2 L151.1 357.9 L151.6 356.7 L152.6 355.9 L153.9 355.6 L155.2 355.8 L156.2 356.6 L156.6 357.9 L156.3 359.2 L155.4 360.1 L154.6 361.1 L153.6 362.0 L152.9 363.1" fill="none" stroke="#b4b4b4" stroke-width="0.5" stroke-linejoin="round"/>
<path d="M233.8 387.8 L235.0 387.5 L236.2 387.0 L237.4 386.3 L238.4 385.5 L239.1 384.4 L239.4 383.1 L238.1 383.0 L236.8 382.9 L235.6 383.3 L236.5 384.2 L237.8 384.4 L239.0 384.0 L239.4 382.8 L239.5 381.5 L239.4 380.2 L238.5 379.2 L237.3 378.8 L236.0 379.1" fill="none" stroke="#b4b4b4" stroke-width="0.5" stroke-linejoin="round"/>
<path d="M196.2 361.1 L196.3 359.8 L196.4 358.5 L196.4 357.2 L196.0 355.9 L195.2 354.9 L195.8 353.7 L196.1 352.5 L196.0 351.2 L195.4 350.0 L194.6 349.0 L193.6 348.1 L192.4 347.8 L191.1 347.8 L189.9 348.3 L188.9 349.1 L188.1 350.1 L187.4 351.3 L186.9 352.4 L185.6 352.9 L184.8 353.9 L184.2 355.0 L184.1 356.3 L184.1 357.6 L184.6 358.8 L185.5 359.8 L186.6 360.5 L187.9 360.8 L187.9 362.1 L188.6 363.2 L189.8 363.8 L191.1 363.9 L192.4 363.8" fill="none" stroke="#b4b4b4" stroke-width="0.5" stroke-linejoin="round"/>
<path d="M190.6 389.9 L191.3 391.0 L190.3 391.8 L189.1 392.3 L187.8 392.4 L186.5 392.2 L185.2 392.6 L184.1 393.3 L183.6 394.5 L183.5 395.8 L184.0 397.0 L184.8 398.0 L185.9 398.6 L187.2 398.9 L188.4 398.4 L189.4 397.5 L190.2 396.5 L190.6 395.3 L190.5 394.0 L189.9 392.8 L189.2 393.9 L189.2 395.2 L189.9 396.3 L190.8 397.3 L192.0 397.7 L193.3 397.7 L194.6 397.5 L195.8 397.0 L196.4 395.9 L196.4 394.6 L196.4 393.3 L196.1 392.0 L196.7 390.8" fill="none" stroke="#b4b4b4" stroke-width="0.5" stroke-linejoin="round"/>
<path d="M154.4 371.0 L155.7 371.0 L156.8 370.3 L157.6 369.3 L158.1 368.1 L158.5 366.8 L158.6 365.5 L157.4 366.1 L156.1 366.4 L154.9 366.7 L153.6 367.0 L152.3 367.1 L151.0 367.1 L149.8 366.8 L148.5 366.9 L148.1 368.2 L147.4 369.3 L146.6 370.3 L145.9 371.4 L144.9 372.2 L143.6 372.5 L142.4 372.8 L141.1 373.0 L139.8 373.3 L138.6 373.7 L137.3 374.0 L136.1 374.2 L134.8 374.5 L133.9 375.5 L133.2 376.5 L133.1 377.8 L132.8 379.1 L134.1 379.3 L135.3 379.5 L136.5 380.1 L137.5 380.9 L138.4 381.8 L139.1 382.9 L139.5 384.1 L138.2 384.1" fill="none" stroke="#b4b4b4" stroke-width="0.5" stroke-linejoin="round"/>
<path d="M240.1 375.8 L239.8 377.0 L239.8 378.3 L240.1 379.6 L240.6 380.8 L241.4 381.9 L242.4 382.6 L243.6 383.1" fill="none" stroke="#b4b4b4" stroke-width="0.5" stroke-linejoin="round"/>
<path d="M194.4 358.9 L193.3 359.6 L193.9 360.7 L194.4 361.9 L195.0 363.0 L195.6 364.2 L196.1 365.4 L196.4 366.7 L197.0 367.8 L197.2 369.1 L197.1 370.4 L196.0 369.7 L195.5 368.5 L195.3 367.2 L195.6 365.9 L195.9 364.7 L196.5 363.6 L197.8 363.9 L199.0 364.3 L200.2 365.0 L201.3 365.5 L202.6 365.6 L203.9 365.3 L205.2 365.1 L206.5 364.8" fill="none" stroke="#b4b4b4" stroke-width="0.5" stroke-linejoin="round"/>
<path d="M172.4 385.0 L173.3 386.0 L174.1 387.0 L175.3 387.6 L176.6 387.8 L177.9 388.0 L179.1 387.6 L180.0 386.7 L180.9 385.7 L181.7 384.7 L182.1 383.4 L182.4 382.2 L182.3 380.9 L182.1 379.6 L181.9 378.3 L181.3 377.2 L181.3 375.9 L182.0 374.8 L183.0 374.0 L184.3 374.0 L185.4 374.7 L185.9 375.9 L185.8 377.2 L185.2 378.3 L184.2 379.2 L183.0 379.6 L181.8 379.1 L180.7 378.5" fill="none" stroke="#b4b4b4" stroke-width="0.5" stroke-linejoin="round"/>
<path d="M228.8 380.6 L229.1 381.8 L229.5 383.1 L230.1 384.2 L231.1 385.0 L232.2 385.6 L233.3 386.3 L234.6 386.5 L235.9 386.4 L235.5 385.1 L234.7 384.1 L233.7 383.2 L232.7 382.4 L231.6 381.7 L230.3 381.6 L229.0 381.9 L229.4 383.1 L229.5 384.4 L229.7 385.7 L229.8 387.0 L229.8 388.3 L229.5 389.6 L229.4 390.9 L228.8 392.0 L227.9 393.0 L227.0 393.9 L225.9 394.6" fill="none" stroke="#b4b4b4" stroke-width="0.5" stroke-linejoin="round"/>
<path d="M146.9 362.2 L147.6 363.3 L148.3 364.4 L148.8 365.6 L149.3 366.8 L149.9 367.9 L150.1 369.2 L150.6 370.4 L151.8 370.2 L153.0 369.6 L154.0 368.8 L155.0 367.9 L155.4 366.6 L155.2 365.4 L154.2 366.3 L153.7 367.4 L153.9 368.7 L154.5 369.9 L155.5 370.7 L156.8 370.9 L158.1 370.7 L159.3 370.2 L160.0 369.1 L160.9 368.2 L162.1 367.6 L163.3 367.3 L164.6 367.4 L165.7 368.1 L166.4 369.2 L167.1 370.3 L167.9 371.3 L168.9 372.2 L169.9 372.9 L171.0 373.7 L172.2 374.3 L173.3 374.9 L174.4 375.5" fill="none" stroke="#b4b4b4" stroke-width="0.5" stroke-linejoin="round"/>
<path d="M242.1 400.9 L241.7 399.7 L241.1 398.5 L240.2 397.6 L239.0 397.2 L237.7 397.0 L238.3 398.1 L239.3 399.0 L240.5 399.5 L241.7 399.7 L243.0 399.9" fill="none" stroke="#b4b4b4" stroke-width="0.5" stroke-linejoin="round"/>
<path d="M198.3 383.1 L197.6 384.2 L197.3 385.4 L197.2 386.7 L197.2 388.0 L197.4 389.3 L197.5 390.6 L197.9 391.8 L196.8 392.5 L195.8 393.3 L194.7 394.0 L193.9 395.0 L193.2 396.1 L192.7 397.3 L192.3 398.5 L192.1 399.8 L191.6 401.0 L191.2 402.3 L190.7 403.5 L190.3 404.7 L189.9 405.9 L189.7 407.2 L189.5 408.5 L189.4 409.8 L189.1 411.1 L189.0 412.4 L189.1 413.7 L189.0 415.0 L189.1 416.3 L189.0 417.6 L189.0 418.9" fill="none" stroke="#b4b4b4" stroke-width="0.5" stroke-linejoin="round"/>
<path d="M204.6 345.6 L204.2 346.8 L203.8 348.1 L204.0 349.4 L204.4 350.6 L205.7 350.6 L207.0 350.8 L208.3 351.1 L209.5 351.5 L209.2 352.7 L209.0 354.0 L208.7 355.3 L207.9 356.3 L206.8 356.9 L205.6 357.5 L204.3 357.8 L203.1 358.3" fill="none" stroke="#b4b4b4" stroke-width="0.5" stroke-linejoin="round"/>
<path d="M167.1 393.5 L166.3 392.4 L165.4 391.5 L164.3 390.8 L163.1 390.5 L163.0 391.8 L163.4 393.0 L164.3 394.0 L164.9 395.1 L165.5 396.3 L166.2 397.4 L166.8 398.5 L167.3 399.7 L168.0 400.8 L168.5 402.0 L169.3 403.1 L170.1 404.1 L170.7 405.2 L171.3 406.4 L171.9 407.5 L172.8 408.5 L173.3 409.7 L173.7 410.9 L174.0 412.2 L174.1 413.5" fill="none" stroke="#b4b4b4" stroke-width="0.5" stroke-linejoin="round"/>
<path d="M241.4 383.7 L241.0 382.4 L240.5 381.2 L240.1 380.0 L239.7 378.7 L239.8 377.4 L239.7 376.1 L240.2 374.9" fill="none" stroke="#b4b4b4" stroke-width="0.5" stroke-linejoin="round"/>
<path d="M204.0 394.8 L203.1 393.8 L202.0 393.1 L201.3 392.0 L201.3 390.7 L200.1 390.1 L199.2 389.2 L198.8 388.0 L198.8 386.7 L199.6 387.7 L200.2 388.8 L200.5 390.1 L200.5 391.4 L200.2 392.6 L198.9 392.6 L197.6 392.3 L196.3 392.0 L195.2 391.3 L193.9 391.4 L192.8 391.9 L192.0 392.9 L191.9 394.2 L192.2 395.5 L193.0 396.5 L194.3 396.8 L195.5 396.5 L196.6 395.7 L197.2 394.6 L197.3 393.3 L197.1 392.0 L196.2 391.1 L195.4 390.0 L195.2 388.8 L195.4 387.5 L195.8 386.2 L196.8 385.4 L198.1 385.0" fill="none" stroke="#b4b4b4" stroke-width="0.5" stroke-linejoin="round"/>
<path d="M202.8 373.5 L201.7 374.3 L200.7 375.1 L199.9 376.1 L199.1 375.2 L197.9 375.7 L196.8 376.4 L195.7 377.1 L194.6 377.8 L193.4 378.3 L192.2 378.8 L190.9 379.1 L189.8 379.7 L188.5 380.1 L187.5 380.9 L187.0 382.1 L185.7 381.7 L184.6 382.3 L183.9 383.5 L184.0 384.8" fill="none" stroke="#b4b4b4" stroke-width="0.5" stroke-linejoin="round"/>
<path d="M127.9 400.7 L128.9 399.9 L129.8 399.0 L130.7 398.0 L131.3 396.9 L131.5 395.6 L131.9 394.4 L131.8 393.1 L131.2 391.9 L131.3 390.6 L131.7 389.3 L132.4 388.3 L133.5 387.5 L133.7 388.8 L133.1 390.0 L132.1 390.8 L130.8 391.1 L129.5 390.9 L128.3 390.6 L127.4 389.6 L126.5 388.7 L125.8 387.6 L125.4 386.4 L125.3 385.1 L125.5 383.8 L125.7 382.5 L125.6 381.2" fill="none" stroke="#b4b4b4" stroke-width="0.5" stroke-linejoin="round"/>
<path d="M199.8 370.6 L200.5 371.7 L201.0 372.9 L201.9 373.8 L203.2 374.3 L204.5 374.4 L205.7 374.0 L206.6 373.0 L207.0 371.8 L207.2 370.5 L207.5 369.2 L208.0 368.0 L208.3 366.8 L208.6 365.5 L209.2 364.4 L210.4 363.8 L211.6 363.4 L212.8 362.9 L214.0 362.4 L215.3 362.1 L216.6 362.0 L217.9 361.9 L219.1 361.8 L220.4 361.7 L221.7 362.0 L222.9 362.5 L222.9 363.8 L222.6 365.1" fill="none" stroke="#b4b4b4" stroke-width="0.5" stroke-linejoin="round"/>
<path d="M209.6 392.9 L208.3 392.9 L207.0 393.1 L205.7 393.4 L204.7 394.2 L204.0 395.3 L203.8 396.6 L204.0 397.9 L204.4 399.1 L205.4 400.0 L206.6 400.5 L207.8 400.8 L209.1 401.0 L209.3 399.7 L209.9 398.6 L210.4 397.4 L211.2 396.4 L212.1 395.4 L213.1 394.6 L214.1 393.7 L215.2 393.0 L216.5 393.1 L217.7 393.6 L218.6 394.5 L219.2 395.7 L220.3 396.4 L221.6 396.6 L222.6 397.4 L223.1 398.6 L223.0 399.9 L222.6 401.1" fill="none" stroke="#b4b4b4" stroke-width="0.5" stroke-linejoin="round"/>
<path d="M195.8 361.3 L195.9 360.0 L196.3 358.7 L196.8 357.5 L196.9 356.2 L195.6 356.0 L194.3 355.8 L193.0 355.7 L191.7 355.5 L190.5 355.2 L189.2 354.8 L188.0 354.3 L186.8 353.9 L185.6 353.4 L184.5 352.7 L183.3 352.2 L182.1 351.9 L180.8 351.5 L179.5 351.4 L178.2 351.2 L176.9 351.3 L175.6 351.3 L174.7 350.4 L173.5 349.8 L172.2 349.6 L171.0 349.9" fill="none" stroke="#b4b4b4" stroke-width="0.5" stroke-linejoin="round"/>
<path d="M195.6 353.0 L195.0 351.9 L194.3 350.8 L193.9 349.5 L193.7 348.3 L193.2 347.1 L192.8 345.8 L192.4 344.6 L192.1 343.3 L192.0 342.0 L191.8 340.8 L191.5 339.5" fill="none" stroke="#b4b4b4" stroke-width="0.5" stroke-linejoin="round"/>
<path d="M195.9 350.1 L197.2 350.3 L198.5 350.1 L199.8 349.9 L201.0 349.6 L202.3 349.2 L203.6 349.0 L204.7 348.4 L206.0 348.6 L207.2 349.2 L207.8 350.3 L208.3 351.6 L208.4 352.9 L208.2 354.2 L208.5 355.4 L208.8 356.7 L209.2 357.9 L209.6 359.2 L210.4 360.2 L211.2 361.2 L212.1 362.1 L211.1 363.0" fill="none" stroke="#b4b4b4" stroke-width="0.5" stroke-linejoin="round"/>
<path d="M213.8 397.0 L214.5 398.1 L214.9 399.3 L215.1 400.6 L215.2 401.9 L215.1 403.2 L215.2 404.5 L215.0 405.8 L214.3 406.9 L213.4 407.8 L212.3 408.4 L211.1 409.1 L210.0 409.8 L209.0 410.6 L208.4 411.7 L208.5 413.0 L208.9 414.3 L208.9 415.6" fill="none" stroke="#b4b4b4" stroke-width="0.5" stroke-linejoin="round"/>
<path d="M224.4 369.4 L225.2 370.5 L226.0 371.5 L226.7 372.5 L227.3 373.7 L227.1 375.0 L226.4 376.2 L227.7 376.5 L228.7 377.3 L229.4 378.4 L229.5 379.7 L229.5 381.0 L229.0 382.2 L228.0 383.0 L226.7 383.4 L225.4 383.2 L224.2 382.8 L222.9 383.1" fill="none" stroke="#b4b4b4" stroke-width="0.5" stroke-linejoin="round"/>
<path d="M192.1 386.2 L190.9 386.5 L189.6 386.9 L188.4 387.2 L187.2 387.8 L186.5 386.7 L185.6 385.7 L184.7 384.8 L184.0 383.7 L183.4 382.6 L183.1 381.3 L183.2 380.0 L183.1 378.7 L182.5 377.6 L181.4 376.8 L180.1 376.9 L179.0 377.5 L177.7 377.6 L176.5 377.2 L175.7 376.1 L175.4 374.9 L175.3 373.6 L175.8 372.3 L176.9 371.6 L178.2 371.5 L179.4 371.8 L180.2 372.9 L180.4 374.1 L180.9 375.3 L181.3 376.6 L181.5 377.9 L181.0 379.0 L180.0 379.9 L179.3 378.8" fill="none" stroke="#b4b4b4" stroke-width="0.5" stroke-linejoin="round"/>
<path d="M140.7 359.9 L142.0 359.8 L143.3 360.2 L144.4 360.9 L145.2 361.8 L145.6 363.1 L145.4 364.4 L145.5 365.7 L145.2 366.9 L144.5 368.0 L143.3 368.5 L142.1 368.9 L140.8 369.0 L139.5 369.0 L138.2 368.9 L136.9 369.1 L135.6 369.5 L134.4 370.0 L133.3 370.7 L132.3 371.5 L131.5 372.5 L130.5 373.4 L129.7 374.4 L128.9 375.4 L128.3 376.6 L127.5 377.6 L127.0 378.8 L126.2 379.8 L125.5 380.9" fill="none" stroke="#b4b4b4" stroke-width="0.5" stroke-linejoin="round"/>
<path d="M197.2 363.0 L197.9 361.9 L198.4 360.7 L198.4 359.4 L197.7 358.3 L196.6 357.6 L195.3 357.6 L194.2 358.3 L193.6 359.4 L193.6 360.7 L194.0 361.9 L194.6 363.1 L195.6 364.0 L196.8 364.3 L198.1 364.0 L199.2 363.3 L199.8 362.2 L199.9 360.9 L199.9 359.6 L199.2 358.5" fill="none" stroke="#b4b4b4" stroke-width="0.5" stroke-linejoin="round"/>
<path d="M233.6 387.1 L234.8 386.8 L236.1 386.3 L237.2 385.8 L238.4 385.2 L239.7 385.0 L240.9 385.4 L241.6 386.5 L241.7 387.8 L241.2 389.0 L240.3 389.9 L239.2 390.6 L237.9 390.8 L236.9 391.7 L235.7 392.1 L234.4 391.9 L233.3 391.2" fill="none" stroke="#b4b4b4" stroke-width="0.5" stroke-linejoin="round"/>
<path d="M172.8 386.5 L173.7 387.5 L174.3 388.6 L175.5 388.1 L176.8 387.7 L176.4 388.9 L176.0 390.1 L175.0 391.1 L174.1 392.0 L173.1 392.7 L171.8 393.2 L170.6 393.7 L169.4 393.8 L168.2 393.2 L167.1 392.6 L166.2 391.6 L165.6 390.4 L165.4 389.2 L166.7 388.8 L166.7 390.1 L166.7 391.4 L166.1 392.6 L165.3 393.6 L164.3 394.5 L163.1 395.0 L162.0 395.7 L160.7 395.9 L159.4 395.7 L158.2 395.4 L156.9 395.5 L155.7 396.1 L155.2 394.9 L155.3 393.6 L155.1 392.3 L154.6 391.1 L153.6 390.3 L153.1 389.1 L152.8 387.8 L152.0 386.8" fill="none" stroke="#b4b4b4" stroke-width="0.5" stroke-linejoin="round"/>
<path d="M199.4 396.6 L200.5 395.8 L201.7 395.7 L203.0 396.1 L203.7 397.1 L203.8 398.4 L203.2 399.6 L202.2 400.4 L201.0 401.0 L199.8 400.6 L199.0 399.6 L198.3 398.4 L198.2 397.1 L198.9 396.0 L200.1 395.5 L201.4 395.7 L202.4 396.5 L203.0 397.6 L202.7 398.9 L201.8 399.9 L200.7 400.4 L199.4 400.3 L198.4 399.4 L198.0 398.2 L198.2 396.9 L199.0 395.9 L200.2 395.3 L201.4 395.6 L202.2 396.7 L202.3 398.0 L201.9 399.2 L200.9 400.0 L199.7 400.4 L198.4 400.2" fill="none" stroke="#b4b4b4" stroke-width="0.5" stroke-linejoin="round"/>
<path d="M182.6 389.2 L183.4 388.2 L184.1 387.1 L184.6 385.9 L184.9 384.7 L183.7 384.3 L182.4 384.3 L181.1 384.6 L179.9 385.1 L178.6 385.2 L177.3 385.1 L176.0 384.9 L174.7 384.9 L175.2 386.1 L175.8 387.2 L176.8 388.1 L177.8 388.8 L179.1 389.0 L180.4 388.7 L181.5 388.0 L182.3 386.9 L182.7 385.7 L182.1 384.5" fill="none" stroke="#b4b4b4" stroke-width="0.5" stroke-linejoin="round"/>
<path d="M125.99 404.34 C124.89 403.04 123.99 401.21 123.40 399.10 C122.80 397.00 122.48 394.00 122.40 391.70 C122.32 389.41 122.65 387.42 122.90 385.33 C123.15 383.24 123.21 381.41 123.89 379.17 C124.57 376.93 125.62 375.02 126.98 371.87 C128.34 368.72 130.04 363.94 132.06 360.26 C134.09 356.58 136.24 352.93 139.13 349.78 C142.02 346.63 145.99 343.44 149.39 341.35 C152.80 339.26 156.02 338.20 159.55 337.24 C163.09 336.29 166.82 335.87 170.61 335.60 C174.39 335.33 178.38 335.31 182.26 335.60 C186.15 335.89 190.05 336.46 193.92 337.35 C197.78 338.24 201.60 339.33 205.47 340.94 C209.34 342.55 213.24 344.40 217.12 347.01 C221.01 349.61 225.29 353.36 228.78 356.56 C232.26 359.76 235.33 362.62 238.04 366.22 C240.75 369.82 243.35 374.27 245.01 378.14 C246.67 382.01 247.72 386.02 248.00 389.44 C248.28 392.87 247.49 396.21 246.71 398.69 C245.92 401.18 244.88 402.60 243.32 404.34 C241.76 406.09 239.67 407.89 237.34 409.17 C235.02 410.46 232.20 411.40 229.37 412.05 C226.55 412.70 222.73 412.86 220.41 413.08 C218.09 413.30 216.18 412.53 215.43 413.39 C214.68 414.24 216.13 416.54 215.93 418.22 C215.73 419.89 215.21 421.88 214.23 423.46 C213.25 425.03 211.93 426.61 210.05 427.67 C208.18 428.73 205.35 429.47 202.98 429.83 C200.61 430.19 198.02 430.15 195.81 429.83 C193.60 429.50 191.59 428.75 189.73 427.87 C187.87 427.00 186.35 425.94 184.65 424.59 C182.96 423.23 181.75 421.62 179.57 419.76 C177.40 417.89 174.43 415.15 171.60 413.39 C168.78 411.62 165.79 410.37 162.64 409.17 C159.49 407.97 156.00 406.91 152.68 406.19 C149.36 405.47 145.82 404.99 142.72 404.86 C139.61 404.72 136.18 405.03 134.05 405.37 C131.93 405.71 131.31 407.08 129.97 406.91 C128.63 406.74 127.08 405.65 125.99 404.34 Z" fill="none" stroke="#3a3a3a" stroke-width="0.75"/>
<path d="M129.97 406.91 C130.24 407.53 131.21 408.76 131.56 410.61 C131.91 412.46 131.65 415.56 132.06 418.01 C132.48 420.46 132.87 423.05 134.05 425.31 C135.23 427.57 136.93 429.64 139.13 431.57 C141.34 433.51 144.25 435.60 147.30 436.92 C150.36 438.24 154.57 438.97 157.46 439.49 C160.35 440.00 162.42 440.17 164.63 440.00 C166.84 439.83 168.85 439.50 170.71 438.46 C172.57 437.41 174.26 435.39 175.79 433.73 C177.31 432.07 178.51 430.24 179.87 428.49 C181.23 426.74 183.27 424.12 183.95 423.25" fill="none" stroke="#3a3a3a" stroke-width="0.75"/>
<path d="M166.62 413.80 C166.29 415.22 165.46 419.53 164.63 422.33 C163.80 425.12 162.49 427.94 161.64 430.55 C160.80 433.15 159.90 436.71 159.55 437.94" fill="none" stroke="#a8a8a8" stroke-width="0.45"/>
<path d="M173.80 425.31 C173.51 426.35 172.62 429.38 172.10 431.57 C171.59 433.77 170.94 437.31 170.71 438.46" fill="none" stroke="#a8a8a8" stroke-width="0.45"/>
<path d="M215.43 413.39 C215.10 412.14 214.43 408.16 213.44 405.89 C212.44 403.61 211.11 401.35 209.45 399.72 C207.79 398.09 204.47 396.72 203.48 396.12" fill="none" stroke="#a0a0a0" stroke-width="0.5"/>
<path d="M147.9 391.3h0M152.8 398.7h0M149.3 397.3h0M125.1 382.3h0M133.3 389.4h0M125.8 398.7h0M124.8 388.4h0M143.1 391.2h0M165.1 394.1h0M133.0 373.3h0M147.4 366.8h0M132.8 385.7h0M145.3 386.0h0M141.5 389.5h0M151.2 401.9h0M133.5 365.0h0M157.3 390.9h0M137.8 384.2h0M141.1 402.1h0M151.3 375.1h0M167.9 408.1h0M188.1 416.6h0M142.6 394.6h0M131.3 380.9h0M128.9 376.9h0M154.7 388.2h0M152.8 392.8h0M171.9 369.5h0M140.9 377.4h0M135.1 394.9h0M138.2 402.1h0M155.2 359.5h0M147.6 372.4h0M156.4 405.2h0M147.4 370.1h0M162.0 406.6h0M158.2 377.4h0M196.0 366.6h0M133.1 401.1h0M137.4 365.6h0M138.6 379.9h0M156.7 372.5h0M131.9 378.0h0M153.5 371.2h0M142.8 380.5h0M129.7 382.9h0M146.9 378.8h0M135.6 392.1h0M160.1 385.7h0M143.8 397.3h0M136.9 389.9h0M167.3 398.7h0M131.6 369.1h0M180.6 395.7h0M153.6 378.1h0M132.6 397.3h0M193.1 409.5h0M184.1 420.1h0" stroke="#3DA6AA" stroke-width="2.45" stroke-linecap="round" fill="none"/>
<path d="M185.6 358.1h0M155.3 347.2h0M165.3 349.9h0M179.2 410.4h0M214.6 358.7h0M233.0 374.6h0M212.0 415.3h0M155.3 340.8h0M217.9 374.0h0M205.7 412.2h0M198.8 415.8h0M140.2 355.1h0M192.1 343.0h0M181.5 407.8h0M202.8 408.9h0M196.5 342.4h0M185.6 418.1h0M199.6 341.9h0M212.1 354.0h0M193.0 407.0h0M149.5 389.3h0M186.6 384.4h0M165.4 385.8h0M176.4 363.1h0M205.3 372.8h0M205.7 423.6h0M207.4 408.4h0M183.1 412.2h0M188.8 344.8h0M179.8 359.5h0M209.7 363.2h0M201.2 357.8h0M144.1 357.5h0M163.0 340.5h0M216.8 406.1h0M190.5 418.0h0M231.8 362.3h0M172.7 362.0h0M195.1 391.8h0M192.6 363.4h0M142.0 352.9h0M234.2 379.1h0M212.4 365.7h0M212.3 410.3h0M219.2 353.5h0M211.8 368.4h0M191.4 355.1h0M210.9 396.8h0M174.7 347.3h0" stroke="#E6EE84" stroke-width="2.45" stroke-linecap="round" fill="none"/>
<path d="M237.9 397.2h0M168.1 391.1h0M212.6 350.7h0M201.0 364.6h0M180.5 391.3h0M207.6 373.4h0M204.7 393.8h0M163.5 391.4h0M190.7 341.1h0M221.6 393.9h0M230.9 368.6h0M206.4 365.4h0M192.4 421.9h0M218.5 366.3h0M220.8 363.4h0M238.1 384.4h0M209.4 352.4h0M204.4 379.9h0M196.7 373.0h0M233.4 382.8h0M226.0 408.8h0M189.2 365.8h0M205.2 409.5h0M214.6 347.7h0M210.4 386.1h0M195.6 361.2h0M204.6 396.1h0M225.3 376.5h0M215.9 380.0h0M183.6 392.9h0M166.7 376.2h0M234.7 372.7h0M224.0 390.9h0M202.0 345.8h0M202.2 392.5h0M221.6 380.1h0M220.4 370.0h0M209.1 345.5h0M157.8 385.8h0M215.7 352.9h0M234.2 392.0h0M184.5 343.7h0M154.8 362.9h0M190.5 394.4h0M175.8 414.5h0M201.1 395.5h0M176.6 398.2h0M154.8 401.0h0M175.6 390.9h0M219.0 405.3h0M152.0 358.3h0M161.2 374.2h0M130.4 386.9h0M208.8 388.3h0M160.8 364.0h0M211.6 347.5h0M184.0 400.6h0M222.3 355.7h0M174.9 368.7h0M228.9 408.4h0M198.5 364.7h0M228.4 376.8h0M199.3 390.2h0M206.0 368.8h0M145.0 377.4h0M211.8 373.3h0M162.8 361.5h0M202.7 387.7h0M196.3 386.1h0M228.2 403.5h0M225.4 404.2h0M235.3 375.4h0M241.0 376.8h0M189.7 401.4h0M171.7 366.5h0M238.0 375.0h0M237.4 401.0h0M197.0 403.6h0M145.7 363.9h0M219.2 360.2h0M196.9 424.8h0M140.9 397.8h0M209.0 376.0h0M209.3 395.0h0M216.0 364.6h0M238.8 389.0h0M203.0 365.8h0M179.2 385.0h0" stroke="#F5A548" stroke-width="2.45" stroke-linecap="round" fill="none"/>
<path d="M148.0 357.4h0M170.7 385.7h0M173.9 364.2h0M171.5 381.8h0M160.2 354.7h0M154.2 375.6h0M167.7 350.0h0M135.2 369.4h0M174.2 356.1h0M156.2 394.4h0M165.0 344.6h0M194.5 345.5h0M163.8 368.5h0M170.3 349.3h0M189.3 380.8h0M160.2 402.6h0M169.1 375.7h0M180.4 342.2h0M178.2 344.1h0M170.4 339.3h0M198.1 393.6h0M197.8 350.0h0M156.9 356.7h0M183.3 350.0h0M170.2 359.1h0M200.2 360.6h0M179.9 339.7h0M161.6 351.8h0M154.0 366.0h0M178.6 361.5h0M185.6 362.8h0M178.6 376.2h0M201.3 354.3h0M185.2 340.1h0M195.4 353.5h0M182.3 339.4h0M195.1 369.8h0M158.3 345.3h0M160.2 383.3h0M157.8 399.7h0M168.4 394.4h0M182.6 382.3h0M184.6 385.7h0M187.2 391.9h0M147.2 360.3h0M191.5 396.4h0M187.6 338.6h0M152.3 367.6h0M170.3 355.5h0M182.9 353.6h0M191.0 372.8h0M184.0 368.7h0M175.4 408.0h0M202.7 349.3h0M156.8 343.4h0" stroke="#86D79C" stroke-width="2.45" stroke-linecap="round" fill="none"/>
<path d="M180.9 355.3h0M193.5 350.9h0M226.8 372.8h0M183.0 377.4h0M195.9 407.4h0M176.0 371.3h0M187.5 408.4h0M176.8 354.5h0M186.1 370.5h0M229.0 395.0h0M150.5 364.5h0M195.4 394.4h0M138.7 361.0h0M146.1 351.8h0M172.9 345.2h0M174.3 384.0h0M178.7 364.9h0M190.3 405.2h0M186.3 349.0h0M167.6 357.2h0M180.8 399.9h0M165.7 363.4h0M184.2 372.2h0M179.4 414.8h0M172.5 372.3h0M169.5 345.8h0M229.5 384.7h0M200.9 406.4h0M187.9 423.1h0M201.8 421.1h0M141.0 360.0h0M224.0 381.4h0M152.7 355.1h0M193.1 379.7h0M163.8 404.3h0M199.0 405.1h0M208.5 416.7h0M171.6 403.1h0M158.7 360.4h0M198.2 383.3h0" stroke="#BCE89B" stroke-width="2.45" stroke-linecap="round" fill="none"/>
<path d="M197.4 400.4h0M192.3 401.9h0M186.1 403.4h0M214.7 407.7h0M190.7 408.0h0M181.4 416.3h0M180.8 404.0h0M193.9 424.1h0M198.4 427.1h0" stroke="#EEF29A" stroke-width="2.45" stroke-linecap="round" fill="none"/>
<path d="M211.7 377.0h0M208.6 348.4h0M189.7 358.8h0M227.9 390.5h0M242.1 394.4h0M224.2 360.4h0M180.7 373.8h0M225.4 385.3h0M232.8 377.1h0M171.6 406.6h0M245.4 387.5h0M234.9 405.4h0M222.9 399.7h0M215.0 376.1h0M227.9 363.3h0M204.7 355.0h0M171.6 388.8h0M212.7 384.8h0M216.3 389.2h0M231.0 382.4h0M163.4 370.9h0M214.9 397.1h0M233.0 364.4h0M203.8 360.6h0M202.4 384.0h0M201.6 375.9h0M160.6 371.9h0M189.2 397.9h0M228.1 398.7h0M217.0 358.7h0M161.0 389.6h0" stroke="#E8593A" stroke-width="2.45" stroke-linecap="round" fill="none"/>
<path d="M173.10 342.40 L175.00 408.50" stroke="#8E1B30" stroke-width="1.45" fill="none" stroke-linecap="round"/>
<path d="M150.40 366.20 L169.59 346.13" stroke="#BC1F29" stroke-width="1.45" fill="none" stroke-linecap="round"/><path d="M172.20 343.40 L170.28 349.03 L166.66 345.58 Z" fill="#BC1F29"/>
<path d="M199.70 390.00 L158.79 352.55" stroke="#BC1F29" stroke-width="1.45" fill="none" stroke-linecap="round"/><path d="M156.00 350.00 L161.67 351.80 L158.30 355.49 Z" fill="#BC1F29"/>
<path d="M173.10 364.30 L194.00 346.20" stroke="#BC1F29" stroke-width="1.45" fill="none" stroke-linecap="round"/>
<path d="M199.70 348.10 L219.99 357.86" stroke="#BC1F29" stroke-width="1.45" fill="none" stroke-linecap="round"/><path d="M223.40 359.50 L217.45 359.41 L219.62 354.91 Z" fill="#BC1F29"/>
<path d="M195.90 390.00 L204.46 356.56" stroke="#2A5BAA" stroke-width="1.45" fill="none" stroke-linecap="round"/><path d="M205.40 352.90 L206.48 358.75 L201.64 357.51 Z" fill="#2A5BAA"/>
<path d="M197.80 385.70 L190.20 414.20" stroke="#2A5BAA" stroke-width="1.45" fill="none" stroke-linecap="round"/>
<path d="M201.60 368.00 L236.70 370.90" stroke="#BC1F29" stroke-width="1.45" fill="none" stroke-linecap="round"/>
<path d="M173.10 364.30 L139.24 386.90" stroke="#BC1F29" stroke-width="1.45" fill="none" stroke-linecap="round"/><path d="M136.10 389.00 L139.20 383.92 L141.98 388.08 Z" fill="#BC1F29"/>
<path d="M175.00 365.20 L207.30 390.00" stroke="#BC1F29" stroke-width="1.45" fill="none" stroke-linecap="round"/>
<path d="M148.50 380.00 L137.26 388.18" stroke="#BC1F29" stroke-width="1.45" fill="none" stroke-linecap="round"/><path d="M134.20 390.40 L137.10 385.20 L140.04 389.25 Z" fill="#BC1F29"/>
<path d="M177.00 380.00 L179.75 390.54" stroke="#BC1F29" stroke-width="1.45" fill="none" stroke-linecap="round"/><path d="M180.70 394.20 L176.92 389.60 L181.76 388.34 Z" fill="#BC1F29"/>
<path d="M156.00 391.40 L207.44 404.66" stroke="#2A5BAA" stroke-width="1.45" fill="none" stroke-linecap="round"/><path d="M211.10 405.60 L205.25 406.67 L206.49 401.83 Z" fill="#2A5BAA"/>
<path d="M195.90 380.00 L223.40 400.90" stroke="#BC1F29" stroke-width="1.45" fill="none" stroke-linecap="round"/>
<path d="M310.8 368.3 L309.6 368.7 L308.3 368.8 L308.8 370.1 L310.1 369.8 L311.4 369.7 L312.6 370.0 L313.8 370.6 L314.7 371.6 L315.1 372.8 L315.2 374.1 L314.7 375.3 L313.9 376.3 L313.2 377.4 L312.2 378.2 L311.3 379.1 L310.6 380.2 L310.2 381.4 L310.3 382.7 L310.6 384.0 L311.3 385.1 L312.3 385.9 L313.5 386.4 L314.7 386.8 L316.0 387.1 L317.3 387.0 L318.5 386.6 L319.6 385.9 L320.3 384.8 L320.6 383.5 L320.4 382.2 L320.1 381.0" fill="none" stroke="#b4b4b4" stroke-width="0.5" stroke-linejoin="round"/>
<path d="M285.5 412.4 L284.4 413.0 L283.5 413.9 L282.7 414.9 L282.1 416.1 L281.8 417.4 L281.7 418.7 L281.7 420.0 L281.8 421.3 L282.1 422.5 L282.5 423.7 L282.9 425.0 L283.4 426.2 L284.1 427.3 L285.0 428.2 L286.2 428.7 L287.0 429.7 L287.5 430.9 L288.0 432.1 L288.8 433.2" fill="none" stroke="#b4b4b4" stroke-width="0.5" stroke-linejoin="round"/>
<path d="M263.1 391.4 L264.4 391.1 L265.7 391.0 L267.0 391.1 L268.2 391.5 L269.3 392.3 L270.4 393.0 L271.1 394.1 L271.4 395.3 L271.5 396.6 L271.7 397.9 L272.0 399.2 L271.9 400.5 L271.9 401.8 L271.5 403.0 L270.8 404.1" fill="none" stroke="#b4b4b4" stroke-width="0.5" stroke-linejoin="round"/>
<path d="M331.8 351.9 L331.8 353.2 L332.1 354.5 L332.8 355.5 L333.8 356.4 L335.0 356.9 L336.3 356.7 L337.4 356.1 L338.5 355.3 L339.0 354.1 L339.4 352.9 L339.0 351.6 L338.1 350.7 L336.9 350.4 L335.6 350.6 L334.4 351.0 L333.1 350.8 L331.9 350.2 L331.1 349.2 L330.6 348.0 L331.0 346.7 L331.6 345.6 L332.7 344.9 L333.2 343.7 L333.4 342.4 L333.2 341.1" fill="none" stroke="#b4b4b4" stroke-width="0.5" stroke-linejoin="round"/>
<path d="M323.5 432.5 L323.9 431.2 L324.1 429.9 L324.3 428.7 L324.4 427.4 L324.6 426.1 L324.9 424.8 L325.0 423.5 L325.2 422.3 L325.7 421.0 L325.7 419.7 L325.8 418.4 L325.9 417.1 L326.3 415.9 L326.4 414.6 L326.8 413.3 L327.3 412.1 L327.7 410.9 L328.4 409.8 L329.5 409.2 L330.8 409.5 L331.8 410.4 L332.6 411.4 L333.8 411.7 L334.0 410.4 L333.6 409.2 L333.0 408.1 L331.8 407.5 L330.5 407.9 L329.7 408.9 L329.4 410.1 L329.8 411.4 L330.2 412.6 L330.9 413.7 L331.6 414.8 L332.5 415.7 L333.6 416.4 L334.6 417.2 L335.7 417.9" fill="none" stroke="#b4b4b4" stroke-width="0.5" stroke-linejoin="round"/>
<path d="M348.4 422.8 L348.3 421.5 L347.9 420.3 L347.1 419.3 L345.9 418.7 L344.6 418.8 L343.3 419.1 L342.2 419.8 L341.5 420.9 L341.3 422.2 L341.5 423.4 L341.8 424.7 L342.5 425.8 L342.9 424.5 L342.9 423.2 L342.9 421.9 L342.5 420.7 L341.7 419.7" fill="none" stroke="#b4b4b4" stroke-width="0.5" stroke-linejoin="round"/>
<path d="M309.4 360.4 L310.6 359.7 L311.7 359.0 L312.7 358.3 L313.4 357.2 L314.0 356.0 L314.5 354.8 L315.0 353.6 L315.3 352.3 L315.3 351.0 L314.9 349.8 L314.9 348.5 L314.8 347.2 L314.5 345.9 L314.0 344.7 L313.3 343.6 L312.2 342.9 L310.9 342.6 L309.7 342.4 L308.4 342.4 L307.1 342.6 L305.8 343.0 L304.6 343.4 L303.3 343.7 L302.8 342.5 L302.1 341.4 L301.5 340.2 L301.1 339.0 L300.2 338.0 L299.4 337.0 L298.5 336.1 L297.3 335.5" fill="none" stroke="#b4b4b4" stroke-width="0.5" stroke-linejoin="round"/>
<path d="M301.8 395.8 L303.0 396.0 L304.3 396.0 L305.6 396.1 L306.9 396.0 L308.2 395.8 L309.5 395.6 L310.8 395.5 L312.1 395.3 L311.2 394.4 L310.5 393.3 L309.8 392.2 L309.2 391.0 L308.7 389.8 L308.4 388.6 L308.0 387.3 L307.8 386.0 L307.5 384.8 L307.4 383.5 L307.4 382.2 L307.8 380.9 L309.0 381.3" fill="none" stroke="#b4b4b4" stroke-width="0.5" stroke-linejoin="round"/>
<path d="M266.8 390.4 L267.6 391.4 L268.4 392.5 L269.3 393.4 L270.3 394.3 L271.3 395.1 L272.4 395.8 L273.6 396.2 L274.9 396.2 L276.1 395.6 L277.1 394.8 L277.7 393.7 L278.0 392.4 L278.0 391.1 L277.7 389.9 L277.4 388.6 L276.7 387.5 L275.6 386.7" fill="none" stroke="#b4b4b4" stroke-width="0.5" stroke-linejoin="round"/>
<path d="M314.3 367.5 L314.4 366.2 L314.6 365.0 L314.9 363.7 L315.0 362.4 L314.9 361.1 L315.1 359.8 L315.3 358.5 L315.3 357.2 L315.1 355.9 L315.3 354.7 L316.0 353.6 L317.2 353.0 L318.5 352.9 L319.6 353.5 L320.7 354.2 L321.4 355.3 L321.4 356.6 L321.0 357.8" fill="none" stroke="#b4b4b4" stroke-width="0.5" stroke-linejoin="round"/>
<path d="M306.4 401.7 L305.4 402.5 L304.2 402.8 L302.9 403.0 L301.6 402.8 L300.3 402.5 L299.2 401.7 L298.2 400.9 L297.9 399.7 L297.8 398.4 L297.8 397.1 L298.4 395.9 L299.4 395.1 L300.5 394.4 L301.8 394.2 L303.1 394.2 L304.4 394.3 L305.7 394.2 L306.8 393.6 L307.8 392.7 L308.8 391.9 L309.8 391.1 L310.4 389.9" fill="none" stroke="#b4b4b4" stroke-width="0.5" stroke-linejoin="round"/>
<path d="M305.7 420.3 L305.0 419.2 L304.6 418.0 L304.1 416.8 L304.0 415.5 L303.9 414.2 L304.3 412.9 L304.3 411.6 L304.4 410.3 L304.6 409.0 L305.0 407.8 L305.2 406.5 L305.3 405.2 L305.2 403.9 L303.9 403.8 L302.6 404.1 L301.3 404.3 L300.0 404.4 L298.8 404.7 L297.5 405.1 L296.3 404.7 L295.3 403.9 L294.7 402.7" fill="none" stroke="#b4b4b4" stroke-width="0.5" stroke-linejoin="round"/>
<path d="M270.4 360.1 L271.7 359.8 L272.9 359.3 L274.1 358.9 L275.3 358.4 L276.3 357.5 L275.0 357.1 L273.8 356.8 L272.5 356.6 L271.2 356.5 L271.1 357.8 L270.8 359.0 L270.7 360.3 L270.3 361.6 L269.4 362.5 L268.4 363.4 L267.2 363.8" fill="none" stroke="#b4b4b4" stroke-width="0.5" stroke-linejoin="round"/>
<path d="M313.6 426.0 L312.3 426.0 L311.0 425.8 L309.7 425.6 L308.4 425.3 L307.2 424.9 L305.9 424.6 L304.6 424.5 L303.4 424.3 L302.1 424.0 L300.9 423.6 L299.7 423.0 L298.4 422.9 L297.1 422.8 L295.9 422.4 L294.7 421.8 L293.5 421.4 L292.2 420.9 L291.1 420.3 L290.1 419.4 L289.7 418.2 L289.9 416.9 L290.4 415.7" fill="none" stroke="#b4b4b4" stroke-width="0.5" stroke-linejoin="round"/>
<path d="M336.2 361.1 L336.6 359.9 L337.0 358.6 L337.0 357.3 L338.3 357.6 L339.6 357.6 L340.9 357.4 L342.0 356.8 L342.8 355.8 L343.3 354.5 L343.7 353.3 L343.7 352.0 L343.3 350.8 L342.5 349.8 L341.3 349.2 L340.0 349.2 L338.7 349.3 L337.4 349.2 L336.2 349.0" fill="none" stroke="#b4b4b4" stroke-width="0.5" stroke-linejoin="round"/>
<path d="M278.1 396.0 L279.0 396.9 L279.8 397.9 L280.6 399.0 L281.2 400.1 L281.7 401.3 L282.0 402.6 L282.2 403.9 L282.3 405.2 L282.3 406.5 L282.1 407.7 L281.8 409.0 L281.3 410.2 L280.6 411.3 L280.1 412.5 L279.5 413.7 L278.8 414.8 L278.1 415.8 L277.4 417.0 L276.9 418.1 L276.6 419.4 L276.3 420.7 L277.6 420.5 L278.9 420.4 L280.2 420.1 L281.3 419.4 L282.4 418.7 L283.4 417.8 L284.5 417.1 L285.3 416.2 L286.1 415.1 L286.9 414.1 L287.9 413.2 L289.0 412.6 L290.3 412.5 L291.6 412.7 L292.8 412.9 L294.1 413.1" fill="none" stroke="#b4b4b4" stroke-width="0.5" stroke-linejoin="round"/>
<path d="M294.2 341.2 L295.3 340.6 L296.6 340.3 L295.9 341.4 L295.4 342.6 L295.2 343.9 L295.3 345.2 L296.0 346.3 L297.0 347.1 L298.2 347.6 L299.5 347.4 L300.7 346.9 L301.6 346.0 L302.1 344.8 L302.0 343.5 L301.4 342.4 L300.4 341.5 L299.3 340.9 L298.1 340.4 L296.8 340.5 L295.6 341.0 L294.5 341.8 L295.4 342.7 L296.6 343.4 L295.7 344.4 L295.2 345.6" fill="none" stroke="#b4b4b4" stroke-width="0.5" stroke-linejoin="round"/>
<path d="M308.2 420.5 L307.0 420.1 L306.0 419.3 L305.4 418.1 L305.2 416.8 L304.2 415.9 L303.0 415.6 L301.7 415.5 L300.4 415.9 L299.3 416.6 L298.5 417.6 L297.9 418.7 L297.6 420.0 L297.8 421.3 L298.5 422.4 L299.0 423.6 L299.0 424.9 L298.8 426.2 L298.0 427.2 L296.9 428.0 L295.8 428.5 L294.5 428.7 L293.2 428.8 L292.0 428.4 L291.2 427.3 L291.0 426.1 L291.2 424.8" fill="none" stroke="#b4b4b4" stroke-width="0.5" stroke-linejoin="round"/>
<path d="M274.8 396.8 L274.8 398.1 L275.1 399.3 L275.6 400.5 L276.4 401.6 L277.4 402.4 L277.9 401.1 L277.7 399.8 L277.5 398.6 L277.0 397.4 L276.1 396.4 L275.2 395.5 L274.1 394.7 L273.1 393.9 L272.3 392.9 L271.3 392.0 L270.5 391.0 L269.7 390.1 L268.7 389.1 L267.9 388.1 L267.1 387.2 L266.1 386.2 L265.1 385.4 L264.0 384.8 L262.7 384.4 L261.5 384.2 L260.2 384.3" fill="none" stroke="#b4b4b4" stroke-width="0.5" stroke-linejoin="round"/>
<path d="M304.5 445.0 L304.7 443.7 L305.0 442.4 L305.2 441.1 L305.7 439.9 L306.2 438.7 L306.4 437.4 L306.5 436.1 L306.4 434.8 L306.7 433.6 L307.2 432.4 L307.9 431.3 L308.3 430.1 L309.3 429.1 L310.1 428.2 L310.8 427.1 L311.5 426.0 L312.3 425.0 L313.6 424.7 L314.9 424.9 L316.1 425.4 L317.1 426.3 L318.1 427.1 L318.9 428.1 L319.0 429.4 L318.7 430.7 L317.9 431.7 L316.8 432.4" fill="none" stroke="#b4b4b4" stroke-width="0.5" stroke-linejoin="round"/>
<path d="M291.4 361.7 L290.3 361.0 L289.3 360.1 L288.3 359.3 L288.8 358.1 L289.7 357.1 L290.9 356.6 L292.1 356.0 L293.3 355.6 L294.5 355.2 L295.8 355.2 L297.1 355.3 L298.4 355.5 L299.6 356.1 L300.6 356.9 L301.6 357.6 L302.9 357.6 L304.1 357.0 L304.8 355.9 L306.1 355.9 L307.1 355.1 L307.7 353.9 L307.5 352.6 L306.9 351.5 L307.9 350.8 L308.8 349.8 L309.3 348.6" fill="none" stroke="#b4b4b4" stroke-width="0.5" stroke-linejoin="round"/>
<path d="M284.8 374.1 L284.8 372.8 L284.8 371.5 L283.7 372.2 L282.8 373.1 L281.8 373.9 L280.6 374.4 L279.4 374.8 L280.0 375.9 L280.4 377.2 L280.6 378.5 L280.7 379.8 L280.5 381.1 L280.3 382.3 L280.0 383.6 L279.6 384.8 L278.9 385.9 L278.3 387.1 L277.5 388.2 L276.7 389.1 L275.7 389.9 L274.5 390.6 L273.3 391.1 L272.2 391.6 L272.4 392.9 L272.3 394.2 L272.4 395.5 L272.4 396.8 L272.3 398.1 L272.0 399.4 L271.5 400.6 L270.6 401.5 L269.7 402.5 L268.6 403.1 L267.3 403.2" fill="none" stroke="#b4b4b4" stroke-width="0.5" stroke-linejoin="round"/>
<path d="M286.8 354.1 L286.5 352.9 L286.2 351.6 L286.2 350.3 L286.4 349.0 L287.0 347.9 L287.2 346.6 L286.8 345.3 L285.9 344.4 L284.7 343.9 L283.4 344.0 L282.3 344.6 L281.4 345.6 L280.7 346.6 L280.0 347.7 L278.8 347.3 L277.5 346.9" fill="none" stroke="#b4b4b4" stroke-width="0.5" stroke-linejoin="round"/>
<path d="M276.2 362.8 L275.5 363.9 L274.7 365.0 L275.4 366.1 L275.8 367.3 L275.8 368.6 L275.5 369.9 L275.4 371.2 L275.0 372.4 L273.7 372.3 L272.5 372.8 L271.3 373.3 L270.2 373.9 L269.0 374.4 L267.7 374.7 L266.5 375.0 L265.2 375.5 L265.2 374.2 L264.7 373.0 L264.2 371.8 L263.6 370.7 L262.7 369.7" fill="none" stroke="#b4b4b4" stroke-width="0.5" stroke-linejoin="round"/>
<path d="M322.7 375.5 L321.7 374.7 L320.6 374.0 L319.3 374.4 L318.4 375.3 L317.2 375.9 L316.0 376.2 L314.7 376.0 L313.7 375.2 L313.0 374.1 L312.6 372.9 L312.8 371.6 L313.4 370.4 L314.1 369.4 L315.3 368.8 L316.2 367.8 L316.3 366.5 L315.9 365.3 L315.1 364.3 L313.9 363.7 L312.6 363.8 L311.5 364.5 L310.8 365.6 L310.8 366.9" fill="none" stroke="#b4b4b4" stroke-width="0.5" stroke-linejoin="round"/>
<path d="M265.6 366.1 L266.2 364.9 L266.9 363.8 L267.9 363.1 L269.2 362.9 L270.4 363.4 L269.7 364.4 L268.6 365.2 L267.3 365.4 L266.0 365.3 L264.9 364.7 L264.1 363.6" fill="none" stroke="#b4b4b4" stroke-width="0.5" stroke-linejoin="round"/>
<path d="M291.1 347.3 L290.8 348.5 L290.5 349.8 L291.1 351.0 L292.1 351.8 L293.4 351.6 L294.6 351.8 L295.6 352.6 L296.3 353.7 L296.9 354.9 L297.1 356.2 L297.0 357.5 L296.4 358.6 L295.7 359.7 L295.0 358.6 L294.2 357.6 L293.5 356.5 L293.2 355.2 L293.3 354.0 L292.2 353.3 L291.0 352.6 L290.5 351.5 L290.4 350.2 L290.7 348.9 L291.1 347.7 L291.8 346.6 L292.8 345.7 L294.0 345.3 L295.3 345.3 L295.6 344.0 L296.2 342.8 L297.2 342.0 L298.4 341.5 L298.3 340.2 L298.6 338.9 L299.4 337.9 L300.6 337.5 L301.9 337.2 L303.2 337.4 L304.3 338.0" fill="none" stroke="#b4b4b4" stroke-width="0.5" stroke-linejoin="round"/>
<path d="M338.5 411.5 L339.6 411.0 L340.8 410.4 L341.9 409.8 L343.1 409.1 L344.2 408.4 L345.3 407.7 L346.5 407.3 L347.8 407.0 L349.0 407.3 L350.0 408.1 L351.3 407.7 L352.6 407.9" fill="none" stroke="#b4b4b4" stroke-width="0.5" stroke-linejoin="round"/>
<path d="M275.3 362.3 L274.6 361.3 L273.5 360.5 L272.6 359.6 L271.5 358.8 L270.4 358.1 L269.4 357.4 L268.2 356.8 L267.2 356.0" fill="none" stroke="#b4b4b4" stroke-width="0.5" stroke-linejoin="round"/>
<path d="M271.5 375.6 L270.6 376.6 L270.3 377.9 L270.3 379.2 L270.5 380.5 L271.0 381.7 L271.7 382.7 L272.9 383.3 L274.2 383.5 L275.5 383.1 L276.5 382.3 L277.0 381.2 L277.1 379.9 L276.8 378.6 L275.9 377.7 L275.1 378.6 L274.0 379.4 L272.7 379.6 L271.6 379.1 L270.7 378.1 L270.2 376.9 L270.3 375.6 L270.7 374.4 L269.9 373.4 L269.4 372.2 L269.6 370.9 L270.2 369.8 L271.0 368.8 L272.0 367.8 L273.2 367.4 L274.5 367.3 L275.6 367.8" fill="none" stroke="#b4b4b4" stroke-width="0.5" stroke-linejoin="round"/>
<path d="M269.0 392.4 L269.5 391.2 L269.7 389.9 L269.4 388.7 L268.9 387.4 L268.3 386.3 L268.0 385.0 L267.5 383.8 L267.0 382.6 L266.4 381.5 L265.7 380.4 L265.1 379.2 L264.1 379.9 L262.8 380.2 L261.5 380.0 L260.2 379.8" fill="none" stroke="#b4b4b4" stroke-width="0.5" stroke-linejoin="round"/>
<path d="M340.6 430.1 L340.1 431.3 L339.5 432.5 L338.8 433.6 L338.1 434.7 L337.2 435.6 L336.4 436.6 L335.6 437.6 L335.1 438.8" fill="none" stroke="#b4b4b4" stroke-width="0.5" stroke-linejoin="round"/>
<path d="M329.7 336.2 L328.6 335.5 L327.4 334.9 L326.1 335.0 L324.8 335.0 L323.5 335.3 L322.5 336.0 L321.7 337.1 L321.2 338.3 L321.4 339.6 L321.9 340.8 L322.5 341.9 L323.3 342.9 L324.4 343.7 L325.6 344.1 L326.9 344.3 L328.2 344.2 L329.3 343.6 L330.5 343.1 L331.8 342.9 L331.6 341.6 L330.8 340.6 L329.5 340.3 L329.7 339.0 L329.3 337.8 L328.4 336.9 L327.3 336.2 L326.1 335.8 L326.7 336.9 L327.7 337.8 L328.9 338.2 L330.2 338.1 L331.3 337.4 L332.0 336.3 L332.1 335.0 L331.5 333.9 L330.6 332.9" fill="none" stroke="#b4b4b4" stroke-width="0.5" stroke-linejoin="round"/>
<path d="M340.7 405.6 L342.0 405.2 L343.2 404.8 L344.4 404.5 L345.7 404.3 L347.0 404.2 L348.3 404.1 L349.6 404.0 L350.9 403.9 L352.2 403.6 L353.4 403.2" fill="none" stroke="#b4b4b4" stroke-width="0.5" stroke-linejoin="round"/>
<path d="M283.9 378.5 L284.4 379.7 L284.7 381.0 L285.2 382.1 L286.0 383.2 L286.7 384.3 L287.4 385.4 L288.3 386.3 L289.3 387.2 L290.4 387.9 L291.5 388.5 L292.5 389.3 L293.5 390.1 L294.6 390.9 L295.6 391.8 L296.4 392.8" fill="none" stroke="#b4b4b4" stroke-width="0.5" stroke-linejoin="round"/>
<path d="M297.1 406.8 L295.8 406.4 L294.5 406.6 L293.2 406.9 L292.0 407.4 L291.0 408.2 L290.2 409.2 L289.6 410.3 L290.9 410.1 L292.1 409.6 L293.3 409.2 L294.4 408.5 L295.3 407.6 L294.4 406.6 L293.3 406.0" fill="none" stroke="#b4b4b4" stroke-width="0.5" stroke-linejoin="round"/>
<path d="M343.0 371.1 L342.1 370.2 L341.0 369.5 L339.9 368.8 L338.7 368.3 L338.7 369.6 L338.6 370.9 L338.5 372.2 L338.5 373.5 L338.7 374.8 L339.0 376.1 L339.4 377.3 L340.2 378.4 L340.8 379.5 L341.6 380.5 L342.6 381.4 L343.6 382.2 L344.6 383.0 L345.6 383.9 L346.7 384.6 L347.7 385.4 L348.6 386.4" fill="none" stroke="#b4b4b4" stroke-width="0.5" stroke-linejoin="round"/>
<path d="M279.1 382.3 L277.8 381.9 L276.6 381.4 L275.3 381.2 L274.1 380.9 L272.8 381.1 L271.6 381.5 L270.3 381.6 L269.0 381.6 L267.7 381.8 L266.4 382.1 L265.2 382.6 L263.9 382.9 L262.6 382.8 L261.4 382.4 L260.1 382.2" fill="none" stroke="#b4b4b4" stroke-width="0.5" stroke-linejoin="round"/>
<path d="M307.00 326.66 C305.30 326.66 303.68 325.57 301.90 325.31 C300.11 325.05 298.41 324.91 296.29 325.10 C294.16 325.29 291.52 325.62 289.14 326.45 C286.76 327.28 284.23 328.71 282.00 330.07 C279.77 331.43 277.71 332.66 275.78 334.62 C273.84 336.59 272.00 339.14 270.37 341.86 C268.73 344.59 267.31 347.79 265.98 350.97 C264.65 354.14 263.46 357.59 262.41 360.90 C261.35 364.21 260.40 367.21 259.65 370.83 C258.90 374.45 258.33 379.16 257.92 382.62 C257.51 386.09 257.29 388.60 257.20 391.62 C257.12 394.64 257.14 397.71 257.41 400.72 C257.68 403.74 258.16 406.71 258.84 409.72 C259.52 412.74 260.30 415.81 261.49 418.83 C262.68 421.84 264.19 424.97 265.98 427.83 C267.77 430.69 269.82 433.43 272.20 436.00 C274.59 438.57 277.44 441.12 280.27 443.24 C283.09 445.36 286.17 447.43 289.14 448.72 C292.12 450.02 295.74 450.69 298.12 451.00 C300.50 451.31 301.95 450.90 303.43 450.59 C304.91 450.28 305.81 449.14 307.00 449.14 C308.19 449.14 309.09 450.28 310.57 450.59 C312.05 450.90 313.50 451.31 315.88 451.00 C318.26 450.69 321.88 450.02 324.86 448.72 C327.83 447.43 330.91 445.36 333.73 443.24 C336.56 441.12 339.41 438.57 341.80 436.00 C344.18 433.43 346.23 430.69 348.02 427.83 C349.81 424.97 351.32 421.84 352.51 418.83 C353.70 415.81 354.48 412.74 355.16 409.72 C355.84 406.71 356.32 403.74 356.59 400.72 C356.86 397.71 356.88 394.64 356.80 391.62 C356.71 388.60 356.49 386.09 356.08 382.62 C355.67 379.16 355.10 374.45 354.35 370.83 C353.60 367.21 352.65 364.21 351.59 360.90 C350.54 357.59 349.35 354.14 348.02 350.97 C346.69 347.79 345.27 344.59 343.63 341.86 C342.00 339.14 340.16 336.59 338.22 334.62 C336.29 332.66 334.23 331.43 332.00 330.07 C329.77 328.71 327.24 327.28 324.86 326.45 C322.48 325.62 319.84 325.29 317.71 325.10 C315.59 324.91 313.89 325.05 312.10 325.31 C310.32 325.57 308.70 326.66 307.00 326.66 Z" fill="none" stroke="#3a3a3a" stroke-width="0.75"/>
<path d="M305.1 327.3 L305.0 360.6 L305.1 412.3 L305.5 449.3 L309.1 449.3 L308.9 412.3 L308.7 360.6 L308.7 327.3 Z" fill="#f3f3f3" stroke="none"/>
<path d="M305.06 327.28 C305.04 332.83 304.96 346.41 304.96 360.59 C304.96 374.76 304.98 397.52 305.06 412.31 C305.15 427.10 305.40 443.17 305.47 449.34" fill="none" stroke="#8a8a8a" stroke-width="0.55"/>
<path d="M308.73 327.28 C308.73 332.83 308.70 346.41 308.73 360.59 C308.77 374.76 308.87 397.52 308.94 412.31 C309.01 427.10 309.11 443.17 309.14 449.34" fill="none" stroke="#8a8a8a" stroke-width="0.55"/>
<path d="M282.8 410.2h0M296.0 377.1h0M280.4 419.3h0M263.1 366.0h0M262.2 371.7h0M334.9 406.4h0M295.6 403.6h0M330.8 361.5h0M267.4 404.3h0M307.8 347.2h0M329.1 355.9h0M314.1 353.9h0M310.5 431.6h0M350.3 402.0h0M313.1 361.9h0M281.0 440.5h0M287.5 331.7h0M283.2 424.5h0M325.0 421.4h0M331.6 336.5h0M313.8 445.6h0M301.2 339.2h0M279.6 335.8h0M299.9 405.1h0M310.8 352.9h0M289.1 445.2h0M287.8 433.7h0M268.5 364.4h0M301.2 329.3h0M262.5 399.2h0M302.7 447.5h0M263.3 377.2h0M261.0 408.0h0M283.6 369.3h0M264.6 371.6h0M281.0 354.6h0M330.8 353.8h0M306.3 358.8h0M317.1 351.4h0M271.2 417.8h0M278.5 416.8h0M348.7 388.4h0M342.7 374.6h0M305.4 355.0h0M293.4 349.5h0M283.7 405.4h0M297.2 347.6h0M316.5 358.6h0M267.8 353.8h0M284.6 351.7h0" stroke="#E8593A" stroke-width="2.45" stroke-linecap="round" fill="none"/>
<path d="M277.6 358.7h0M293.1 441.4h0M341.7 367.8h0M274.1 431.0h0M302.7 334.5h0M319.2 355.9h0M316.7 346.2h0M303.1 406.7h0M271.8 379.1h0M259.9 391.1h0M294.6 368.6h0M352.0 405.4h0M261.6 382.5h0M297.0 355.2h0M298.6 401.4h0M275.4 341.3h0M303.4 378.6h0M295.0 341.0h0M318.1 337.6h0M310.1 446.3h0M324.3 360.9h0M302.2 410.6h0M289.9 330.0h0M321.8 432.7h0M342.3 405.5h0M271.7 359.6h0M353.8 391.7h0M347.6 391.5h0M270.0 407.3h0M265.0 374.4h0M299.0 342.0h0M342.3 400.7h0M289.8 378.7h0M312.8 358.3h0M292.6 342.5h0M277.9 388.6h0M294.1 421.9h0M321.8 331.4h0M321.3 437.9h0M347.1 365.1h0M306.2 436.7h0M277.2 373.2h0M311.6 413.1h0M273.3 412.1h0M283.4 417.8h0M319.0 347.5h0M266.8 372.9h0M322.2 355.7h0M319.4 362.0h0M262.6 391.9h0M311.3 355.9h0M319.7 344.1h0M340.6 425.7h0M275.9 363.3h0M298.8 436.5h0M337.7 368.9h0M317.5 327.0h0M310.4 424.3h0M302.1 356.5h0M314.8 438.2h0M303.9 438.2h0M307.3 385.0h0M340.4 421.1h0M351.4 390.0h0M290.3 366.1h0M316.0 404.6h0M278.6 339.4h0M287.1 410.1h0M286.1 372.4h0M276.4 408.0h0M263.1 406.7h0M331.3 411.4h0M301.7 421.3h0M281.5 366.0h0M333.8 415.0h0M322.9 408.3h0M330.9 381.2h0M266.5 384.6h0M289.4 407.6h0M343.0 359.5h0M320.2 407.5h0M308.7 429.0h0M287.3 342.9h0M326.0 415.3h0M294.8 425.6h0M271.6 352.1h0M279.7 364.2h0M269.7 381.7h0M315.0 413.2h0" stroke="#F5A548" stroke-width="2.45" stroke-linecap="round" fill="none"/>
<path d="M309.6 374.2h0M326.9 387.7h0M314.3 373.1h0M345.4 380.1h0M318.0 370.8h0M309.5 400.5h0M295.1 394.9h0M275.3 393.3h0M286.6 391.5h0M311.0 393.3h0M280.8 371.6h0M317.5 366.9h0M340.1 381.9h0M305.1 390.9h0M289.7 368.3h0M290.7 395.5h0M323.8 369.5h0M313.0 382.9h0M275.4 400.5h0M340.5 370.3h0M280.0 382.5h0M297.6 394.7h0M320.8 370.2h0M301.7 364.0h0M332.1 383.7h0M319.9 394.1h0M267.6 401.3h0M348.5 370.6h0M302.6 394.5h0M351.1 378.4h0M346.3 376.7h0M352.2 375.1h0M266.1 378.0h0M305.1 403.0h0M292.2 373.8h0M332.7 394.3h0M278.6 370.5h0M337.4 374.3h0" stroke="#86D79C" stroke-width="2.45" stroke-linecap="round" fill="none"/>
<path d="M336.2 397.9h0M284.2 421.5h0M309.4 411.3h0M332.4 441.1h0M269.4 415.2h0M328.0 423.9h0M313.5 424.9h0M308.1 433.8h0M297.8 434.1h0M282.5 429.0h0M313.8 420.5h0M290.7 426.0h0M277.1 436.8h0M305.4 431.2h0M266.4 413.5h0M308.6 415.0h0M300.5 398.8h0M292.0 432.4h0M315.8 447.5h0M283.9 431.3h0M321.8 445.5h0M273.2 408.4h0M298.6 421.6h0M318.5 417.9h0M311.8 416.4h0M329.9 440.8h0M296.2 414.4h0M285.1 416.2h0M318.7 442.1h0M278.7 409.4h0M327.6 418.3h0M308.0 420.0h0M313.3 388.7h0M347.1 412.0h0M316.2 426.5h0M343.7 425.8h0M294.4 408.5h0M317.0 408.5h0M334.6 438.7h0M332.0 416.5h0M321.2 418.3h0M317.8 446.3h0M302.1 430.3h0M323.1 414.0h0M337.3 434.8h0M288.1 440.2h0M268.2 420.9h0M339.4 409.0h0M304.7 410.8h0M334.2 432.5h0M292.0 410.3h0M336.9 379.4h0M302.7 413.2h0M346.2 417.0h0M263.9 409.8h0M302.7 442.4h0M277.1 432.9h0M282.8 436.2h0M332.9 389.9h0M280.9 434.4h0M343.3 409.0h0M288.4 413.1h0" stroke="#3DA6AA" stroke-width="2.45" stroke-linecap="round" fill="none"/>
<path d="M341.7 384.0h0M301.1 377.6h0M331.4 388.1h0M307.7 377.8h0M325.6 403.0h0M286.6 363.6h0M334.1 400.2h0M346.2 387.3h0M282.1 401.2h0M275.2 368.8h0M296.7 370.7h0M315.2 386.0h0M330.3 396.6h0M290.0 388.1h0M296.5 385.4h0M291.5 415.0h0M347.5 407.3h0M315.1 381.5h0M276.9 422.6h0M275.5 377.5h0M343.6 392.0h0M293.9 389.7h0M303.4 434.1h0M286.0 368.2h0M278.1 395.9h0M271.4 375.0h0M268.4 393.3h0M293.4 398.9h0M333.5 379.4h0M299.0 327.9h0M278.0 405.0h0M278.8 401.4h0M328.8 375.0h0M287.8 427.8h0M274.0 387.3h0M299.0 387.4h0M315.2 442.5h0M299.5 367.8h0M339.5 385.3h0M271.2 428.9h0M337.3 430.1h0M306.9 369.6h0M287.0 386.0h0M349.7 414.8h0M341.9 429.1h0M320.6 435.5h0M292.2 378.1h0M326.7 411.9h0M290.2 384.2h0M306.5 380.0h0M327.0 397.7h0M339.2 401.8h0M346.7 401.7h0M268.1 376.2h0M271.5 368.3h0M329.1 378.1h0M300.1 383.5h0M319.6 387.1h0M307.7 445.6h0M315.7 371.1h0M301.8 372.3h0" stroke="#BCE89B" stroke-width="2.45" stroke-linecap="round" fill="none"/>
<path d="M283.0 362.4h0M347.7 419.4h0M331.5 371.3h0M296.3 441.3h0M338.5 396.7h0M266.4 407.3h0M282.4 343.3h0M329.5 406.2h0M317.6 375.4h0M316.0 401.0h0M280.8 422.4h0M320.8 337.9h0M317.7 378.6h0M289.1 422.2h0M325.9 444.3h0M296.0 429.0h0M283.1 439.2h0M308.2 403.4h0M265.3 399.2h0M260.0 386.9h0M274.1 424.3h0M310.3 396.5h0M337.7 412.4h0M290.7 437.6h0M293.1 406.2h0M327.4 350.5h0M339.9 377.3h0M344.9 427.9h0M322.9 382.9h0M263.2 401.4h0M317.2 391.2h0M298.1 408.5h0M304.1 415.3h0M302.1 403.5h0M292.9 330.2h0M328.8 384.8h0M308.0 408.7h0M326.0 439.2h0M332.3 435.8h0M309.0 436.9h0M332.6 429.8h0M272.9 433.2h0M329.3 342.6h0M318.5 429.9h0M316.5 436.1h0M343.7 364.1h0M270.3 349.9h0M324.3 347.4h0M346.1 398.2h0M304.4 337.9h0" stroke="#E6EE84" stroke-width="2.45" stroke-linecap="round" fill="none"/>
<path d="M294.20 336.70 L280.92 369.60" stroke="#BC1F29" stroke-width="1.45" fill="none" stroke-linecap="round"/><path d="M279.50 373.10 L279.20 367.16 L283.84 369.03 Z" fill="#BC1F29"/>
<path d="M290.40 373.10 L290.98 355.18" stroke="#BC1F29" stroke-width="1.45" fill="none" stroke-linecap="round"/><path d="M291.10 351.40 L293.42 356.88 L288.43 356.72 Z" fill="#BC1F29"/>
<path d="M281.10 350.60 L343.59 385.17" stroke="#BC1F29" stroke-width="1.45" fill="none" stroke-linecap="round"/><path d="M346.90 387.00 L340.96 386.57 L343.38 382.20 Z" fill="#BC1F29"/>
<path d="M301.20 388.10 L291.19 366.43" stroke="#2A5BAA" stroke-width="1.45" fill="none" stroke-linecap="round"/><path d="M289.60 363.00 L294.13 366.85 L289.60 368.95 Z" fill="#2A5BAA"/>
<path d="M288.00 383.10 L327.05 368.99" stroke="#2A5BAA" stroke-width="1.45" fill="none" stroke-linecap="round"/><path d="M330.60 367.70 L326.37 371.89 L324.67 367.18 Z" fill="#2A5BAA"/>
<path d="M274.10 388.10 L272.26 382.87" stroke="#BC1F29" stroke-width="1.45" fill="none" stroke-linecap="round"/><path d="M271.00 379.30 L275.15 383.56 L270.44 385.22 Z" fill="#BC1F29"/>
<path d="M272.60 385.00 L280.30 401.20" stroke="#BC1F29" stroke-width="1.45" fill="none" stroke-linecap="round"/>
<path d="M269.50 393.50 L340.03 398.63" stroke="#BC1F29" stroke-width="1.45" fill="none" stroke-linecap="round"/><path d="M343.80 398.90 L338.23 401.00 L338.60 396.02 Z" fill="#BC1F29"/>
<path d="M275.70 422.90 L294.68 403.22" stroke="#BC1F29" stroke-width="1.45" fill="none" stroke-linecap="round"/><path d="M297.30 400.50 L295.35 406.12 L291.75 402.65 Z" fill="#BC1F29"/>
<path d="M317.40 398.90 L289.70 416.29" stroke="#BC1F29" stroke-width="1.45" fill="none" stroke-linecap="round"/><path d="M286.50 418.30 L289.74 413.31 L292.40 417.55 Z" fill="#BC1F29"/>
<path d="M317.40 397.40 L306.24 432.50" stroke="#BC1F29" stroke-width="1.45" fill="none" stroke-linecap="round"/><path d="M305.10 436.10 L304.35 430.20 L309.12 431.71 Z" fill="#BC1F29"/>
<path d="M317.40 397.40 L334.50 385.00" stroke="#BC1F29" stroke-width="1.45" fill="none" stroke-linecap="round"/>
<path d="M317.40 397.40 L323.60 385.00" stroke="#BC1F29" stroke-width="1.45" fill="none" stroke-linecap="round"/>
<path d="M298.90 385.00 L313.60 418.30" stroke="#2A5BAA" stroke-width="1.45" fill="none" stroke-linecap="round"/>
<path d="M329.80 424.50 L332.33 425.11" stroke="#2A5BAA" stroke-width="1.45" fill="none" stroke-linecap="round"/><path d="M336.00 426.00 L330.16 427.16 L331.34 422.30 Z" fill="#2A5BAA"/>
<path d="M300.00 398.50 L336.22 399.86" stroke="#BC1F29" stroke-width="1.45" fill="none" stroke-linecap="round"/><path d="M340.00 400.00 L334.51 402.30 L334.70 397.30 Z" fill="#BC1F29"/>
<path d="M334.00 378.00 L350.00 372.00" stroke="#BC1F29" stroke-width="1.45" fill="none" stroke-linecap="round"/>
<path d="M89.7 665.5 L89.7 666.8 L90.0 668.1 L90.5 669.3 L91.6 670.0 L92.8 670.5 L93.1 671.8 L93.8 672.9 L94.7 673.8 L95.8 674.5 L95.6 675.8 L96.0 677.1 L96.9 678.0 L98.1 678.6 L99.4 678.6 L100.6 678.3 L101.8 677.8 L102.9 677.0 L103.5 675.9 L104.1 674.7 L104.1 673.4 L103.8 672.2" fill="none" stroke="#b4b4b4" stroke-width="0.5" stroke-linejoin="round"/>
<path d="M69.6 657.0 L69.8 658.3 L69.8 659.6 L69.3 660.8 L68.7 662.0 L67.7 662.9 L67.5 661.6 L68.0 660.4 L68.7 659.3 L69.7 658.4 L70.7 657.6 L71.8 657.0 L73.1 656.9 L74.4 657.0 L75.6 657.5 L76.8 658.0 L77.7 658.9 L78.2 660.1 L78.4 661.4 L78.1 662.7 L77.6 663.9 L76.6 664.7 L75.4 665.3 L74.2 665.7 L72.9 665.8 L71.6 665.8 L70.3 665.7 L69.0 665.7 L67.7 665.9 L66.4 665.9 L65.1 665.9 L63.8 666.1 L62.6 665.7 L61.7 664.7 L60.6 664.1 L59.3 664.1" fill="none" stroke="#b4b4b4" stroke-width="0.5" stroke-linejoin="round"/>
<path d="M71.6 659.2 L70.9 658.1 L70.2 657.0 L69.4 656.1 L68.5 655.2 L67.3 654.5 L66.0 654.4 L64.7 654.5 L63.5 655.0 L62.5 655.8 L61.3 656.3 L60.1 656.9 L58.9 657.4 L57.7 657.9 L56.5 658.3 L55.2 658.3 L53.9 658.3 L52.6 658.4" fill="none" stroke="#b4b4b4" stroke-width="0.5" stroke-linejoin="round"/>
<path d="M66.7 664.4 L66.6 665.7 L66.1 667.0 L65.3 668.0 L64.2 668.6 L63.0 669.2 L61.8 669.7 L60.5 669.8 L59.2 669.5 L58.0 669.1 L57.0 668.3 L56.4 667.1 L55.8 666.0 L55.7 664.7 L55.9 663.4 L56.4 662.2 L57.1 661.1 L56.0 660.4 L55.0 659.6 L54.1 658.6" fill="none" stroke="#b4b4b4" stroke-width="0.5" stroke-linejoin="round"/>
<path d="M51.9 656.2 L51.6 655.0 L51.4 653.7 L50.8 652.5 L49.9 651.6 L48.8 650.9 L48.6 649.6 L48.3 648.4 L47.6 647.3 L46.6 646.5 L46.9 645.2" fill="none" stroke="#b4b4b4" stroke-width="0.5" stroke-linejoin="round"/>
<path d="M79.4 669.8 L78.1 669.7 L76.8 669.4 L75.5 669.5 L74.3 670.0 L73.2 670.7 L72.3 671.6 L71.4 672.6 L70.7 673.6 L70.0 674.7 L69.3 675.8 L68.6 676.9 L68.1 678.1 L67.6 679.3 L67.1 680.5 L66.6 681.7 L66.1 682.9 L65.9 684.2 L66.2 685.5 L66.4 686.8 L66.9 688.0 L65.8 688.6 L64.6 689.2 L63.5 689.8 L62.5 690.7 L61.6 691.6 L60.8 692.6 L60.1 693.7" fill="none" stroke="#b4b4b4" stroke-width="0.5" stroke-linejoin="round"/>
<path d="M92.7 691.1 L91.8 690.1 L91.2 689.0 L90.7 687.8 L90.3 686.6 L90.1 685.3 L90.2 684.0 L90.3 682.7 L90.6 681.4 L91.3 680.3 L91.9 679.2 L93.0 678.4 L94.2 677.9 L95.5 677.9 L96.8 677.9 L98.0 678.3 L99.2 678.8 L100.3 679.5 L101.3 680.3 L102.4 681.1 L103.3 682.0 L104.2 682.9 L104.9 684.0 L105.4 685.2 L105.8 686.4 L106.1 687.7 L106.4 689.0 L106.4 690.3 L106.4 691.6 L106.1 692.9 L105.7 694.1 L105.1 695.2 L104.3 696.3 L103.4 697.2 L104.1 698.3 L104.9 699.3 L106.0 700.1 L107.0 700.8 L108.1 701.5" fill="none" stroke="#b4b4b4" stroke-width="0.5" stroke-linejoin="round"/>
<path d="M73.7 712.3 L73.4 711.1 L73.5 709.8 L74.0 708.6 L74.2 707.3 L73.9 706.0 L72.9 705.2 L73.3 704.0 L73.0 702.7 L72.5 701.5 L71.6 700.6 L70.4 700.1 L69.4 699.3 L68.4 698.4 L67.7 697.3 L67.0 696.2 L66.4 695.1 L65.8 693.9 L65.5 692.6 L65.7 691.4 L66.5 690.3 L67.7 689.9 L69.0 690.0 L70.2 690.5 L71.2 691.3" fill="none" stroke="#b4b4b4" stroke-width="0.5" stroke-linejoin="round"/>
<path d="M63.5 649.6 L64.3 650.6 L65.0 651.7 L65.8 652.7 L66.9 653.4 L68.1 654.0 L69.3 654.5 L70.6 654.7 L71.8 655.0 L73.1 655.1 L74.4 654.7 L75.7 654.7 L77.0 654.7 L78.3 654.5 L79.5 654.2 L80.8 654.2 L82.0 653.7 L83.2 653.0 L84.0 652.1 L84.7 651.0 L84.9 649.7" fill="none" stroke="#b4b4b4" stroke-width="0.5" stroke-linejoin="round"/>
<path d="M30.0 690.0 L29.2 689.0 L28.5 687.9 L27.5 687.0 L26.4 686.3 L25.2 685.9 L23.9 685.7 L22.6 685.8 L21.4 686.4 L20.3 687.1 L19.4 688.0 L18.5 688.9 L17.6 689.9 L17.2 691.1 L17.1 692.4 L17.7 693.6 L18.5 694.6 L19.2 695.7 L20.2 696.5 L21.3 697.2 L22.5 697.7 L23.8 697.9 L25.1 698.1 L26.4 698.2 L27.6 697.7 L28.8 697.1 L29.8 696.3 L30.6 695.3 L31.3 694.2 L31.9 693.1 L32.2 691.8 L32.5 690.5 L32.7 689.2 L32.6 687.9 L32.4 686.7 L32.1 685.4 L31.8 684.1 L31.3 682.9" fill="none" stroke="#b4b4b4" stroke-width="0.5" stroke-linejoin="round"/>
<path d="M46.6 649.1 L47.9 649.3 L49.2 649.3 L50.5 649.5 L50.9 650.8 L51.9 651.6 L53.1 652.2 L54.3 652.7 L55.5 653.1 L56.8 653.0 L58.0 653.5 L59.0 654.4 L59.5 655.6 L59.1 656.8 L58.2 657.7 L57.7 656.5 L57.7 655.2 L58.3 654.1 L59.2 653.2 L60.5 652.9" fill="none" stroke="#b4b4b4" stroke-width="0.5" stroke-linejoin="round"/>
<path d="M63.9 695.1 L62.7 695.3 L61.4 695.5 L60.1 695.5 L59.4 696.7 L58.5 697.6 L57.3 698.2 L57.1 696.9 L57.1 695.6 L57.5 694.4 L58.5 693.5 L59.7 692.9 L60.8 692.2 L62.0 692.0 L63.3 692.1 L64.5 691.5 L65.5 690.7 L66.5 689.8 L66.9 688.6 L66.9 687.3 L66.9 686.0 L66.6 684.7 L66.0 683.5 L65.0 682.7 L63.9 682.0 L62.7 681.5" fill="none" stroke="#b4b4b4" stroke-width="0.5" stroke-linejoin="round"/>
<path d="M53.0 690.8 L54.2 690.3 L55.4 689.8 L56.5 689.0 L57.1 687.9 L56.9 686.6 L56.2 685.5 L55.5 684.4 L55.2 683.1 L55.4 681.8 L56.1 680.7 L57.0 679.8 L58.2 679.2 L59.4 678.9 L60.7 678.9 L62.0 679.2 L63.0 679.9 L63.6 681.1 L64.5 680.1 L64.1 678.9 L63.8 677.6 L63.4 676.4 L62.4 675.5 L61.3 674.8 L60.1 674.3 L58.9 674.4 L57.8 675.1 L57.0 676.2 L56.3 677.3 L55.5 678.3 L54.6 679.2 L53.6 680.0 L52.4 680.6 L51.9 679.4 L51.6 678.1 L51.8 676.8 L51.8 675.5 L51.6 674.3 L50.9 673.2" fill="none" stroke="#b4b4b4" stroke-width="0.5" stroke-linejoin="round"/>
<path d="M53.9 706.8 L55.1 706.2 L56.2 705.5 L57.4 705.0 L58.6 704.6 L59.9 704.7 L60.8 705.7 L61.3 706.9 L61.1 708.1 L60.5 709.3 L59.4 710.0 L58.1 710.1 L56.8 709.8 L55.7 709.2 L54.8 708.2 L54.1 707.2 L53.2 706.2 L52.7 705.0 L52.6 703.7" fill="none" stroke="#b4b4b4" stroke-width="0.5" stroke-linejoin="round"/>
<path d="M49.1 652.1 L48.4 651.0 L47.5 650.1 L46.3 649.6 L45.1 649.2 L45.4 648.0 L46.7 648.1 L48.0 647.8 L48.4 649.0 L49.0 650.1 L49.8 651.2 L50.6 652.2 L51.5 653.2 L51.9 651.9 L52.0 650.6 L51.8 649.3 L51.5 648.1 L50.8 646.9 L50.2 645.8 L49.7 644.6" fill="none" stroke="#b4b4b4" stroke-width="0.5" stroke-linejoin="round"/>
<path d="M49.1 700.5 L47.9 700.8 L46.7 700.2 L45.7 699.5 L45.0 698.3 L44.6 697.1 L44.8 695.8 L45.6 694.8 L46.5 693.9 L47.6 693.2 L48.7 692.6 L50.0 692.2 L51.2 691.7 L52.5 691.4 L53.7 691.3 L55.0 691.0 L56.3 690.8 L57.6 690.7 L58.9 690.4 L60.2 690.3 L61.3 690.9 L62.6 691.1 L63.9 690.9 L65.2 690.7 L66.3 690.0 L67.0 688.9 L67.2 687.6 L67.2 686.3 L66.7 685.1 L65.9 684.1 L65.2 683.0 L64.7 681.8 L64.6 680.5" fill="none" stroke="#b4b4b4" stroke-width="0.5" stroke-linejoin="round"/>
<path d="M86.7 661.7 L87.8 662.4 L88.9 663.1 L90.1 663.4 L91.4 663.8 L92.6 664.2 L93.9 664.5 L95.1 664.8 L96.3 665.5 L97.4 666.1 L98.7 666.2 L100.0 666.2 L101.3 666.2 L102.6 666.0" fill="none" stroke="#b4b4b4" stroke-width="0.5" stroke-linejoin="round"/>
<path d="M97.2 710.3 L96.2 711.2 L95.3 712.1 L94.5 713.0 L93.3 713.7 L92.1 714.1 L90.8 714.3 L89.5 714.4 L88.2 714.2 L87.0 713.7 L86.1 712.8 L85.2 711.9 L84.1 711.2 L83.0 710.5 L81.7 710.1 L80.4 710.3 L79.2 710.7 L78.1 711.4 L77.1 712.2 L76.2 713.2 L75.2 714.0 L76.0 714.9 L77.1 715.6 L78.4 715.9 L79.7 715.9 L81.0 716.1 L82.3 716.1 L83.6 716.0 L84.9 715.7 L86.0 715.2 L87.3 715.0 L88.6 714.9 L89.8 715.4 L90.7 716.4" fill="none" stroke="#b4b4b4" stroke-width="0.5" stroke-linejoin="round"/>
<path d="M59.1 669.6 L57.8 669.7 L56.5 669.3 L55.3 668.9 L54.0 668.9 L52.9 668.2 L52.3 667.1 L51.3 666.2 L50.3 665.5 L49.0 665.1 L47.7 665.1 L46.4 665.0 L45.1 665.1 L43.8 665.1 L42.5 665.0 L41.3 664.6 L40.1 664.2 L38.8 663.9 L37.5 663.7 L36.2 663.4 L35.0 663.1 L33.7 663.0 L32.4 663.0 L31.1 663.4 L30.2 664.3 L29.7 665.5 L29.8 666.8 L30.4 668.0 L31.2 668.9 L31.7 667.7" fill="none" stroke="#b4b4b4" stroke-width="0.5" stroke-linejoin="round"/>
<path d="M42.8 698.7 L41.8 699.6 L40.8 700.4 L39.6 700.8 L38.4 701.3 L37.6 702.3 L37.4 703.6 L38.7 703.5 L39.8 702.8 L40.8 702.0 L41.4 700.8 L41.5 699.5 L41.2 698.2 L40.4 697.2 L39.3 696.5 L38.0 696.5 L36.8 696.9 L35.8 697.7 L35.0 698.7 L34.5 699.9 L34.8 701.2 L35.4 702.3 L36.3 703.3 L37.2 704.3 L37.6 705.5 L37.6 706.8" fill="none" stroke="#b4b4b4" stroke-width="0.5" stroke-linejoin="round"/>
<path d="M94.7 666.4 L94.7 665.1 L94.5 663.8 L94.5 662.5 L94.3 661.2 L93.9 660.0 L93.4 658.8 L93.0 657.5 L93.2 656.3 L93.8 655.1" fill="none" stroke="#b4b4b4" stroke-width="0.5" stroke-linejoin="round"/>
<path d="M28.1 704.5 L26.8 704.3 L25.6 704.1 L24.3 704.4 L23.0 704.7 L21.9 705.3 L21.1 706.3 L20.4 707.5 L20.1 708.7 L20.3 710.0 L20.5 711.3 L20.3 712.6 L19.4 713.4" fill="none" stroke="#b4b4b4" stroke-width="0.5" stroke-linejoin="round"/>
<path d="M90.3 691.4 L91.5 690.9 L92.7 690.5 L94.0 690.6 L95.1 691.3 L96.1 692.2 L96.5 693.4 L96.2 694.7 L95.6 695.8 L94.6 696.7 L93.6 697.6 L92.8 698.6 L92.2 699.7 L91.9 701.0 L91.8 702.3 L92.2 703.5 L93.1 704.4 L94.3 705.0 L95.6 705.3 L96.9 705.1 L98.1 704.7 L99.3 704.2 L100.3 703.4 L101.2 702.4 L101.8 701.3 L102.4 700.1 L103.1 699.0 L103.4 697.8 L103.5 696.5 L103.3 695.2 L102.7 694.1 L101.7 693.1 L100.9 692.2" fill="none" stroke="#b4b4b4" stroke-width="0.5" stroke-linejoin="round"/>
<path d="M62.6 657.1 L62.4 655.8 L62.5 654.5 L62.1 653.2 L61.5 652.1 L60.8 651.0 L60.1 649.9 L59.2 648.9 L58.6 647.8 L57.9 646.7 L57.1 645.7 L56.3 644.6" fill="none" stroke="#b4b4b4" stroke-width="0.5" stroke-linejoin="round"/>
<path d="M51.5 665.0 L51.9 663.7 L51.9 662.4 L51.4 661.2 L50.6 660.2 L50.3 661.5 L50.3 662.8 L50.5 664.1 L50.8 665.4 L51.5 666.4 L52.6 667.2 L53.8 667.6 L55.1 667.4 L55.3 668.7 L56.1 669.7 L57.2 670.4 L58.5 670.7 L59.6 671.3 L60.5 672.3 L61.3 673.3 L61.8 674.5 L61.9 675.8 L61.8 677.1 L61.3 678.3 L60.4 679.1 L59.3 679.9" fill="none" stroke="#b4b4b4" stroke-width="0.5" stroke-linejoin="round"/>
<path d="M77.6 672.3 L76.8 673.4 L76.2 674.5 L75.7 675.7 L75.2 676.9 L75.0 678.2 L75.1 679.5 L75.2 680.8 L75.0 682.1 L74.7 683.3 L74.8 684.6 L75.2 685.8 L75.7 687.0 L76.3 688.2 L76.7 689.4 L77.0 690.7 L77.4 691.9 L78.0 693.1 L78.4 694.3 L78.9 695.5 L79.4 696.7 L80.0 697.9 L80.6 699.0 L80.9 700.3 L81.3 701.5 L81.3 702.8 L81.0 704.1 L80.8 705.4 L80.3 706.6 L79.9 707.8 L79.3 709.0 L78.5 710.0 L77.5 710.8 L76.3 711.4 L75.2 712.1 L74.1 712.7" fill="none" stroke="#b4b4b4" stroke-width="0.5" stroke-linejoin="round"/>
<path d="M61.2 705.6 L62.3 706.2 L63.6 706.4 L64.9 706.5 L66.2 706.1 L67.4 705.6 L68.5 705.0 L69.3 704.0 L70.0 705.1 L70.9 706.1 L72.0 706.8 L73.2 707.2 L74.5 707.2 L75.8 706.9 L77.0 706.3 L78.1 705.7 L79.1 704.9 L80.0 703.9 L80.8 702.9 L81.4 701.7 L82.0 700.6 L82.4 699.3 L82.5 698.0 L82.9 696.8 L83.3 695.6 L83.8 694.4 L84.5 693.3 L85.5 692.4 L86.5 691.7 L87.7 691.2 L88.9 690.7 L89.9 689.8 L90.6 688.8 L91.1 687.5 L91.0 686.2 L90.3 685.1" fill="none" stroke="#b4b4b4" stroke-width="0.5" stroke-linejoin="round"/>
<path d="M103.7 708.1 L102.8 709.1 L101.8 710.0 L101.1 711.1 L100.8 712.3 L100.7 713.6 L101.2 714.8 L102.2 715.7 L103.5 715.8 L104.7 715.3 L105.4 714.3 L105.3 713.0 L104.5 711.9 L103.4 711.3 L102.1 711.5 L101.0 712.1 L100.3 713.2 L100.1 714.5 L100.3 715.8 L100.7 717.0 L101.8 717.8" fill="none" stroke="#b4b4b4" stroke-width="0.5" stroke-linejoin="round"/>
<path d="M77.8 683.0 L76.6 683.2 L75.3 682.9 L74.2 682.2 L73.0 681.7 L72.1 680.8 L71.5 679.6 L71.0 678.4 L71.2 677.1 L71.5 675.8 L72.1 674.7 L73.0 673.7 L74.0 672.9 L75.3 672.6 L76.6 672.6 L77.9 672.6 L79.2 672.7 L80.4 673.0 L81.6 673.6 L82.5 674.5" fill="none" stroke="#b4b4b4" stroke-width="0.5" stroke-linejoin="round"/>
<path d="M92.8 681.9 L91.5 682.0 L90.3 682.4 L89.1 683.0 L87.8 683.3 L86.6 683.2 L85.3 682.8 L84.3 682.0 L83.8 680.8 L84.0 679.5 L84.6 678.4 L85.1 677.2 L85.4 675.9 L85.5 674.6 L85.7 673.3 L86.2 672.1 L87.3 671.4 L88.5 671.0 L89.8 671.2 L90.8 672.1 L91.3 673.3 L92.2 674.2 L93.4 674.7 L94.7 674.8 L96.0 674.7 L97.1 674.0 L98.1 673.1" fill="none" stroke="#b4b4b4" stroke-width="0.5" stroke-linejoin="round"/>
<path d="M62.80 644.92 C61.24 644.92 59.71 643.31 57.96 642.91 C56.22 642.50 54.72 642.35 52.33 642.50 C49.94 642.65 46.52 643.01 43.64 643.81 C40.76 644.61 37.92 645.57 35.04 647.33 C32.16 649.09 28.80 651.71 26.35 654.36 C23.90 657.01 21.90 660.12 20.32 663.20 C18.74 666.28 17.74 669.48 16.87 672.85 C15.99 676.21 15.52 679.71 15.09 683.40 C14.66 687.08 14.32 691.35 14.30 694.95 C14.28 698.55 14.55 701.78 14.99 705.00 C15.43 708.21 16.14 711.90 16.97 714.24 C17.79 716.59 18.88 717.71 19.93 719.06 C20.98 720.42 22.46 721.16 23.29 722.38 C24.11 723.60 24.08 725.06 24.87 726.40 C25.66 727.74 26.71 728.54 28.03 730.42 C29.35 732.29 30.65 735.83 32.77 737.65 C34.89 739.48 38.12 740.82 40.77 741.37 C43.42 741.92 46.63 740.78 48.67 740.97 C50.72 741.15 51.49 742.14 53.02 742.47 C54.55 742.81 57.05 742.22 57.86 742.98 C58.67 743.73 57.66 746.19 57.86 747.00 C58.06 747.80 57.47 747.67 59.05 747.80 C60.63 747.93 65.80 747.93 67.34 747.80 C68.89 747.67 68.17 747.80 68.33 747.00 C68.50 746.19 67.51 743.73 68.33 742.98 C69.16 742.22 71.74 742.81 73.27 742.47 C74.80 742.14 75.49 741.15 77.52 740.97 C79.54 740.78 82.77 741.92 85.42 741.37 C88.07 740.82 91.30 739.48 93.42 737.65 C95.55 735.83 96.85 732.29 98.16 730.42 C99.48 728.54 100.54 727.74 101.33 726.40 C102.12 725.06 102.07 723.60 102.91 722.38 C103.75 721.16 105.33 720.54 106.36 719.06 C107.40 717.59 108.36 715.88 109.13 713.54 C109.90 711.19 110.63 708.26 111.01 705.00 C111.38 701.73 111.40 696.96 111.40 693.95 C111.40 690.93 111.25 689.26 111.01 686.91 C110.76 684.57 110.46 682.51 109.92 679.88 C109.38 677.25 108.83 674.07 107.75 671.14 C106.66 668.21 105.13 664.94 103.40 662.30 C101.67 659.65 99.81 657.46 97.37 655.26 C94.94 653.07 91.66 650.96 88.78 649.14 C85.90 647.31 82.99 645.57 80.09 644.31 C77.19 643.06 73.52 641.83 71.39 641.60 C69.27 641.37 68.78 642.35 67.34 642.91 C65.91 643.46 64.36 644.92 62.80 644.92 Z" fill="none" stroke="#3a3a3a" stroke-width="0.75"/>
<path d="M62.3 645.2 L62.3 667.8 L62.3 692.9 L62.4 712.0 L64.2 712.0 L64.3 692.9 L64.3 667.8 L64.3 645.2 Z" fill="#efefef" stroke="none"/>
<path d="M62.31 645.22 C62.31 648.98 62.31 659.87 62.31 667.82 C62.31 675.78 62.29 685.57 62.31 692.94 C62.32 700.31 62.39 708.85 62.41 712.03" fill="none" stroke="#8f8f8f" stroke-width="0.55"/>
<path d="M64.28 645.22 C64.28 648.98 64.28 659.87 64.28 667.82 C64.28 675.78 64.30 685.57 64.28 692.94 C64.27 700.31 64.20 708.85 64.18 712.03" fill="none" stroke="#8f8f8f" stroke-width="0.55"/>
<path d="M48.67 740.97 C49.74 740.55 53.24 739.81 55.10 738.46 C56.96 737.10 58.78 734.97 59.84 732.83 C60.89 730.69 61.29 728.01 61.42 725.60 C61.55 723.18 61.29 720.66 60.63 718.36 C59.97 716.07 57.99 712.92 57.47 711.83" fill="none" stroke="#4a4a4a" stroke-width="0.55"/>
<path d="M77.52 740.97 C76.45 740.55 72.96 739.81 71.10 738.46 C69.24 737.10 67.41 734.97 66.36 732.83 C65.30 730.69 64.91 728.01 64.78 725.60 C64.64 723.18 64.91 720.66 65.57 718.36 C66.23 716.07 68.20 712.92 68.73 711.83" fill="none" stroke="#4a4a4a" stroke-width="0.55"/>
<path d="M23.29 722.38 C23.72 721.66 24.77 719.45 25.86 718.06 C26.94 716.67 28.00 715.05 29.81 714.04 C31.62 713.04 33.92 712.50 36.72 712.03 C39.52 711.56 43.14 711.26 46.60 711.23 C50.06 711.19 55.66 711.73 57.47 711.83" fill="none" stroke="#5a5a5a" stroke-width="0.5"/>
<path d="M102.91 722.38 C102.48 721.66 101.42 719.45 100.34 718.06 C99.25 716.67 98.20 715.05 96.39 714.04 C94.58 713.04 92.27 712.50 89.47 712.03 C86.67 711.56 83.05 711.26 79.59 711.23 C76.14 711.19 70.54 711.73 68.73 711.83" fill="none" stroke="#5a5a5a" stroke-width="0.5"/>
<path d="M28.82 729.61 C30.80 728.78 36.89 726.22 40.67 724.59 C44.46 722.97 48.08 721.38 51.54 719.87 C55.00 718.36 59.77 716.27 61.42 715.55" fill="none" stroke="#9a9a9a" stroke-width="0.45"/>
<path d="M64.78 715.55 C66.42 716.27 71.20 718.36 74.65 719.87 C78.11 721.38 81.73 722.97 85.52 724.59 C89.31 726.22 95.40 728.78 97.37 729.61" fill="none" stroke="#9a9a9a" stroke-width="0.45"/>
<path d="M61.42 725.60 C61.70 726.35 62.54 730.12 63.10 730.12 C63.66 730.12 64.50 726.35 64.78 725.60" fill="none" stroke="#6a6a6a" stroke-width="0.45"/>
<path d="M21.4 667.8h0M78.2 681.9h0M101.3 685.3h0M65.3 703.6h0M50.4 691.4h0M74.8 685.1h0M22.1 696.3h0M98.1 675.5h0M21.5 690.0h0M80.4 684.6h0M104.8 710.8h0M64.8 673.1h0M33.8 681.3h0M72.3 667.2h0M106.9 687.0h0M22.4 709.8h0M99.3 663.2h0M86.7 676.6h0M92.4 693.6h0M61.3 673.6h0M60.8 691.3h0M27.0 685.6h0M106.1 675.7h0M48.2 692.8h0M40.7 662.7h0M98.5 667.0h0M99.9 704.1h0M58.6 674.7h0M104.3 692.2h0M42.6 679.3h0M73.3 663.9h0M68.1 679.2h0M37.1 673.2h0M62.7 667.3h0M43.3 666.2h0M50.4 714.0h0M58.6 710.0h0M100.4 717.3h0M104.2 669.0h0M100.2 672.2h0M24.2 715.1h0M23.2 663.5h0" stroke="#E8593A" stroke-width="2.45" stroke-linecap="round" fill="none"/>
<path d="M100.2 689.4h0M44.8 660.3h0M64.1 690.4h0M19.0 713.0h0M108.4 683.7h0M36.9 696.7h0M106.3 693.9h0M102.7 676.5h0M53.7 669.9h0M108.2 690.4h0M93.6 668.5h0M26.1 673.6h0M84.3 712.0h0M55.2 677.5h0M80.4 673.9h0M98.3 701.9h0M34.5 711.1h0M76.6 701.3h0M105.5 703.0h0M98.2 692.9h0M40.5 666.9h0M52.8 689.0h0M25.0 698.1h0M83.3 701.3h0M21.0 686.7h0M19.2 678.5h0M88.9 651.8h0M83.3 683.8h0M79.9 704.2h0M84.7 716.4h0M103.2 695.6h0M79.6 667.5h0M94.6 665.4h0M27.0 679.8h0M85.6 682.7h0M68.0 664.8h0M85.1 674.6h0M49.4 659.2h0M89.2 655.9h0M77.0 675.9h0M70.1 661.5h0M86.8 696.5h0M108.4 708.5h0M89.0 682.4h0M81.2 715.2h0M81.2 681.5h0M95.1 700.8h0M95.2 672.7h0M24.1 711.4h0M29.9 684.8h0M48.7 686.3h0M90.9 674.8h0M26.4 668.4h0M57.6 683.1h0M109.5 700.3h0M49.4 650.3h0M43.5 686.1h0M101.9 702.8h0M47.9 697.5h0M54.2 682.5h0M95.3 696.5h0M62.3 679.6h0M79.6 691.5h0M18.7 709.8h0M77.9 669.0h0M31.9 670.7h0M17.3 705.8h0M66.7 657.5h0M71.9 676.6h0M33.4 650.8h0M102.9 681.0h0M29.2 678.1h0M27.0 676.4h0M73.4 700.1h0M101.9 664.2h0M24.8 686.7h0M84.7 690.2h0M31.3 697.6h0M18.7 686.4h0M100.4 694.1h0M93.9 676.0h0M42.7 670.9h0M51.5 646.4h0M68.9 698.1h0M69.2 645.1h0" stroke="#F5A548" stroke-width="2.45" stroke-linecap="round" fill="none"/>
<path d="M74.7 669.7h0M20.7 682.4h0M39.5 687.4h0M31.9 675.8h0M51.6 711.8h0M40.0 670.8h0M41.0 676.7h0M53.4 673.7h0M23.7 717.4h0M28.7 705.7h0M45.7 668.1h0M21.8 706.8h0M106.7 678.5h0M93.9 678.4h0M35.7 678.2h0M49.3 710.5h0M101.8 670.3h0M41.2 652.4h0M36.9 667.1h0M34.2 672.1h0M41.6 684.6h0M97.7 689.0h0M89.6 688.5h0M75.3 703.5h0" stroke="#E6EE84" stroke-width="2.45" stroke-linecap="round" fill="none"/>
<path d="M33.7 686.3h0M31.6 706.3h0M45.5 688.3h0M67.6 692.0h0M96.4 705.3h0M47.5 703.8h0M78.5 688.9h0M92.5 711.4h0M98.8 715.1h0M38.2 714.8h0M87.8 712.3h0M28.4 696.7h0M42.8 706.0h0M92.2 701.0h0M81.9 664.6h0M72.7 691.0h0M89.1 700.3h0M79.2 711.0h0M66.0 708.4h0M72.1 703.5h0M73.3 671.7h0M59.1 699.1h0M75.5 698.8h0M48.1 706.5h0M73.5 707.5h0M63.1 708.3h0M30.4 711.2h0M76.5 686.9h0M60.3 668.7h0M42.2 711.1h0M94.1 704.3h0M56.8 714.8h0M64.5 696.1h0M40.7 708.4h0M68.4 706.4h0M46.2 664.1h0M87.8 693.3h0M75.2 690.1h0M72.6 696.0h0M92.6 686.3h0M22.2 699.2h0M61.5 714.1h0M54.7 692.4h0M102.6 712.4h0M33.9 703.1h0M31.6 691.9h0M87.0 710.2h0M72.2 688.6h0M29.8 694.5h0M87.4 673.3h0M60.4 704.1h0M51.9 680.2h0M36.2 701.4h0M56.1 702.8h0M51.1 699.4h0M89.6 668.1h0" stroke="#3DA6AA" stroke-width="2.45" stroke-linecap="round" fill="none"/>
<path d="M97.9 707.4h0M62.1 652.9h0M53.3 662.0h0M60.9 706.8h0M46.6 680.9h0M64.7 649.1h0M82.8 649.7h0M78.1 713.1h0M86.3 650.3h0M45.2 677.1h0M80.4 693.8h0M68.1 689.0h0M33.6 668.0h0M62.3 670.2h0M75.9 645.8h0M67.4 647.1h0M54.8 647.1h0M37.4 648.5h0M66.1 714.6h0M60.0 686.6h0M41.1 659.3h0M53.1 665.8h0M61.4 665.2h0M101.0 682.3h0M82.9 687.7h0M72.9 646.5h0M37.9 656.2h0M32.9 654.0h0M84.5 664.0h0M60.6 649.2h0M46.6 710.8h0M40.6 698.9h0M84.1 659.5h0M23.0 678.1h0M87.2 669.6h0M51.5 684.3h0M73.1 658.2h0M44.3 673.5h0M32.0 701.0h0M78.6 651.2h0M57.2 655.1h0M61.0 661.1h0M37.8 712.5h0M62.6 698.9h0M74.0 652.3h0M24.0 681.2h0M18.9 703.9h0M85.6 685.9h0M92.0 654.7h0M73.8 682.3h0M56.9 649.0h0M40.7 654.6h0M36.2 689.5h0M83.0 677.3h0M38.4 660.6h0M41.8 656.9h0M80.9 679.0h0M83.0 698.0h0" stroke="#86D79C" stroke-width="2.45" stroke-linecap="round" fill="none"/>
<path d="M44.7 654.3h0M86.3 662.0h0M102.8 698.8h0M36.1 707.8h0M70.8 713.5h0M34.0 694.8h0M50.1 653.4h0M53.4 713.7h0M24.8 683.7h0M40.7 704.8h0M47.7 653.4h0M95.6 659.1h0M68.6 686.7h0M36.2 664.7h0M50.5 656.4h0M29.9 660.8h0M97.9 682.3h0M109.2 686.9h0M55.2 651.8h0M18.0 690.9h0M35.0 656.2h0M66.7 652.9h0M25.3 709.2h0M96.2 711.2h0M82.1 671.0h0M44.7 696.5h0M70.3 656.2h0M46.8 715.9h0M29.1 657.3h0M57.7 646.7h0M18.7 699.6h0M41.6 646.4h0M96.2 677.7h0M36.5 650.9h0M21.9 675.5h0" stroke="#BCE89B" stroke-width="2.45" stroke-linecap="round" fill="none"/>
<path d="M32.2 723.4h0M35.4 728.7h0M27.3 728.4h0M77.2 718.8h0M86.8 723.8h0M98.1 720.2h0M77.2 719.0h0M46.9 722.7h0M46.5 713.9h0M58.7 727.9h0M56.3 729.1h0M89.6 732.8h0M48.8 738.1h0M35.6 724.5h0" stroke="#EEF29A" stroke-width="2.45" stroke-linecap="round" fill="none"/>
<path d="M82.00 652.90 L62.10 694.20" stroke="#BC1F29" stroke-width="1.3" fill="none" stroke-linecap="round"/>
<path d="M72.80 672.80 L45.92 668.06" stroke="#BC1F29" stroke-width="1.3" fill="none" stroke-linecap="round"/><path d="M42.20 667.40 L47.95 665.88 L47.08 670.80 Z" fill="#BC1F29"/>
<path d="M62.00 672.00 L71.23 671.29" stroke="#BC1F29" stroke-width="1.3" fill="none" stroke-linecap="round"/><path d="M75.00 671.00 L69.81 673.91 L69.42 668.92 Z" fill="#BC1F29"/>
<path d="M63.60 675.90 L103.50 689.60" stroke="#BC1F29" stroke-width="1.3" fill="none" stroke-linecap="round"/>
<path d="M42.20 708.00 L89.76 672.75" stroke="#BC1F29" stroke-width="1.3" fill="none" stroke-linecap="round"/><path d="M92.80 670.50 L89.95 675.72 L86.97 671.71 Z" fill="#BC1F29"/>
<path d="M52.90 694.20 L30.64 690.95" stroke="#BC1F29" stroke-width="1.3" fill="none" stroke-linecap="round"/><path d="M26.90 690.40 L32.60 688.71 L31.88 693.65 Z" fill="#BC1F29"/>
<path d="M52.90 698.80 L27.58 698.19" stroke="#BC1F29" stroke-width="1.3" fill="none" stroke-linecap="round"/><path d="M23.80 698.10 L29.26 695.73 L29.14 700.73 Z" fill="#BC1F29"/>
<path d="M26.90 698.10 L65.20 714.20" stroke="#BC1F29" stroke-width="1.3" fill="none" stroke-linecap="round"/>
<path d="M20.00 710.30 L23.41 716.22" stroke="#BC1F29" stroke-width="1.3" fill="none" stroke-linecap="round"/><path d="M25.30 719.50 L20.44 716.07 L24.77 713.57 Z" fill="#BC1F29"/>
<path d="M229.5 683.0 L228.4 683.7 L227.6 684.7 L226.8 685.7 L226.1 686.8 L225.6 688.0 L225.4 689.3 L225.8 690.5 L226.3 691.7 L227.1 692.7 L227.9 693.8 L229.0 694.5 L230.1 695.2 L231.2 695.8 L232.5 696.0 L233.8 696.0 L235.1 696.1 L236.3 696.6 L237.5 697.1 L238.6 697.9 L239.6 698.7 L240.6 699.6 L241.3 700.6 L241.5 701.9 L241.7 703.2" fill="none" stroke="#b4b4b4" stroke-width="0.5" stroke-linejoin="round"/>
<path d="M151.8 689.0 L152.6 690.0 L153.5 691.0 L154.4 691.8 L155.1 692.9 L153.9 692.6 L152.7 692.0 L151.7 691.2 L150.8 690.2 L150.3 689.0 L150.0 687.8 L151.2 687.6 L152.5 687.7 L153.8 688.0 L155.0 688.5 L156.1 689.2 L157.0 690.1 L157.7 691.2 L158.6 692.2 L159.1 693.4 L159.6 694.6 L159.6 695.9 L159.1 697.1 L158.0 697.8" fill="none" stroke="#b4b4b4" stroke-width="0.5" stroke-linejoin="round"/>
<path d="M130.2 696.2 L130.6 697.4 L131.2 698.6 L131.7 699.8 L132.1 701.0 L132.9 702.1 L133.8 703.0 L135.1 703.1 L136.2 702.4 L136.6 701.2 L136.6 699.9 L136.1 698.7 L135.0 698.1 L133.7 698.2 L132.4 698.4 L131.2 699.1 L130.4 700.0 L131.3 700.9 L132.4 701.7 L133.7 702.1 L135.0 702.1 L136.2 701.8 L137.5 702.0 L138.6 702.7 L139.1 703.9 L139.3 705.2 L138.7 706.4 L137.8 707.3 L136.7 708.0 L135.5 708.5 L134.2 708.6 L132.9 708.3 L131.7 707.9 L130.6 707.2 L129.6 706.3" fill="none" stroke="#b4b4b4" stroke-width="0.5" stroke-linejoin="round"/>
<path d="M186.5 705.7 L187.8 705.6 L189.0 705.8 L190.3 706.0 L191.6 706.2 L192.9 706.4 L194.2 706.4 L195.5 706.6 L196.8 706.9 L198.0 707.0 L199.3 707.2 L200.5 707.7 L201.7 708.3 L202.8 709.1 L203.8 709.8 L204.5 710.9 L205.1 712.1 L205.2 713.4 L205.0 714.7 L204.5 715.9" fill="none" stroke="#b4b4b4" stroke-width="0.5" stroke-linejoin="round"/>
<path d="M151.9 669.2 L150.6 669.4 L149.3 669.3 L148.1 668.7 L146.9 668.2 L145.7 667.7 L144.7 666.9 L143.9 665.9 L143.4 664.6 L143.0 663.4 L142.9 662.1 L143.5 660.9 L144.4 660.0 L145.4 659.1 L146.0 658.0 L146.2 656.7 L146.1 655.4 L145.1 654.6 L144.0 654.0 L142.7 653.6" fill="none" stroke="#b4b4b4" stroke-width="0.5" stroke-linejoin="round"/>
<path d="M179.7 676.0 L180.9 676.6 L181.8 677.5 L182.3 678.7 L182.5 680.0 L182.5 681.3 L182.8 682.6 L183.5 683.7 L184.4 684.6 L185.6 685.1 L186.9 685.1 L188.2 684.8 L189.5 684.5 L190.7 684.1 L191.8 683.5 L192.7 682.5 L193.6 681.5 L194.7 680.8" fill="none" stroke="#b4b4b4" stroke-width="0.5" stroke-linejoin="round"/>
<path d="M135.6 691.7 L136.2 692.9 L136.8 694.1 L137.0 695.3 L137.3 696.6 L137.3 697.9 L137.2 699.2 L137.3 700.5 L137.4 701.8 L137.7 703.1 L137.8 704.3 L139.0 704.9 L140.0 705.7 L141.0 706.5 L142.0 707.4 L142.9 708.3 L144.0 709.0 L145.3 709.2 L146.6 709.2 L147.8 708.7 L148.4 707.5 L148.6 706.3" fill="none" stroke="#b4b4b4" stroke-width="0.5" stroke-linejoin="round"/>
<path d="M148.5 683.9 L147.9 682.7 L147.2 681.6 L146.2 680.8 L145.1 680.1 L143.9 679.6 L142.7 679.2 L141.4 678.8 L140.2 678.4 L138.9 678.1 L137.6 678.1 L136.3 678.1 L135.0 678.2 L133.8 678.7 L132.8 679.4 L131.5 679.8 L130.4 680.4 L129.2 681.1 L128.0 681.6 L126.9 682.2 L125.9 682.9 L124.8 683.7 L123.7 684.5" fill="none" stroke="#b4b4b4" stroke-width="0.5" stroke-linejoin="round"/>
<path d="M224.6 683.6 L224.0 682.5 L223.9 681.2 L224.2 679.9 L225.1 679.0 L226.3 678.4 L227.6 678.4 L228.7 679.1 L229.5 680.1 L230.0 681.3 L229.9 682.6 L229.7 683.9 L229.0 685.0 L228.0 685.8 L226.7 686.2 L225.4 686.2 L224.1 686.3 L222.9 686.0 L221.7 685.5 L220.8 684.6 L220.4 683.3 L220.4 682.0 L219.3 681.5 L218.0 681.5 L216.7 681.4 L215.4 681.8 L214.2 682.3 L213.4 683.3 L212.8 684.4 L212.9 685.7 L213.5 686.9 L214.6 687.6 L215.8 687.9 L217.1 687.9 L218.2 687.1 L218.6 685.9 L218.4 684.6" fill="none" stroke="#b4b4b4" stroke-width="0.5" stroke-linejoin="round"/>
<path d="M211.1 698.6 L211.8 699.6 L212.4 700.8 L212.4 702.1 L211.8 703.3 L211.1 704.4 L210.2 705.3 L209.2 706.2 L208.1 706.9 L206.9 707.5 L205.8 708.1 L204.9 709.1 L204.4 710.2 L204.1 711.5 L204.5 712.8 L205.6 713.5 L206.8 713.8 L208.0 713.2 L207.2 712.1 L208.2 711.2 L208.3 709.9 L207.8 708.7 L206.7 708.1 L205.4 708.1 L204.6 709.2 L204.4 710.5 L204.5 711.8 L205.2 712.9 L206.4 713.5 L207.6 713.3" fill="none" stroke="#b4b4b4" stroke-width="0.5" stroke-linejoin="round"/>
<path d="M188.1 655.4 L187.9 654.1 L188.1 652.8 L188.4 651.6 L189.1 650.5 L189.3 649.2 L189.1 647.9 L188.8 646.6" fill="none" stroke="#b4b4b4" stroke-width="0.5" stroke-linejoin="round"/>
<path d="M129.6 678.0 L130.6 678.9 L129.5 679.5 L128.4 680.2 L127.2 680.9 L126.1 681.5 L125.6 682.7 L125.9 684.0 L126.8 684.9 L127.3 686.1 L127.6 687.4 L127.4 688.7 L126.9 689.9 L126.4 691.1 L126.0 692.3 L125.5 693.5 L124.9 694.7" fill="none" stroke="#b4b4b4" stroke-width="0.5" stroke-linejoin="round"/>
<path d="M201.0 732.0 L200.1 731.1 L199.2 730.1 L198.7 728.9 L198.0 727.9 L197.0 726.9 L195.8 726.4 L194.6 726.1 L193.3 726.3 L192.3 727.1 L191.4 728.1 L191.0 729.3 L191.5 730.5 L192.4 731.5 L193.3 732.4 L194.6 732.8 L194.5 731.5 L193.9 730.3 L193.2 729.2" fill="none" stroke="#b4b4b4" stroke-width="0.5" stroke-linejoin="round"/>
<path d="M140.5 679.8 L139.4 679.1 L138.2 678.7 L137.0 678.2 L135.7 677.9 L134.4 677.8 L133.1 677.8 L133.0 679.1 L132.9 680.4 L133.1 681.7 L133.6 682.9 L132.4 683.4 L132.1 682.1 L131.5 680.9 L130.6 680.0 L129.5 679.3 L128.2 679.3 L127.0 679.7 L125.9 680.4 L125.1 681.4 L124.4 682.5 L124.1 683.8 L124.6 685.0 L125.6 685.9 L126.4 684.9 L126.8 683.6 L126.9 682.3" fill="none" stroke="#b4b4b4" stroke-width="0.5" stroke-linejoin="round"/>
<path d="M223.3 689.6 L222.7 690.7 L222.6 692.0 L222.7 693.3 L223.1 694.6 L224.4 694.3 L224.0 693.1 L223.5 691.9 L222.9 690.7 L222.1 689.7 L221.4 688.6 L220.2 689.2 L219.5 690.3 L219.3 691.6 L219.6 692.8" fill="none" stroke="#b4b4b4" stroke-width="0.5" stroke-linejoin="round"/>
<path d="M186.3 664.8 L185.0 664.5 L183.7 664.4 L182.4 664.4 L181.1 664.4 L179.8 664.5 L178.6 664.8 L177.4 665.5 L176.2 665.3 L175.2 664.4 L174.5 663.3 L174.5 662.0 L175.0 660.8 L175.8 659.8 L176.9 659.1 L178.2 659.0 L179.5 659.1 L180.7 659.6 L181.6 660.6 L181.9 661.8 L181.6 663.1 L180.9 664.1 L179.9 665.0 L178.7 665.4 L177.5 665.0 L176.8 663.9 L176.7 662.6 L175.6 661.9 L174.7 660.9 L174.1 659.7 L174.3 658.5 L175.1 657.4 L176.2 656.7 L177.5 656.7 L178.7 657.1 L179.6 658.0 L180.1 659.2 L180.3 660.5" fill="none" stroke="#b4b4b4" stroke-width="0.5" stroke-linejoin="round"/>
<path d="M177.8 676.7 L177.7 675.4 L178.0 674.2 L178.5 673.0 L179.2 671.9 L180.3 671.2 L181.3 670.3 L182.4 669.6 L183.5 668.9 L184.7 668.5 L185.9 668.1 L187.2 667.8 L188.5 667.4 L189.7 667.7 L190.8 668.5 L191.7 669.4 L192.9 669.1 L194.2 669.3 L195.5 669.2 L196.8 669.5 L197.6 668.5 L198.7 667.8 L200.0 667.5 L199.8 668.8 L199.4 670.0 L199.0 671.2 L199.3 672.5 L200.1 673.5 L199.4 674.6 L198.7 675.7 L199.9 676.0" fill="none" stroke="#b4b4b4" stroke-width="0.5" stroke-linejoin="round"/>
<path d="M138.6 682.9 L139.2 681.8 L140.0 680.7 L140.8 681.8 L141.4 682.9 L141.6 684.2 L141.4 685.5 L140.8 686.7 L140.3 687.8 L139.5 688.9 L138.7 689.9 L138.2 688.7 L137.8 687.4 L137.7 686.1 L137.9 684.8 L138.4 683.6 L138.8 682.4 L139.4 681.3 L140.2 680.2 L141.1 679.3 L142.3 678.8 L143.4 678.1 L144.7 678.1 L145.9 678.6 L146.8 679.6 L147.6 680.6 L148.4 681.6 L149.2 682.6 L150.0 683.7 L150.9 684.5 L152.0 685.3 L153.2 685.8 L154.5 686.0 L155.8 686.1 L157.0 685.7 L158.2 685.1 L159.3 684.4 L160.2 683.5" fill="none" stroke="#b4b4b4" stroke-width="0.5" stroke-linejoin="round"/>
<path d="M125.5 689.1 L124.5 690.0 L123.6 690.9 L122.9 692.0 L122.4 693.2 L122.8 694.5 L123.5 695.6 L124.5 696.4 L125.7 696.7 L127.0 696.6 L128.3 696.2 L129.5 695.8 L130.6 695.1 L131.5 694.2 L132.1 693.0 L132.3 691.7 L132.1 690.4 L131.6 689.3 L130.7 688.3 L129.4 687.9 L128.2 688.1 L127.0 688.6 L126.0 689.5 L125.6 690.7 L125.7 692.0 L126.2 693.2 L127.2 694.1 L128.3 694.7 L129.5 695.2 L130.8 695.3 L132.1 694.9 L132.9 693.8 L133.2 692.6" fill="none" stroke="#b4b4b4" stroke-width="0.5" stroke-linejoin="round"/>
<path d="M176.4 703.7 L177.6 704.2 L178.9 704.6 L180.1 704.9 L181.4 704.9 L182.7 704.7 L183.7 703.8 L184.3 702.7 L184.3 701.4 L183.8 700.2 L182.9 699.2 L181.7 698.8 L180.4 699.1 L179.3 699.7 L178.4 700.7 L177.9 701.9 L177.7 703.1 L177.7 704.4 L178.2 705.6 L178.9 706.8 L179.9 707.6 L181.1 707.9 L182.3 707.3 L183.2 706.3 L183.4 705.0 L183.1 703.7 L182.3 702.7 L181.1 702.2 L179.8 702.4 L178.8 703.1 L177.8 704.0" fill="none" stroke="#b4b4b4" stroke-width="0.5" stroke-linejoin="round"/>
<path d="M212.8 692.6 L212.3 693.8 L211.6 694.9 L211.2 696.1 L210.5 697.2 L209.9 698.4 L209.4 699.6 L208.5 700.5 L207.5 701.3 L206.4 702.0 L205.9 703.2 L205.6 704.5 L205.7 705.8 L205.8 707.1 L205.8 708.4 L205.9 709.7 L206.0 711.0 L206.3 712.3 L206.7 713.5 L207.5 714.6 L207.9 715.8 L207.6 717.1 L206.9 718.2 L206.0 719.1 L205.0 719.9 L203.7 720.2" fill="none" stroke="#b4b4b4" stroke-width="0.5" stroke-linejoin="round"/>
<path d="M181.7 703.7 L182.2 704.8 L182.5 706.1 L182.7 707.4 L182.8 708.7 L182.7 710.0 L182.4 711.2 L181.8 712.4 L181.3 713.6 L180.6 714.7 L179.6 715.6 L178.6 716.3 L177.3 716.8 L176.1 717.0 L174.8 717.1 L173.5 717.1 L172.3 716.5 L171.2 715.8 L170.5 714.7 L170.1 713.5 L170.1 712.2 L170.0 710.9 L171.3 711.2 L172.5 711.7 L173.4 712.6 L173.9 713.8 L173.9 715.1 L173.5 716.3 L172.8 717.4" fill="none" stroke="#b4b4b4" stroke-width="0.5" stroke-linejoin="round"/>
<path d="M178.5 700.2 L179.4 701.2 L179.8 699.9 L180.6 698.9 L181.6 698.1 L182.8 697.7 L183.7 696.7 L184.0 695.5 L184.2 694.2 L183.7 693.0 L182.6 692.2 L181.4 691.8 L180.1 691.8 L178.9 692.4 L178.1 693.5 L177.0 694.1 L175.7 694.1 L174.4 694.2 L173.1 693.9 L171.9 693.6 L170.7 692.9 L170.0 691.9 L169.5 690.7 L169.0 689.5 L168.8 688.2 L168.8 686.9 L169.0 685.6" fill="none" stroke="#b4b4b4" stroke-width="0.5" stroke-linejoin="round"/>
<path d="M134.7 689.8 L133.4 689.5 L132.2 689.1 L131.0 688.6 L129.7 688.4 L128.4 688.3 L127.2 688.7 L126.5 689.8 L126.5 691.1 L126.6 692.4 L127.3 693.5 L128.4 694.2 L129.7 694.2 L130.9 693.9 L132.1 693.3 L132.9 692.2 L133.7 691.2 L134.3 690.1 L134.5 688.8 L134.7 687.5 L135.2 686.3 L136.0 685.3 L137.0 684.5 L138.3 684.1 L139.4 683.6 L140.7 683.2 L142.0 683.3 L143.1 683.9 L144.2 684.6 L145.2 685.5 L146.5 685.7 L147.8 685.9 L149.1 685.7 L150.2 685.1 L151.0 684.1 L151.1 682.8 L151.3 681.5 L151.6 680.3" fill="none" stroke="#b4b4b4" stroke-width="0.5" stroke-linejoin="round"/>
<path d="M139.6 707.6 L140.7 706.8 L141.7 706.1 L143.0 705.8 L144.2 705.4 L145.5 705.1 L146.8 705.2 L148.1 705.3 L149.3 705.8 L150.5 706.3 L151.7 706.9 L152.7 707.6 L153.0 708.9 L153.8 709.9 L154.9 710.6 L156.2 710.7 L157.4 710.4 L158.7 710.0 L160.0 709.8 L161.3 709.8 L162.5 710.0 L163.8 710.1 L164.8 711.0 L165.4 712.2 L166.0 713.3 L166.1 714.6 L166.3 715.9" fill="none" stroke="#b4b4b4" stroke-width="0.5" stroke-linejoin="round"/>
<path d="M157.8 658.0 L157.1 656.9 L156.1 656.1 L154.9 655.5 L153.7 655.0 L152.4 655.1 L151.1 655.0 L149.8 654.7 L148.5 654.5 L147.2 654.4 L146.0 654.2 L144.7 654.1 L143.4 654.2 L142.1 654.1" fill="none" stroke="#b4b4b4" stroke-width="0.5" stroke-linejoin="round"/>
<path d="M200.0 665.0 L199.5 666.2 L199.2 667.4 L199.3 668.7 L199.6 670.0 L200.2 671.2 L200.9 672.3 L201.2 673.5 L201.2 674.8 L200.8 676.0 L199.9 676.9 L198.6 676.8 L197.3 676.4 L196.1 675.9 L195.3 674.9 L194.8 673.7" fill="none" stroke="#b4b4b4" stroke-width="0.5" stroke-linejoin="round"/>
<path d="M143.3 692.6 L143.5 693.8 L143.5 695.1 L143.9 696.4 L145.2 696.2 L146.5 696.5 L147.8 696.4 L149.0 696.0 L147.9 695.3 L146.6 694.9 L145.3 694.8 L145.6 693.5 L145.8 692.2 L145.9 690.9 L145.4 689.7 L144.6 688.6 L143.7 687.7" fill="none" stroke="#b4b4b4" stroke-width="0.5" stroke-linejoin="round"/>
<path d="M206.8 713.2 L206.2 712.1 L205.7 710.9 L204.4 711.1 L203.2 711.5 L201.9 711.5 L200.8 710.9 L199.7 710.2 L198.5 709.5 L197.5 708.7 L196.5 707.9 L195.5 707.1 L194.6 706.1 L194.0 705.0 L193.4 703.8 L192.9 702.6 L192.4 701.4 L191.8 700.3 L191.5 699.0 L191.2 697.8 L190.9 696.5 L190.4 695.3 L190.2 694.0 L190.1 692.7 L190.6 691.5 L191.6 690.7" fill="none" stroke="#b4b4b4" stroke-width="0.5" stroke-linejoin="round"/>
<path d="M160.5 696.3 L160.0 695.1 L159.6 693.9 L159.2 692.6 L159.0 691.4 L159.0 690.1 L158.9 688.8 L159.0 687.5 L159.3 686.2 L159.3 684.9 L159.3 683.6 L159.2 682.3 L159.1 681.0 L159.0 679.7 L159.2 678.4 L159.4 677.1 L159.5 675.8 L159.6 674.6 L160.3 673.5 L161.1 672.4 L162.0 671.5 L163.0 670.6 L164.0 669.8 L165.0 669.1 L166.1 668.3 L167.3 667.7 L168.4 667.2 L169.6 666.7 L170.8 666.1 L171.9 665.4 L173.2 665.2 L174.4 665.5 L175.6 666.1 L176.7 666.8 L177.8 667.5" fill="none" stroke="#b4b4b4" stroke-width="0.5" stroke-linejoin="round"/>
<path d="M182.7 692.9 L183.2 694.1 L183.4 695.4 L183.2 696.7 L182.7 697.9 L181.8 698.8 L180.6 699.2 L179.3 699.3 L178.1 698.9 L177.1 698.0 L176.7 696.7 L177.0 695.5 L177.4 694.2 L178.2 693.2 L179.2 692.4 L180.5 692.0 L181.8 692.2 L183.0 692.6 L184.2 693.0 L185.3 693.7 L186.2 694.7 L187.0 695.7" fill="none" stroke="#b4b4b4" stroke-width="0.5" stroke-linejoin="round"/>
<path d="M158.4 657.7 L158.9 658.9 L158.8 660.2 L158.3 661.4 L157.8 662.6 L157.0 663.6 L156.2 664.6 L155.2 665.5 L154.6 664.4 L153.9 663.3 L153.1 662.3 L152.4 661.1 L152.0 659.9 L151.5 658.7 L151.4 657.4 L151.6 656.1 L151.4 654.9 L150.8 653.7 L149.9 652.7 L148.7 652.2 L147.4 652.0 L146.2 652.3 L145.1 653.0 L144.2 653.9 L144.0 655.2 L144.4 656.4 L144.7 657.7 L145.0 659.0 L145.1 660.3 L145.6 661.5 L146.4 662.5 L147.6 663.0 L148.9 663.1 L150.2 662.9 L151.3 662.2 L152.2 661.3 L152.9 660.2 L153.0 658.9" fill="none" stroke="#b4b4b4" stroke-width="0.5" stroke-linejoin="round"/>
<path d="M142.5 683.9 L142.3 682.6 L141.5 681.5 L140.5 680.8 L139.4 680.1 L138.3 679.4 L137.0 679.0 L135.7 679.0 L134.5 678.9 L133.2 679.1 L132.0 679.7 L131.3 680.7 L131.3 682.0 L132.0 683.1 L132.9 684.1 L134.2 684.3 L135.4 683.9 L136.7 684.2 L137.7 685.0 L138.4 686.1 L138.6 687.4 L138.6 688.7 L138.2 689.9 L137.3 690.8 L136.2 691.5 L135.1 692.2 L133.8 692.6 L132.5 692.5 L131.2 692.5 L129.9 692.4 L128.6 692.2 L128.3 693.4 L128.3 694.7 L128.7 696.0 L129.0 697.2 L129.5 698.4 L130.2 699.6 L131.2 700.3 L132.3 699.6 L133.4 698.8" fill="none" stroke="#b4b4b4" stroke-width="0.5" stroke-linejoin="round"/>
<path d="M216.4 672.6 L215.3 672.0 L214.1 671.5 L212.8 671.2 L211.6 670.9 L210.3 670.6 L209.1 670.1 L209.9 669.1 L211.1 668.5 L212.3 668.2 L213.6 667.9 L214.9 667.9 L216.2 668.1 L217.4 668.6 L218.5 669.3 L219.5 670.1 L220.3 671.1 L220.7 672.4 L221.0 673.6 L221.2 674.9 L221.2 676.2 L220.9 677.5 L220.3 678.7 L219.3 679.5 L218.0 679.7" fill="none" stroke="#b4b4b4" stroke-width="0.5" stroke-linejoin="round"/>
<path d="M122.92 710.39 C121.81 709.11 120.91 707.32 120.30 705.25 C119.70 703.18 119.38 700.24 119.30 697.98 C119.22 695.73 119.55 693.78 119.80 691.73 C120.05 689.68 120.12 687.88 120.81 685.68 C121.49 683.47 122.55 681.61 123.92 678.51 C125.30 675.42 127.00 670.73 129.05 667.11 C131.09 663.50 133.27 659.92 136.18 656.82 C139.09 653.73 143.10 650.60 146.53 648.55 C149.96 646.50 153.21 645.46 156.78 644.51 C160.34 643.57 164.11 643.17 167.93 642.90 C171.75 642.63 175.77 642.61 179.69 642.90 C183.60 643.19 187.54 643.74 191.44 644.62 C195.34 645.49 199.20 646.57 203.10 648.15 C207.00 649.73 210.93 651.54 214.85 654.10 C218.77 656.65 223.09 660.34 226.61 663.48 C230.12 666.62 233.22 669.43 235.95 672.96 C238.68 676.49 241.31 680.87 242.99 684.67 C244.66 688.47 245.72 692.40 246.00 695.76 C246.28 699.13 245.48 702.41 244.69 704.84 C243.91 707.28 242.85 708.68 241.28 710.39 C239.70 712.11 237.59 713.87 235.25 715.13 C232.90 716.40 230.06 717.32 227.21 717.96 C224.36 718.60 220.51 718.75 218.17 718.97 C215.82 719.19 213.90 718.43 213.14 719.27 C212.39 720.11 213.85 722.36 213.65 724.01 C213.45 725.66 212.93 727.61 211.94 729.16 C210.95 730.70 209.61 732.25 207.72 733.29 C205.83 734.34 202.98 735.06 200.58 735.41 C198.19 735.77 195.58 735.73 193.35 735.41 C191.12 735.09 189.10 734.35 187.22 733.50 C185.35 732.64 183.81 731.60 182.10 730.27 C180.39 728.94 179.17 727.36 176.97 725.53 C174.78 723.69 171.78 721.00 168.94 719.27 C166.09 717.54 163.07 716.31 159.89 715.13 C156.71 713.96 153.19 712.91 149.84 712.21 C146.50 711.50 142.93 711.03 139.80 710.90 C136.67 710.76 133.20 711.07 131.06 711.40 C128.91 711.74 128.29 713.08 126.94 712.91 C125.58 712.75 124.02 711.67 122.92 710.39 Z" fill="none" stroke="#3a3a3a" stroke-width="0.75"/>
<path d="M126.94 712.91 C127.20 713.52 128.19 714.73 128.54 716.55 C128.90 718.36 128.63 721.41 129.05 723.81 C129.46 726.21 129.87 728.75 131.06 730.97 C132.24 733.19 133.95 735.23 136.18 737.13 C138.41 739.03 141.34 741.08 144.42 742.37 C147.50 743.67 151.75 744.39 154.67 744.90 C157.58 745.40 159.67 745.57 161.90 745.40 C164.13 745.23 166.16 744.91 168.03 743.89 C169.91 742.86 171.61 740.88 173.16 739.25 C174.70 737.61 175.90 735.82 177.27 734.10 C178.65 732.39 180.71 729.81 181.39 728.96" fill="none" stroke="#3a3a3a" stroke-width="0.75"/>
<path d="M163.91 719.67 C163.58 721.07 162.74 725.31 161.90 728.05 C161.06 730.79 159.74 733.56 158.89 736.12 C158.03 738.67 157.13 742.17 156.78 743.38" fill="none" stroke="#a8a8a8" stroke-width="0.45"/>
<path d="M171.15 730.97 C170.86 732.00 169.96 734.98 169.44 737.13 C168.92 739.28 168.27 742.76 168.03 743.89" fill="none" stroke="#a8a8a8" stroke-width="0.45"/>
<path d="M213.14 719.27 C212.81 718.04 212.14 714.14 211.13 711.91 C210.13 709.67 208.79 707.45 207.12 705.85 C205.44 704.26 202.09 702.91 201.09 702.32" fill="none" stroke="#a0a0a0" stroke-width="0.5"/>
<path d="M161.0 683.9h0M149.4 695.8h0M189.0 668.8h0M179.7 648.0h0M182.6 697.6h0M185.0 690.6h0M191.8 650.5h0M188.2 646.4h0M172.8 648.4h0M154.7 663.9h0M138.6 660.6h0M170.9 646.2h0M174.6 657.9h0M143.5 669.8h0M159.2 670.1h0M192.2 662.6h0M163.8 693.4h0M168.9 653.0h0M158.1 660.0h0M185.8 658.8h0M190.8 660.6h0M156.0 657.8h0M165.1 647.8h0M185.6 646.9h0M195.3 663.7h0M180.7 656.5h0M140.0 662.8h0M201.1 656.6h0M196.3 656.3h0M163.3 666.9h0M191.5 647.2h0M171.7 658.7h0M145.8 655.3h0M167.2 713.4h0M159.3 649.9h0M196.8 652.6h0M181.0 676.5h0M197.9 659.8h0M159.6 677.7h0M178.0 681.3h0M197.3 683.4h0M167.9 662.1h0M172.1 651.0h0M175.4 715.9h0M175.6 693.7h0M158.7 664.4h0M156.9 649.7h0M183.4 674.6h0M180.9 653.8h0M182.4 689.8h0M159.1 674.3h0M189.3 699.5h0M151.8 654.7h0M162.3 681.9h0M167.2 649.1h0M153.5 701.6h0" stroke="#86D79C" stroke-width="2.45" stroke-linecap="round" fill="none"/>
<path d="M229.9 683.3h0M224.9 713.4h0M224.3 687.3h0M210.1 722.8h0M241.2 699.2h0M199.7 731.3h0M180.6 673.3h0M230.6 706.4h0M218.8 695.3h0M229.0 674.4h0M234.6 679.4h0M208.3 672.9h0M228.3 711.9h0M214.9 659.5h0M218.0 688.5h0M190.4 715.4h0M225.3 678.3h0M178.2 669.5h0M233.7 703.2h0M179.2 698.4h0M214.0 694.3h0M205.6 661.4h0M230.2 677.1h0M146.4 671.3h0M163.0 708.1h0M197.7 700.0h0M162.7 705.7h0M212.8 688.7h0M216.7 681.1h0M191.9 697.0h0M185.2 680.8h0M189.6 727.4h0M205.8 673.9h0M163.0 687.9h0M214.6 711.4h0M205.1 727.4h0M226.5 690.4h0M156.9 675.9h0M163.2 678.7h0M200.3 728.8h0M208.8 706.5h0M200.4 662.9h0M217.5 707.9h0M205.4 701.3h0M191.4 732.3h0M184.1 721.3h0M234.7 706.9h0M156.1 652.5h0M125.2 687.1h0M220.3 703.9h0M131.8 680.4h0M203.6 695.3h0M218.8 714.6h0M220.9 716.5h0M165.0 705.0h0M178.5 712.2h0M235.9 685.7h0M237.5 689.5h0M212.5 713.1h0M217.0 672.2h0M228.0 700.3h0M238.2 700.9h0M215.5 667.7h0M214.9 704.6h0M229.3 669.4h0M210.4 656.1h0M221.9 711.3h0M167.5 671.5h0M160.0 705.6h0M225.0 695.1h0M186.7 724.7h0" stroke="#F5A548" stroke-width="2.45" stroke-linecap="round" fill="none"/>
<path d="M149.2 691.1h0M203.0 681.2h0M200.9 725.0h0M183.2 724.4h0M184.3 710.6h0M172.0 678.6h0M181.6 702.4h0M200.3 713.5h0M132.7 671.2h0M203.5 716.5h0M164.8 683.9h0M190.7 703.5h0M219.1 700.9h0M177.1 662.4h0M179.3 703.0h0M232.6 673.0h0M192.3 724.6h0M202.8 701.6h0M178.2 715.6h0M215.7 690.5h0M177.5 695.2h0M170.9 682.6h0M178.0 651.0h0M170.1 715.1h0M206.6 704.1h0M188.5 657.5h0M211.1 697.2h0M175.2 687.2h0M147.1 682.4h0M216.7 716.1h0M199.6 675.1h0M158.2 702.2h0M209.2 664.7h0M209.0 699.1h0M180.1 682.4h0M176.7 674.8h0M209.8 713.0h0M152.7 661.2h0" stroke="#E6EE84" stroke-width="2.45" stroke-linecap="round" fill="none"/>
<path d="M173.1 708.4h0M190.2 680.8h0M184.3 655.7h0M180.6 684.9h0M192.8 689.8h0M198.2 716.0h0M173.0 693.7h0M211.6 716.7h0M183.4 662.5h0M185.5 671.7h0M153.6 671.8h0M182.5 648.2h0M162.1 647.3h0M196.5 672.9h0M195.0 678.2h0M189.7 663.7h0M170.6 671.3h0M183.8 693.4h0M172.5 699.4h0M145.9 662.3h0M180.5 667.8h0M192.2 667.8h0M198.4 720.6h0M180.3 691.1h0M191.9 693.0h0M197.3 676.6h0M166.0 701.6h0M169.7 688.0h0M162.6 650.8h0M143.3 659.8h0M153.1 658.5h0M191.8 701.4h0M207.7 726.3h0M187.9 692.5h0M199.8 701.3h0M167.0 668.9h0M170.6 709.3h0M142.4 656.9h0M151.2 663.3h0M187.2 714.8h0M168.6 700.6h0M173.8 712.1h0" stroke="#BCE89B" stroke-width="2.45" stroke-linecap="round" fill="none"/>
<path d="M123.7 697.8h0M152.3 681.6h0M127.6 686.9h0M137.0 672.3h0M146.5 689.5h0M152.1 695.8h0M129.4 688.8h0M129.7 708.6h0M155.6 686.9h0M137.6 685.8h0M126.9 698.8h0M132.1 692.2h0M133.5 688.6h0M148.1 679.5h0M127.6 706.4h0M133.3 709.6h0M147.5 686.5h0M128.5 703.2h0M149.6 700.1h0M126.7 694.4h0M140.8 675.3h0M123.0 702.8h0M124.0 694.5h0M124.4 706.0h0M155.6 692.1h0M143.2 694.1h0M176.7 671.5h0M137.1 706.0h0M141.4 705.4h0M171.0 712.9h0M141.3 699.3h0M132.5 698.2h0M144.4 674.7h0M130.2 696.9h0M191.1 687.0h0M154.7 682.2h0M138.1 675.1h0M142.4 696.5h0M145.2 696.7h0M189.9 684.2h0M196.6 724.1h0M198.3 707.8h0M125.9 681.8h0M134.3 682.7h0M148.1 661.7h0M185.0 666.2h0M131.5 674.4h0M153.8 708.1h0M186.6 705.6h0M179.1 665.9h0M186.6 696.8h0M136.2 680.6h0M140.5 689.0h0M129.4 692.9h0M164.7 671.0h0M122.6 700.4h0M125.7 690.5h0M186.1 675.6h0M188.6 689.5h0M151.7 690.0h0M183.5 684.1h0M144.6 705.4h0" stroke="#3DA6AA" stroke-width="2.45" stroke-linecap="round" fill="none"/>
<path d="M187.1 679.2h0M227.8 677.3h0M237.6 695.0h0M235.3 690.2h0M223.5 697.0h0M181.8 694.9h0M210.2 691.6h0M205.4 654.1h0M188.8 673.8h0M164.4 713.7h0M207.8 690.6h0M192.7 676.3h0M218.4 663.7h0M216.2 684.6h0M224.4 691.5h0M222.2 676.9h0M177.1 702.2h0M148.9 652.6h0M221.5 687.4h0M149.6 656.9h0M219.1 684.1h0M214.6 701.6h0M240.9 688.2h0M200.2 689.7h0M204.1 683.8h0M219.5 670.1h0M200.6 687.2h0M199.8 704.6h0M220.8 696.9h0M224.8 676.0h0M219.9 667.6h0M212.6 685.6h0M196.4 689.8h0M152.3 668.6h0M168.7 697.6h0M226.9 698.1h0M158.4 696.2h0M237.6 705.2h0M135.9 668.0h0M230.6 689.0h0M231.6 713.4h0M231.2 695.4h0M212.2 680.5h0M210.9 660.3h0M173.5 672.5h0M227.3 709.6h0M224.4 699.4h0M216.5 697.5h0" stroke="#E8593A" stroke-width="2.45" stroke-linecap="round" fill="none"/>
<path d="M180.4 710.1h0M204.6 712.5h0M193.0 712.9h0M182.8 713.6h0M195.2 708.8h0M180.4 726.3h0M210.1 709.5h0M194.3 722.3h0M203.2 719.5h0M200.5 716.8h0M187.2 710.1h0M195.9 713.0h0M204.6 708.5h0" stroke="#EEF29A" stroke-width="2.45" stroke-linecap="round" fill="none"/>
<path d="M189.90 653.70 L134.85 693.87" stroke="#BC1F29" stroke-width="1.3" fill="none" stroke-linecap="round"/><path d="M131.80 696.10 L134.69 690.90 L137.64 694.94 Z" fill="#BC1F29"/>
<path d="M178.10 677.40 L135.56 672.90" stroke="#BC1F29" stroke-width="1.3" fill="none" stroke-linecap="round"/><path d="M131.80 672.50 L137.43 670.58 L136.91 675.55 Z" fill="#BC1F29"/>
<path d="M193.80 685.30 L148.20 670.66" stroke="#BC1F29" stroke-width="1.3" fill="none" stroke-linecap="round"/><path d="M144.60 669.50 L150.51 668.77 L148.98 673.53 Z" fill="#BC1F29"/>
<path d="M227.30 708.90 L178.14 672.74" stroke="#BC1F29" stroke-width="1.3" fill="none" stroke-linecap="round"/><path d="M175.10 670.50 L180.93 671.69 L177.97 675.71 Z" fill="#BC1F29"/>
<path d="M149.50 698.10 L207.60 713.80" stroke="#BC1F29" stroke-width="1.3" fill="none" stroke-linecap="round"/>
<path d="M152.40 695.10 L170.38 698.41" stroke="#BC1F29" stroke-width="1.3" fill="none" stroke-linecap="round"/><path d="M174.10 699.10 L168.34 700.58 L169.24 695.66 Z" fill="#BC1F29"/>
<path d="M162.30 699.10 L171.88 693.19" stroke="#BC1F29" stroke-width="1.3" fill="none" stroke-linecap="round"/><path d="M175.10 691.20 L171.82 696.16 L169.19 691.91 Z" fill="#BC1F29"/>
<path d="M182.00 712.90 L182.00 715.02" stroke="#BC1F29" stroke-width="1.3" fill="none" stroke-linecap="round"/><path d="M182.00 718.80 L179.50 713.40 L184.50 713.40 Z" fill="#BC1F29"/>
<path d="M338.3 668.5 L337.3 667.5 L336.6 666.5 L336.2 665.2 L336.2 663.9 L336.7 662.7 L337.5 661.7 L338.5 660.9 L339.8 660.5" fill="none" stroke="#b4b4b4" stroke-width="0.5" stroke-linejoin="round"/>
<path d="M326.5 718.8 L327.5 719.6 L328.5 720.5 L329.5 721.3 L330.3 722.4 L331.1 723.4 L332.2 724.0 L333.4 724.6 L334.6 725.1 L335.9 724.8 L337.0 724.2 L337.6 723.1 L337.7 721.8 L337.4 720.5 L336.8 719.4 L335.9 718.5 L334.6 718.0 L333.4 717.6 L332.1 717.7 L330.9 718.1 L330.0 719.1 L329.5 720.3 L329.0 721.5 L329.0 722.8 L329.6 723.9 L330.4 725.0 L331.3 725.9 L332.4 726.6 L333.7 726.9 L334.9 727.3 L336.2 727.6" fill="none" stroke="#b4b4b4" stroke-width="0.5" stroke-linejoin="round"/>
<path d="M337.6 693.4 L338.9 693.4 L340.1 693.0 L341.4 692.6 L342.6 692.2 L343.9 692.1 L345.2 691.8 L346.5 691.6 L347.8 691.5" fill="none" stroke="#b4b4b4" stroke-width="0.5" stroke-linejoin="round"/>
<path d="M324.4 690.5 L323.5 691.5 L322.7 692.5 L321.8 693.4 L321.0 694.5 L320.2 695.5 L319.4 696.5 L318.4 697.4 L317.7 698.4 L317.4 699.7 L316.9 700.9 L316.4 702.1 L315.7 703.2 L314.8 704.2 L313.9 705.1 L312.9 705.8 L311.6 706.2 L310.5 706.8 L309.4 707.5 L308.5 708.5 L307.9 709.6 L307.5 710.9 L306.2 710.4 L305.3 709.5 L305.0 708.3 L304.6 707.0" fill="none" stroke="#b4b4b4" stroke-width="0.5" stroke-linejoin="round"/>
<path d="M314.3 676.7 L315.5 677.1 L316.8 677.3 L318.1 677.4 L319.3 677.8 L320.5 678.3 L321.8 678.0 L322.5 676.9 L323.0 675.7 L322.8 674.4 L322.0 673.4 L320.8 672.9 L319.5 673.0 L318.2 672.7 L316.9 672.9 L315.6 672.8 L314.5 672.1 L313.9 670.9 L314.2 669.7 L314.7 668.5 L315.5 667.4" fill="none" stroke="#b4b4b4" stroke-width="0.5" stroke-linejoin="round"/>
<path d="M331.6 689.2 L330.4 689.9 L329.3 690.4 L329.3 691.7 L328.8 692.9 L327.8 693.7 L326.5 694.0 L325.3 693.5 L324.6 692.4 L323.3 692.4 L322.0 692.3 L320.7 692.1 L319.4 691.9 L318.1 691.7 L316.9 691.3 L315.6 691.0 L314.4 690.6 L313.1 690.4 L311.8 690.6 L310.6 690.3" fill="none" stroke="#b4b4b4" stroke-width="0.5" stroke-linejoin="round"/>
<path d="M296.7 731.2 L295.6 731.8 L294.5 732.5 L293.3 733.1 L292.2 733.7 L290.9 734.0 L289.6 734.2 L288.3 734.2 L287.0 734.0 L285.8 733.8 L284.6 733.3 L283.3 732.9 L282.1 732.5 L281.2 731.5 L280.2 730.7 L279.3 729.8 L278.7 728.6 L278.7 727.3 L278.5 726.0 L277.9 724.9 L276.7 724.4 L275.4 724.1 L274.1 724.4 L273.2 725.2 L272.3 726.2 L272.3 727.5 L272.8 728.7 L273.8 729.6 L275.0 729.9 L276.3 729.7 L277.1 730.7 L278.3 731.1 L279.6 730.9 L280.7 730.2 L281.3 729.0" fill="none" stroke="#b4b4b4" stroke-width="0.5" stroke-linejoin="round"/>
<path d="M290.2 752.8 L289.0 752.2 L288.0 751.4 L287.0 750.5 L286.0 749.7 L285.3 748.6 L284.7 747.4 L284.3 746.2 L284.2 744.9 L282.9 745.1 L281.7 745.3 L280.4 745.0 L279.1 744.6 L278.3 743.6 L277.5 742.6 L276.9 741.4 L276.2 740.3 L275.7 739.1 L275.4 737.9 L275.1 736.6 L274.7 735.4 L273.9 734.3 L272.9 733.5 L271.8 732.9 L270.5 732.7 L269.4 732.0 L268.2 732.4 L266.9 732.6 L265.6 732.4 L266.4 731.4 L266.7 730.1 L266.8 728.8" fill="none" stroke="#b4b4b4" stroke-width="0.5" stroke-linejoin="round"/>
<path d="M317.0 680.5 L317.4 681.7 L318.2 682.8 L319.1 683.7 L320.0 684.7 L321.1 685.3 L322.4 685.4 L323.7 685.3 L325.0 685.4 L326.3 685.3 L327.6 685.0 L328.8 684.5 L329.9 683.9 L330.8 683.0 L331.9 682.2 L332.4 681.0 L331.2 680.5 L329.9 680.4 L328.6 680.4 L327.3 680.8 L326.2 681.4 L325.2 682.3 L324.5 683.3" fill="none" stroke="#b4b4b4" stroke-width="0.5" stroke-linejoin="round"/>
<path d="M314.1 665.6 L314.6 664.4 L315.2 663.2 L315.8 662.1 L316.6 661.0 L317.4 660.0 L318.4 659.1 L319.1 658.0 L319.7 656.9 L320.2 655.7 L320.4 654.4 L320.3 653.1 L319.6 652.1 L318.3 651.7 L317.0 651.8" fill="none" stroke="#b4b4b4" stroke-width="0.5" stroke-linejoin="round"/>
<path d="M278.9 694.4 L279.0 695.7 L279.1 697.0 L279.3 698.3 L279.5 699.6 L278.2 699.4 L276.9 699.6 L275.8 700.1 L274.8 701.0 L274.0 702.0 L273.5 703.2 L273.3 704.5 L273.2 705.8 L273.6 707.0 L274.3 708.2 L275.3 708.9 L276.4 709.6 L277.7 710.0" fill="none" stroke="#b4b4b4" stroke-width="0.5" stroke-linejoin="round"/>
<path d="M264.2 701.3 L263.0 700.8 L262.0 699.9 L261.6 698.7 L261.2 697.4 L261.5 696.1 L261.8 694.9 L262.2 693.7 L262.9 692.5 L263.8 691.6 L264.9 690.9 L266.1 690.4 L267.3 690.0 L268.5 689.5 L269.4 688.5 L269.6 687.3 L269.4 686.0 L268.5 685.0 L267.3 684.6 L266.0 684.6 L264.8 685.1 L263.9 686.1 L263.7 687.3 L264.4 688.5 L265.5 689.1 L266.8 688.8 L268.1 688.7 L269.4 688.4 L270.6 688.2" fill="none" stroke="#b4b4b4" stroke-width="0.5" stroke-linejoin="round"/>
<path d="M302.8 711.6 L303.0 710.3 L303.0 709.0 L303.0 707.7 L302.8 706.4 L302.4 705.2 L301.8 704.0 L300.8 703.2 L299.5 703.0 L298.2 702.8 L296.9 702.9 L295.7 703.1 L294.4 703.2 L293.1 703.5 L291.9 703.8 L290.6 704.0 L289.3 704.0 L288.0 704.0 L288.4 705.2 L288.8 706.5 L289.0 707.7 L289.2 709.0 L289.2 710.3" fill="none" stroke="#b4b4b4" stroke-width="0.5" stroke-linejoin="round"/>
<path d="M334.8 682.7 L335.9 683.4 L337.1 683.8 L338.1 684.7 L338.9 685.7 L339.6 686.8 L339.6 688.1 L339.2 689.3 L339.0 690.6 L339.2 691.9 L339.8 693.0 L340.5 694.1 L341.1 695.3 L342.0 696.2 L343.2 696.6" fill="none" stroke="#b4b4b4" stroke-width="0.5" stroke-linejoin="round"/>
<path d="M297.6 741.7 L296.3 741.4 L295.0 741.4 L293.8 740.9 L292.6 740.4 L291.6 739.6 L290.6 738.7 L290.0 737.6 L289.9 736.3 L291.1 736.7 L292.4 736.7 L293.6 736.1 L294.5 735.2 L295.1 734.0 L295.3 732.7 L296.5 732.3 L297.4 731.3 L297.6 730.1 L298.8 729.5 L299.6 728.6 L300.3 727.5 L300.7 726.2 L300.5 724.9 L301.8 725.0 L303.1 724.9 L304.2 724.2 L305.0 723.2 L305.4 721.9 L305.7 720.7 L306.0 719.4 L305.8 718.1 L305.2 717.0 L304.3 716.0 L303.2 715.3 L301.9 715.2 L300.7 715.4 L299.6 716.3" fill="none" stroke="#b4b4b4" stroke-width="0.5" stroke-linejoin="round"/>
<path d="M290.1 707.2 L289.4 706.1 L288.5 705.2 L287.4 704.4 L286.2 703.8 L285.0 703.4 L283.8 703.1 L282.5 703.1 L281.2 703.4 L280.0 703.9 L278.9 704.7 L277.7 705.2 L276.6 705.9 L275.4 706.3 L274.1 706.6 L272.8 706.8 L271.6 706.6 L270.3 706.4 L269.0 706.0 L267.8 705.7 L266.5 705.4 L265.3 705.8 L264.1 706.4 L263.0 707.0 L261.8 707.5 L260.6 708.0 L259.4 708.5 L258.2 709.0 L257.1 709.7" fill="none" stroke="#b4b4b4" stroke-width="0.5" stroke-linejoin="round"/>
<path d="M281.5 688.3 L281.3 689.6 L281.2 690.9 L281.0 692.2 L280.6 693.4 L280.5 694.7 L280.9 696.0 L281.8 696.9 L282.3 698.1 L282.6 699.4 L282.8 700.6 L282.6 701.9 L282.4 703.2 L282.1 704.5 L281.7 705.7 L281.1 706.9 L280.2 707.8 L279.2 708.6 L278.1 709.3 L277.0 710.0 L275.7 710.3 L274.5 710.6 L273.2 710.9 L271.9 710.8 L270.6 710.4 L269.4 710.0 L268.1 710.3 L269.3 710.9 L270.6 711.0 L271.7 710.4 L272.3 709.2 L272.5 708.0 L272.5 706.7 L271.8 705.5 L270.8 704.8" fill="none" stroke="#b4b4b4" stroke-width="0.5" stroke-linejoin="round"/>
<path d="M267.5 668.7 L268.8 668.5 L270.1 668.3 L271.4 668.1 L272.4 667.4 L273.4 666.5 L274.3 665.6 L274.8 664.4 L274.8 663.1 L274.5 661.8 L273.6 660.9 L272.4 660.3 L271.1 660.2 L269.8 660.5 L268.9 661.3 L268.0 662.3 L267.3 663.4 L267.5 664.7 L268.2 665.8 L269.2 666.5 L270.4 667.0 L271.7 666.8 L272.9 666.4 L273.8 665.5 L274.2 664.2 L273.9 662.9 L273.2 661.8 L272.3 660.9 L271.1 660.2 L269.9 660.1 L268.6 660.3 L267.5 661.0 L266.4 661.7 L265.3 662.4" fill="none" stroke="#b4b4b4" stroke-width="0.5" stroke-linejoin="round"/>
<path d="M280.7 677.0 L280.3 678.3 L279.7 679.5 L279.0 680.5 L278.1 681.5 L277.2 682.4 L276.3 683.3 L275.3 684.2 L274.1 684.7 L273.1 685.5 L272.6 686.7 L273.0 687.9 L273.7 689.0 L274.7 689.9 L275.9 690.3 L277.2 690.0 L278.3 689.3 L278.9 688.1 L279.2 686.9 L279.1 685.6 L278.5 684.5 L277.4 683.8 L276.1 683.3 L274.9 683.7 L273.8 684.5" fill="none" stroke="#b4b4b4" stroke-width="0.5" stroke-linejoin="round"/>
<path d="M315.5 694.8 L314.5 695.6 L313.7 696.6 L312.7 697.5 L311.8 698.4 L310.9 699.3 L309.9 700.2 L308.9 700.9 L308.0 701.9 L307.3 703.0 L306.6 704.1 L306.2 705.3 L306.4 706.6 L306.5 707.9 L306.4 709.2 L306.1 710.5 L305.8 711.7 L305.7 713.0 L306.0 714.3" fill="none" stroke="#b4b4b4" stroke-width="0.5" stroke-linejoin="round"/>
<path d="M329.7 719.2 L328.5 718.9 L327.2 718.9 L325.9 718.9 L324.7 719.4 L323.5 720.1 L322.5 720.8 L321.7 721.9 L321.1 723.0 L320.4 724.1 L319.6 725.1 L318.7 726.0 L317.8 727.0 L317.3 725.8 L316.8 724.6 L316.3 723.4 L315.8 722.1 L315.3 721.0 L314.7 719.8 L314.2 718.6 L313.6 717.5 L312.9 716.3 L312.3 715.2 L311.8 714.0 L311.5 712.8" fill="none" stroke="#b4b4b4" stroke-width="0.5" stroke-linejoin="round"/>
<path d="M317.3 717.6 L316.0 718.0 L314.7 718.3 L313.6 718.9 L312.4 719.5 L311.4 718.6 L310.4 717.8 L309.7 716.7 L308.8 715.8 L307.8 714.9 L307.0 713.9 L306.6 712.7 L306.5 711.4 L306.8 710.1 L307.4 708.9 L307.9 707.7 L308.7 706.7 L309.7 705.9 L310.9 705.3 L312.2 705.5 L313.5 705.7 L314.8 705.8 L316.0 706.1 L317.1 706.9 L318.2 707.6 L319.1 708.6 L319.5 709.8 L319.9 711.0 L320.4 712.2 L321.3 713.1 L322.5 713.6 L323.8 713.3 L324.8 712.4 L325.4 711.3 L326.3 710.4 L327.4 709.7 L328.5 709.0 L329.1 707.9 L329.2 706.6 L329.0 705.3" fill="none" stroke="#b4b4b4" stroke-width="0.5" stroke-linejoin="round"/>
<path d="M295.1 714.2 L294.1 715.0 L293.0 715.8 L291.9 716.4 L291.0 717.3 L290.3 718.4 L289.7 719.6 L289.3 720.8 L289.0 722.1 L290.3 722.0 L291.6 721.7 L292.8 721.4 L293.9 720.7 L295.0 720.0 L296.2 719.4 L297.4 718.9 L298.5 718.3 L299.8 718.0 L301.1 718.0 L302.3 718.6 L303.4 719.3 L304.3 720.2 L305.5 720.6 L306.7 720.1 L307.8 719.4 L308.6 718.3 L308.7 717.0" fill="none" stroke="#b4b4b4" stroke-width="0.5" stroke-linejoin="round"/>
<path d="M337.6 706.1 L336.6 707.0 L335.5 707.7 L334.3 708.1 L333.0 708.4 L331.9 709.0 L330.8 709.7 L329.5 710.0 L328.2 710.2 L327.0 710.1 L326.0 709.2 L325.3 708.1 L325.0 706.9 L325.1 705.6 L325.5 704.3 L326.5 703.5 L327.7 702.9 L329.0 702.8 L330.1 703.3 L331.0 704.3 L331.8 705.3 L332.4 706.4 L332.8 707.7 L332.8 709.0" fill="none" stroke="#b4b4b4" stroke-width="0.5" stroke-linejoin="round"/>
<path d="M316.9 680.5 L316.4 679.3 L315.9 678.1 L315.6 676.8 L315.3 675.6 L315.2 674.3 L315.0 673.0 L314.8 671.7 L315.4 670.6 L316.1 669.5 L317.2 668.7 L317.8 669.9 L318.0 671.1 L317.8 672.4 L317.5 673.7 L316.8 674.8 L316.0 675.8 L314.8 676.3 L313.5 676.1 L312.3 675.6 L311.4 674.7 L310.8 673.6 L310.6 672.3 L310.9 671.0 L311.1 669.7 L311.2 668.4 L311.0 667.1 L310.6 665.9 L310.1 664.7 L309.6 663.5" fill="none" stroke="#b4b4b4" stroke-width="0.5" stroke-linejoin="round"/>
<path d="M309.3 651.1 L310.2 652.1 L311.0 653.1 L311.3 654.4 L311.5 655.7 L311.1 656.9 L310.4 658.0 L309.8 659.1 L309.5 660.4 L309.1 661.6 L309.0 662.9 L308.3 664.0 L307.1 664.7 L305.8 664.7 L304.7 664.2" fill="none" stroke="#b4b4b4" stroke-width="0.5" stroke-linejoin="round"/>
<path d="M334.4 676.6 L333.4 675.8 L332.1 675.4 L330.8 675.3 L329.6 675.5 L328.6 676.4 L329.5 677.2 L330.7 677.8 L331.5 678.8 L332.0 680.0 L332.0 681.3 L331.6 682.6 L330.9 683.7 L330.4 684.9 L329.7 686.0 L329.3 687.2 L329.1 688.5 L329.3 689.8 L329.9 690.9 L330.8 691.9 L331.9 692.5 L333.2 692.7 L334.5 692.4 L335.5 691.6 L336.1 690.4 L336.2 689.1 L336.2 687.8 L336.6 686.6" fill="none" stroke="#b4b4b4" stroke-width="0.5" stroke-linejoin="round"/>
<path d="M282.2 691.2 L282.9 692.3 L283.6 693.3 L282.5 694.0 L281.3 694.6 L280.0 694.5 L278.8 694.3 L277.5 693.9 L276.6 692.9 L276.2 691.7 L275.9 690.4 L276.0 689.1 L277.2 689.7 L278.1 690.7 L278.4 691.9 L278.3 693.2 L278.1 694.5 L277.2 695.4" fill="none" stroke="#b4b4b4" stroke-width="0.5" stroke-linejoin="round"/>
<path d="M331.6 696.5 L330.8 695.4 L329.7 694.7 L328.6 694.1 L327.5 693.4 L326.2 693.1 L325.0 693.4 L324.3 692.3 L323.5 691.3 L322.5 690.5 L321.3 689.9 L320.0 689.8 L318.7 689.6 L317.4 689.8 L316.1 689.7 L314.8 689.7 L313.5 689.6 L312.2 689.6 L310.9 689.8 L309.7 690.0 L308.4 690.2 L307.1 690.5 L305.9 690.9 L304.6 691.1 L303.4 691.7 L302.3 692.2 L301.2 693.0 L300.1 693.7 L299.0 694.3 L298.3 695.5 L298.3 696.8 L297.0 696.9 L295.8 697.5 L294.9 696.6 L293.7 696.1 L292.4 695.7 L292.0 696.9 L292.1 698.2 L292.5 699.5" fill="none" stroke="#b4b4b4" stroke-width="0.5" stroke-linejoin="round"/>
<path d="M258.1 706.9 L258.8 708.0 L259.5 709.1 L260.2 710.2 L260.4 711.5 L260.8 712.7 L260.8 714.0 L261.1 715.3 L261.7 716.4 L262.5 717.5 L263.1 718.6 L263.7 719.8 L264.6 720.8 L265.3 721.8 L266.2 722.8 L267.0 723.8 L267.7 724.9 L268.6 725.8 L269.6 726.6 L270.6 727.5 L271.5 728.4" fill="none" stroke="#b4b4b4" stroke-width="0.5" stroke-linejoin="round"/>
<path d="M278.6 672.9 L277.6 672.1 L276.7 671.1 L276.1 670.0 L275.3 668.9 L274.5 667.9 L273.5 667.1 L272.5 666.3 L271.6 665.3 L270.7 664.4 L269.6 663.7 L268.6 662.9 L267.4 662.3 L266.3 661.6 L265.2 660.9 L264.0 660.6" fill="none" stroke="#b4b4b4" stroke-width="0.5" stroke-linejoin="round"/>
<path d="M282.5 720.4 L281.7 719.4 L281.2 718.2 L280.3 717.3 L279.0 717.3 L277.9 718.1 L276.9 718.8 L275.8 718.2 L274.5 718.3 L273.3 719.0 L272.5 720.0 L271.8 721.1 L271.6 722.4 L271.6 723.7 L272.3 724.8 L273.3 725.6 L274.6 725.7 L275.9 725.4 L276.9 724.6 L277.5 723.5 L277.6 722.2 L277.4 720.9 L276.7 719.8 L275.6 719.2 L274.4 718.7 L273.1 718.3" fill="none" stroke="#b4b4b4" stroke-width="0.5" stroke-linejoin="round"/>
<path d="M320.3 743.0 L319.2 742.2 L318.1 741.6 L316.9 741.0 L315.8 740.3 L314.7 739.7 L313.4 739.4 L312.1 739.6 L310.8 739.8 L309.8 740.5 L308.5 740.8 L307.2 740.9 L305.9 740.6 L304.7 740.2 L303.4 739.9 L302.3 739.2 L301.2 738.5 L300.2 737.7 L299.2 737.0 L298.2 736.1 L297.5 735.0 L297.0 733.8 L296.7 732.5 L296.6 731.2 L296.7 729.9 L297.1 728.7 L297.6 727.5 L298.2 726.3 L299.0 725.4 L298.0 724.6" fill="none" stroke="#b4b4b4" stroke-width="0.5" stroke-linejoin="round"/>
<path d="M288.7 715.8 L288.8 714.5 L288.4 713.2 L287.8 712.1 L287.7 710.8 L287.6 709.5 L287.2 708.2 L286.8 707.0 L286.4 705.8 L286.4 704.5 L286.1 703.2 L285.7 702.0 L284.9 700.9 L283.9 700.1 L283.0 699.2 L281.8 698.7 L280.6 698.2 L279.3 697.9 L278.0 698.2 L277.1 699.1 L276.3 700.1 L275.9 701.3 L275.0 702.3 L273.8 702.8 L272.6 703.1 L271.3 702.7" fill="none" stroke="#b4b4b4" stroke-width="0.5" stroke-linejoin="round"/>
<path d="M262.2 674.6 L263.1 675.6 L264.0 676.5 L264.5 677.7 L264.8 679.0 L265.3 680.2 L264.9 681.4 L265.1 682.7 L265.3 684.0 L264.0 684.0 L262.8 684.6 L261.7 685.3 L260.8 686.2 L259.8 687.0 L259.1 688.1 L258.7 689.3 L258.4 690.6 L258.5 691.9 L259.1 693.1" fill="none" stroke="#b4b4b4" stroke-width="0.5" stroke-linejoin="round"/>
<path d="M298.1 741.5 L298.7 740.3 L299.3 739.2 L299.6 737.9 L300.0 736.7 L300.2 735.4 L300.7 734.2 L301.3 733.0 L301.8 731.8 L301.9 730.5 L302.2 729.2 L302.5 728.0 L303.1 726.8 L303.0 725.5 L302.6 724.3 L302.4 723.0 L302.2 721.7 L301.6 720.5 L301.1 719.3" fill="none" stroke="#b4b4b4" stroke-width="0.5" stroke-linejoin="round"/>
<path d="M287.7 713.4 L287.4 712.2 L288.7 712.3 L290.0 712.7 L291.2 713.0 L292.5 713.4 L292.3 712.1 L292.1 710.9 L292.4 709.6 L292.8 708.4 L293.6 707.3 L294.1 706.1 L294.6 704.9 L294.9 703.7 L293.8 702.8 L292.7 702.2 L291.5 701.7 L290.2 701.6 L288.9 701.5 L287.6 701.6 L286.3 701.7" fill="none" stroke="#b4b4b4" stroke-width="0.5" stroke-linejoin="round"/>
<path d="M326.9 663.0 L327.5 664.2 L327.8 665.5 L327.8 666.8 L328.9 667.4 L330.0 668.1 L330.9 669.1 L331.3 670.3 L331.4 671.6 L331.0 672.8 L329.9 673.5 L328.6 673.5 L327.5 672.8 L326.8 671.7 L326.5 670.4 L326.6 669.1 L327.3 668.0 L328.3 667.1 L329.3 666.4 L328.3 665.6 L327.3 664.8 L326.3 664.0 L325.2 663.2 L324.1 662.6 L322.8 662.4 L321.5 662.4 L320.2 662.8 L319.4 663.8 L319.1 665.0 L319.0 666.3 L319.3 667.6 L320.0 668.7 L321.1 669.4 L321.7 668.2" fill="none" stroke="#b4b4b4" stroke-width="0.5" stroke-linejoin="round"/>
<path d="M302.45 634.53 C300.81 634.53 299.24 633.46 297.52 633.21 C295.79 632.95 294.14 632.82 292.09 633.00 C290.03 633.19 287.48 633.51 285.18 634.33 C282.88 635.14 280.43 636.55 278.27 637.89 C276.12 639.23 274.13 640.43 272.26 642.37 C270.38 644.30 268.61 646.81 267.03 649.49 C265.45 652.18 264.07 655.33 262.78 658.45 C261.50 661.58 260.35 664.97 259.33 668.23 C258.31 671.48 257.39 674.44 256.67 678.00 C255.94 681.56 255.38 686.20 254.99 689.61 C254.59 693.02 254.38 695.49 254.30 698.46 C254.22 701.43 254.23 704.45 254.49 707.42 C254.76 710.39 255.22 713.31 255.88 716.28 C256.53 719.25 257.29 722.27 258.44 725.24 C259.59 728.21 261.06 731.28 262.78 734.10 C264.51 736.91 266.50 739.61 268.80 742.14 C271.10 744.67 273.87 747.18 276.60 749.26 C279.33 751.35 282.30 753.39 285.18 754.66 C288.06 755.93 291.56 756.59 293.87 756.90 C296.17 757.21 297.57 756.80 299.00 756.49 C300.43 756.19 301.30 755.07 302.45 755.07 C303.60 755.07 304.47 756.19 305.90 756.49 C307.33 756.80 308.73 757.21 311.03 756.90 C313.34 756.59 316.84 755.93 319.72 754.66 C322.60 753.39 325.57 751.35 328.30 749.26 C331.03 747.18 333.80 744.67 336.10 742.14 C338.40 739.61 340.39 736.91 342.12 734.10 C343.84 731.28 345.31 728.21 346.46 725.24 C347.61 722.27 348.37 719.25 349.02 716.28 C349.68 713.31 350.14 710.39 350.41 707.42 C350.67 704.45 350.68 701.43 350.60 698.46 C350.52 695.49 350.31 693.02 349.91 689.61 C349.52 686.20 348.96 681.56 348.23 678.00 C347.51 674.44 346.59 671.48 345.57 668.23 C344.55 664.97 343.40 661.58 342.12 658.45 C340.83 655.33 339.45 652.18 337.87 649.49 C336.30 646.81 334.52 644.30 332.64 642.37 C330.77 640.43 328.78 639.23 326.62 637.89 C324.47 636.55 322.02 635.14 319.72 634.33 C317.42 633.51 314.87 633.19 312.81 633.00 C310.76 632.82 309.11 632.95 307.38 633.21 C305.66 633.46 304.09 634.53 302.45 634.53 Z" fill="none" stroke="#3a3a3a" stroke-width="0.75"/>
<path d="M300.6 635.1 L300.5 667.9 L300.6 718.8 L301.0 755.3 L304.5 755.3 L304.3 718.8 L304.1 667.9 L304.1 635.1 Z" fill="#f3f3f3" stroke="none"/>
<path d="M300.58 635.14 C300.56 640.60 300.48 653.97 300.48 667.92 C300.48 681.87 300.49 704.27 300.58 718.82 C300.66 733.38 300.90 749.20 300.97 755.27" fill="none" stroke="#8a8a8a" stroke-width="0.55"/>
<path d="M304.13 635.14 C304.13 640.60 304.09 653.97 304.13 667.92 C304.16 681.87 304.26 704.27 304.32 718.82 C304.39 733.38 304.49 749.20 304.52 755.27" fill="none" stroke="#8a8a8a" stroke-width="0.55"/>
<path d="M284.2 729.4h0M297.7 721.9h0M293.6 738.4h0M288.6 724.1h0M301.7 723.0h0M290.2 734.7h0M342.4 719.7h0M299.9 746.8h0M305.2 741.7h0M337.0 693.2h0M304.0 720.5h0M275.9 739.4h0M320.7 739.2h0M310.4 730.3h0M279.3 724.6h0M323.2 717.7h0M265.2 715.3h0M330.3 730.4h0M310.7 736.1h0M306.1 678.3h0M281.5 728.4h0M275.0 717.0h0M277.0 737.1h0M320.3 732.6h0M321.2 741.8h0M304.5 737.0h0M282.2 732.1h0M305.1 723.7h0M294.9 746.0h0M338.5 715.2h0M301.6 743.3h0M290.1 721.0h0M325.8 676.4h0M327.4 741.4h0M315.0 752.8h0M272.8 726.4h0M269.9 735.9h0M283.0 720.1h0M267.8 685.5h0M314.0 733.1h0M279.0 691.4h0M338.2 720.4h0M336.4 718.7h0M278.0 732.8h0M296.8 735.6h0M334.6 721.5h0M276.7 730.8h0M300.8 715.8h0M278.9 696.9h0M287.9 749.9h0M268.4 716.8h0M309.9 747.9h0M286.9 729.3h0M278.4 740.5h0M331.9 740.5h0M263.8 709.3h0M309.5 739.5h0M271.7 740.1h0M274.7 744.5h0M260.4 717.9h0M288.2 744.2h0M305.1 728.4h0M319.4 748.7h0M331.0 718.9h0M302.6 726.1h0M335.5 730.6h0M275.2 676.0h0M311.1 745.2h0M308.7 731.9h0" stroke="#3DA6AA" stroke-width="2.45" stroke-linecap="round" fill="none"/>
<path d="M342.6 693.1h0M269.7 707.9h0M335.8 715.5h0M299.5 665.8h0M307.1 691.8h0M318.2 685.2h0M329.3 696.9h0M273.1 663.1h0M278.8 729.5h0M303.0 717.3h0M315.5 637.6h0M305.2 637.2h0M271.9 723.1h0M307.9 673.5h0M278.4 744.5h0M317.9 740.6h0M312.9 717.6h0M262.6 721.2h0M285.2 661.2h0M289.4 643.6h0M269.1 651.5h0M346.6 700.1h0M287.2 636.7h0M299.4 709.3h0M326.3 664.1h0M314.4 746.4h0M307.6 727.9h0M284.3 697.5h0M285.2 716.2h0M316.1 679.9h0M337.4 734.7h0M284.6 647.3h0M310.4 685.2h0M276.6 642.1h0M331.4 703.8h0M281.4 746.3h0M300.7 656.5h0M261.6 691.1h0M308.9 646.4h0M338.5 661.5h0M278.7 660.1h0M284.8 641.7h0M272.4 659.6h0M322.1 722.0h0M300.0 737.1h0M298.2 726.4h0M262.1 693.4h0M262.8 704.0h0M291.5 650.0h0M310.6 660.0h0M279.6 706.7h0M279.4 646.7h0M309.6 656.5h0M331.1 660.0h0M275.5 691.8h0M271.1 694.1h0M258.3 697.8h0M257.2 707.7h0M345.7 685.5h0M286.5 650.1h0M315.0 669.8h0M259.3 713.0h0M312.4 638.0h0M308.9 752.2h0M300.7 698.6h0M320.0 711.6h0M314.1 722.6h0M330.2 651.1h0M313.4 685.9h0M293.0 670.8h0M294.4 675.4h0M314.6 655.9h0M316.4 717.4h0M339.1 679.7h0M257.5 700.8h0M267.6 660.2h0M268.5 738.7h0M346.1 677.5h0M332.7 648.4h0M308.6 662.2h0M287.8 733.9h0M322.4 646.1h0M327.1 698.6h0M326.2 738.4h0M297.3 649.3h0M336.0 711.4h0M288.1 647.6h0M282.3 664.2h0M339.5 729.1h0M272.4 644.8h0M319.8 725.2h0M268.2 668.9h0M347.1 714.0h0M269.0 721.3h0M272.2 666.6h0M277.4 717.3h0M280.8 651.6h0M290.2 691.5h0M281.4 739.2h0" stroke="#F5A548" stroke-width="2.45" stroke-linecap="round" fill="none"/>
<path d="M285.3 673.1h0M298.1 641.7h0M320.7 715.8h0M285.3 667.4h0M296.4 730.0h0M339.0 710.0h0M334.1 702.0h0M281.1 749.8h0M274.4 729.9h0M286.9 656.2h0M301.0 750.2h0M301.9 691.9h0M313.8 696.6h0M267.5 724.7h0M321.6 727.2h0M327.9 658.4h0M290.9 751.0h0M297.6 679.1h0M297.7 661.3h0M269.6 664.8h0M272.8 676.3h0M303.2 710.8h0M296.6 749.9h0M279.2 671.8h0M318.1 654.5h0M316.6 694.8h0M332.8 684.1h0M310.3 703.9h0M297.9 687.0h0M276.4 725.9h0M300.4 739.4h0M341.2 687.8h0M284.5 675.5h0M267.5 700.4h0M282.3 700.0h0M342.5 700.4h0M311.5 712.1h0M291.5 658.0h0M296.1 685.3h0M270.1 655.8h0M328.7 722.7h0M331.3 711.1h0M308.9 754.8h0M323.8 669.8h0M260.1 685.1h0" stroke="#E6EE84" stroke-width="2.45" stroke-linecap="round" fill="none"/>
<path d="M331.3 681.2h0M308.8 682.5h0M332.4 676.6h0M285.0 699.9h0M326.5 748.0h0M266.4 736.3h0M313.0 680.5h0M272.7 673.2h0M329.0 674.4h0M318.5 674.9h0M330.3 664.9h0M266.3 710.4h0M271.2 719.7h0M295.9 741.3h0M265.4 676.4h0M264.7 678.9h0M287.4 671.9h0M307.4 711.0h0M294.2 697.4h0M325.0 685.9h0M339.9 692.8h0M281.6 694.6h0M294.7 687.7h0M302.4 687.4h0M307.8 676.0h0M321.1 736.3h0M292.8 680.6h0M272.7 688.9h0M284.0 709.5h0M334.3 673.4h0M267.0 691.5h0M301.5 705.2h0M301.5 663.8h0M322.3 683.4h0M305.7 688.7h0M308.3 702.4h0M285.3 734.6h0M327.9 653.8h0M297.3 639.0h0M271.0 728.5h0M336.2 683.2h0M289.1 683.3h0M340.5 702.9h0M292.3 688.5h0M287.3 685.8h0M321.8 708.2h0M333.1 668.1h0M298.1 691.0h0M274.4 651.3h0M300.6 695.4h0" stroke="#BCE89B" stroke-width="2.45" stroke-linecap="round" fill="none"/>
<path d="M284.7 706.2h0M280.2 703.5h0M343.6 707.7h0M287.9 692.0h0M265.7 671.2h0M268.4 672.8h0M290.8 707.9h0M318.6 690.2h0M329.7 706.6h0M308.4 707.0h0M334.6 677.8h0M330.1 678.2h0M292.5 703.9h0M274.8 705.7h0M322.5 671.9h0M317.4 701.7h0M283.3 692.9h0M276.5 707.5h0M321.0 690.0h0M278.0 699.6h0M302.2 680.4h0M329.6 684.8h0M261.2 687.7h0M339.5 675.2h0M310.4 688.0h0M312.6 701.6h0M286.9 702.1h0M343.1 676.4h0M273.7 680.5h0M297.0 695.2h0M346.6 696.8h0M264.6 673.2h0M329.6 690.5h0M319.0 671.5h0M293.1 684.7h0M262.5 683.8h0M320.1 695.3h0M275.8 697.6h0M313.4 690.8h0M285.1 679.6h0M317.7 709.4h0M300.5 689.2h0M269.5 683.8h0M271.6 709.4h0M295.5 702.7h0" stroke="#86D79C" stroke-width="2.45" stroke-linecap="round" fill="none"/>
<path d="M270.3 677.7h0M278.2 714.1h0M277.0 711.9h0M311.6 653.9h0M336.1 736.6h0M318.7 660.7h0M289.9 668.6h0M344.8 712.5h0M272.7 702.5h0M304.6 650.1h0M264.0 689.3h0M276.3 644.5h0M278.8 653.6h0M321.4 668.9h0M311.5 645.6h0M325.4 667.4h0M344.2 681.7h0M306.4 643.6h0M328.8 736.0h0M286.1 747.2h0M342.3 674.1h0M261.8 681.3h0M330.6 744.7h0M285.9 718.6h0M274.6 709.3h0M292.2 753.6h0M271.8 711.9h0M346.5 693.2h0M339.5 712.9h0M289.1 663.4h0M340.1 669.5h0M307.4 666.5h0M327.0 717.5h0M259.7 706.5h0M319.6 667.0h0M327.3 728.8h0M273.5 713.6h0M334.0 665.6h0M327.2 650.1h0M327.9 644.3h0M326.6 671.5h0M258.9 694.6h0" stroke="#E8593A" stroke-width="2.45" stroke-linecap="round" fill="none"/>
<path d="M281.70 650.10 L331.50 701.50" stroke="#BC1F29" stroke-width="1.3" fill="none" stroke-linecap="round"/>
<path d="M301.80 671.00 L268.53 723.21" stroke="#BC1F29" stroke-width="1.3" fill="none" stroke-linecap="round"/><path d="M266.50 726.40 L267.29 720.50 L271.51 723.19 Z" fill="#BC1F29"/>
<path d="M318.70 689.40 L301.41 740.42" stroke="#BC1F29" stroke-width="1.3" fill="none" stroke-linecap="round"/><path d="M300.20 744.00 L299.57 738.08 L304.30 739.69 Z" fill="#BC1F29"/>
<path d="M301.00 701.50 L311.25 741.14" stroke="#BC1F29" stroke-width="1.3" fill="none" stroke-linecap="round"/><path d="M312.20 744.80 L308.43 740.20 L313.27 738.95 Z" fill="#BC1F29"/>
<path d="M342.70 683.00 L283.96 725.77" stroke="#BC1F29" stroke-width="1.3" fill="none" stroke-linecap="round"/><path d="M280.90 728.00 L283.79 722.80 L286.74 726.84 Z" fill="#BC1F29"/>
<path d="M258.40 694.20 L259.57 694.39" stroke="#BC1F29" stroke-width="1.3" fill="none" stroke-linecap="round"/><path d="M263.30 695.00 L257.57 696.60 L258.37 691.66 Z" fill="#BC1F29"/>
<path d="M265.70 700.70 L293.00 715.10" stroke="#BC1F29" stroke-width="1.3" fill="none" stroke-linecap="round"/>
<path d="M260.00 707.90 L291.40 723.10" stroke="#BC1F29" stroke-width="1.3" fill="none" stroke-linecap="round"/>
<text x="21.00" y="36.40" font-size="10.3" font-weight="normal" text-anchor="start" textLength="5.00" lengthAdjust="spacingAndGlyphs" fill="#111" stroke="#111" stroke-width="0.28">L</text>
<text x="103.60" y="36.40" font-size="10.3" font-weight="normal" text-anchor="start" textLength="6.00" lengthAdjust="spacingAndGlyphs" fill="#111" stroke="#111" stroke-width="0.28">R</text>
<text x="256.00" y="36.00" font-size="10.3" font-weight="normal" text-anchor="start" textLength="4.60" lengthAdjust="spacingAndGlyphs" fill="#111" stroke="#111" stroke-width="0.28">L</text>
<text x="345.00" y="36.00" font-size="10.3" font-weight="normal" text-anchor="start" textLength="5.60" lengthAdjust="spacingAndGlyphs" fill="#111" stroke="#111" stroke-width="0.28">R</text>
<text x="17.00" y="341.00" font-size="10.3" font-weight="normal" text-anchor="start" textLength="4.40" lengthAdjust="spacingAndGlyphs" fill="#111" stroke="#111" stroke-width="0.28">L</text>
<text x="107.00" y="341.00" font-size="10.3" font-weight="normal" text-anchor="start" textLength="6.00" lengthAdjust="spacingAndGlyphs" fill="#111" stroke="#111" stroke-width="0.28">R</text>
<text x="257.60" y="340.60" font-size="10.3" font-weight="normal" text-anchor="start" textLength="4.80" lengthAdjust="spacingAndGlyphs" fill="#111" stroke="#111" stroke-width="0.28">L</text>
<text x="351.60" y="340.60" font-size="10.3" font-weight="normal" text-anchor="start" textLength="6.40" lengthAdjust="spacingAndGlyphs" fill="#111" stroke="#111" stroke-width="0.28">R</text>
<text x="12.70" y="647.00" font-size="10.3" font-weight="normal" text-anchor="start" textLength="4.30" lengthAdjust="spacingAndGlyphs" fill="#111" stroke="#111" stroke-width="0.28">L</text>
<text x="103.70" y="645.80" font-size="10.3" font-weight="normal" text-anchor="start" textLength="6.30" lengthAdjust="spacingAndGlyphs" fill="#111" stroke="#111" stroke-width="0.28">R</text>
<text x="252.40" y="648.00" font-size="10.3" font-weight="normal" text-anchor="start" textLength="4.60" lengthAdjust="spacingAndGlyphs" fill="#111" stroke="#111" stroke-width="0.28">L</text>
<text x="347.40" y="647.00" font-size="10.3" font-weight="normal" text-anchor="start" textLength="5.60" lengthAdjust="spacingAndGlyphs" fill="#111" stroke="#111" stroke-width="0.28">R</text>
<text x="38.00" y="164.80" font-size="11.5" font-weight="normal" text-anchor="start" textLength="51.60" lengthAdjust="spacingAndGlyphs" fill="#111" stroke="#111" stroke-width="0.22">Back view</text>
<text x="136.60" y="164.80" font-size="11.5" font-weight="normal" text-anchor="start" textLength="92.80" lengthAdjust="spacingAndGlyphs" fill="#111" stroke="#111" stroke-width="0.22">Right hemisphere</text>
<text x="281.60" y="165.40" font-size="11.5" font-weight="normal" text-anchor="start" textLength="45.80" lengthAdjust="spacingAndGlyphs" fill="#111" stroke="#111" stroke-width="0.22">Top view</text>
<text x="39.80" y="469.20" font-size="11.5" font-weight="normal" text-anchor="start" textLength="51.60" lengthAdjust="spacingAndGlyphs" fill="#111" stroke="#111" stroke-width="0.22">Back view</text>
<text x="138.00" y="469.40" font-size="11.5" font-weight="normal" text-anchor="start" textLength="93.00" lengthAdjust="spacingAndGlyphs" fill="#111" stroke="#111" stroke-width="0.22">Right hemisphere</text>
<text x="283.00" y="469.40" font-size="11.5" font-weight="normal" text-anchor="start" textLength="46.00" lengthAdjust="spacingAndGlyphs" fill="#111" stroke="#111" stroke-width="0.22">Top view</text>
<text x="31.70" y="779.10" font-size="11.5" font-weight="normal" text-anchor="start" textLength="51.90" lengthAdjust="spacingAndGlyphs" fill="#111" stroke="#111" stroke-width="0.22">Back view</text>
<text x="130.00" y="779.40" font-size="11.5" font-weight="normal" text-anchor="start" textLength="93.00" lengthAdjust="spacingAndGlyphs" fill="#111" stroke="#111" stroke-width="0.22">Right hemisphere</text>
<text x="275.60" y="779.40" font-size="11.5" font-weight="normal" text-anchor="start" textLength="45.40" lengthAdjust="spacingAndGlyphs" fill="#111" stroke="#111" stroke-width="0.22">Top view</text>
</svg></body></html>
